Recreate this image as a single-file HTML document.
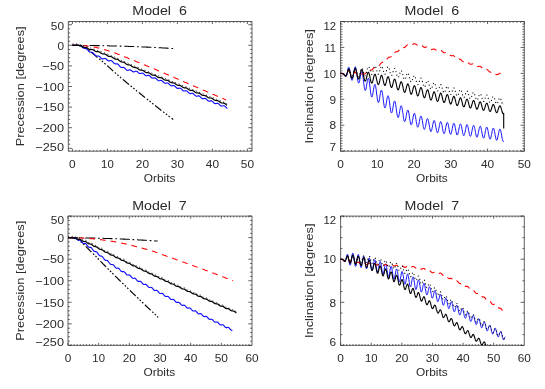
<!DOCTYPE html>
<html>
<head>
<meta charset="utf-8">
<title>Precession and inclination</title>
<style>
html, body { margin: 0; padding: 0; background: #fff; }
body { width: 545px; height: 389px; overflow: hidden; font-family: "Liberation Sans", sans-serif; }
svg { display: block; will-change: transform; }
</style>
</head>
<body>
<svg width="545" height="389" viewBox="0 0 545 389" font-family="'Liberation Sans', sans-serif" fill="#2a2a2a">
<rect x="0" y="0" width="545" height="389" fill="#fff"/>
<clipPath id="c1"><rect x="68.3" y="21.5" width="183.7" height="129.7"/></clipPath>
<path d="M68.3 21.5H252V151.2H68.3ZM68.9 151.2v-1.3M68.9 21.5v1.3M72.4 151.2v-2.59M72.4 21.5v2.59M75.9 151.2v-1.3M75.9 21.5v1.3M79.4 151.2v-1.3M79.4 21.5v1.3M82.9 151.2v-1.3M82.9 21.5v1.3M86.4 151.2v-1.3M86.4 21.5v1.3M89.9 151.2v-1.3M89.9 21.5v1.3M93.4 151.2v-1.3M93.4 21.5v1.3M96.9 151.2v-1.3M96.9 21.5v1.3M100.4 151.2v-1.3M100.4 21.5v1.3M103.9 151.2v-1.3M103.9 21.5v1.3M107.4 151.2v-2.59M107.4 21.5v2.59M110.9 151.2v-1.3M110.9 21.5v1.3M114.4 151.2v-1.3M114.4 21.5v1.3M117.9 151.2v-1.3M117.9 21.5v1.3M121.4 151.2v-1.3M121.4 21.5v1.3M124.9 151.2v-1.3M124.9 21.5v1.3M128.4 151.2v-1.3M128.4 21.5v1.3M131.9 151.2v-1.3M131.9 21.5v1.3M135.4 151.2v-1.3M135.4 21.5v1.3M138.9 151.2v-1.3M138.9 21.5v1.3M142.4 151.2v-2.59M142.4 21.5v2.59M145.9 151.2v-1.3M145.9 21.5v1.3M149.4 151.2v-1.3M149.4 21.5v1.3M152.9 151.2v-1.3M152.9 21.5v1.3M156.4 151.2v-1.3M156.4 21.5v1.3M159.9 151.2v-1.3M159.9 21.5v1.3M163.4 151.2v-1.3M163.4 21.5v1.3M166.9 151.2v-1.3M166.9 21.5v1.3M170.4 151.2v-1.3M170.4 21.5v1.3M173.9 151.2v-1.3M173.9 21.5v1.3M177.4 151.2v-2.59M177.4 21.5v2.59M180.9 151.2v-1.3M180.9 21.5v1.3M184.4 151.2v-1.3M184.4 21.5v1.3M187.9 151.2v-1.3M187.9 21.5v1.3M191.4 151.2v-1.3M191.4 21.5v1.3M194.9 151.2v-1.3M194.9 21.5v1.3M198.4 151.2v-1.3M198.4 21.5v1.3M201.9 151.2v-1.3M201.9 21.5v1.3M205.4 151.2v-1.3M205.4 21.5v1.3M208.9 151.2v-1.3M208.9 21.5v1.3M212.4 151.2v-2.59M212.4 21.5v2.59M215.9 151.2v-1.3M215.9 21.5v1.3M219.4 151.2v-1.3M219.4 21.5v1.3M222.9 151.2v-1.3M222.9 21.5v1.3M226.4 151.2v-1.3M226.4 21.5v1.3M229.9 151.2v-1.3M229.9 21.5v1.3M233.4 151.2v-1.3M233.4 21.5v1.3M236.9 151.2v-1.3M236.9 21.5v1.3M240.4 151.2v-1.3M240.4 21.5v1.3M243.9 151.2v-1.3M243.9 21.5v1.3M247.4 151.2v-2.59M247.4 21.5v2.59M250.9 151.2v-1.3M250.9 21.5v1.3M68.3 148.3h3.67M252 148.3h-3.67M68.3 144.18h1.84M252 144.18h-1.84M68.3 140.06h1.84M252 140.06h-1.84M68.3 135.94h1.84M252 135.94h-1.84M68.3 131.82h1.84M252 131.82h-1.84M68.3 127.7h3.67M252 127.7h-3.67M68.3 123.58h1.84M252 123.58h-1.84M68.3 119.46h1.84M252 119.46h-1.84M68.3 115.34h1.84M252 115.34h-1.84M68.3 111.22h1.84M252 111.22h-1.84M68.3 107.1h3.67M252 107.1h-3.67M68.3 102.98h1.84M252 102.98h-1.84M68.3 98.86h1.84M252 98.86h-1.84M68.3 94.74h1.84M252 94.74h-1.84M68.3 90.62h1.84M252 90.62h-1.84M68.3 86.5h3.67M252 86.5h-3.67M68.3 82.38h1.84M252 82.38h-1.84M68.3 78.26h1.84M252 78.26h-1.84M68.3 74.14h1.84M252 74.14h-1.84M68.3 70.02h1.84M252 70.02h-1.84M68.3 65.9h3.67M252 65.9h-3.67M68.3 61.78h1.84M252 61.78h-1.84M68.3 57.66h1.84M252 57.66h-1.84M68.3 53.54h1.84M252 53.54h-1.84M68.3 49.42h1.84M252 49.42h-1.84M68.3 45.3h3.67M252 45.3h-3.67M68.3 41.18h1.84M252 41.18h-1.84M68.3 37.06h1.84M252 37.06h-1.84M68.3 32.94h1.84M252 32.94h-1.84M68.3 28.82h1.84M252 28.82h-1.84M68.3 24.7h3.67M252 24.7h-3.67" fill="none" stroke="#3a3a3a" stroke-width="0.8"/>
<path d="M72.4 45.3 L72.9 45.3 L73.4 45.3 L73.9 45.3 L74.4 45.3 L75 45.3 L75.5 45.3 L76 45.3 L76.5 45.3 L77 45.3 L77.5 45.3 L78 45.3 L78.5 45.3 L79 45.3 L79.5 45.4 L80.1 45.4 L80.6 45.4 L81.1 45.4 L81.6 45.4 L82.1 45.4 L82.6 45.4 L83.1 45.4 L83.6 45.4 L84.1 45.4 L84.6 45.4 L85.2 45.4 L85.7 45.4 L86.2 45.4 L86.7 45.4 L87.2 45.4 L87.7 45.4 L88.2 45.4 L88.7 45.5 L89.2 45.5 L89.7 45.5 L90.3 45.5 L90.8 45.5 L91.3 45.5 L91.8 45.5 L92.3 45.5 L92.8 45.5 L93.3 45.5 L93.8 45.5 L94.3 45.5 L94.8 45.5 L95.4 45.6 L95.9 45.6 L96.4 45.6 L96.9 45.6 L97.4 45.6 L97.9 45.6 L98.4 45.6 L98.9 45.6 L99.4 45.6 L99.9 45.6 L100.5 45.7 L101 45.7 L101.5 45.7 L102 45.7 L102.5 45.7 L103 45.7 L103.5 45.7 L104 45.7 L104.5 45.7 L105 45.8 L105.6 45.8 L106.1 45.8 L106.6 45.8 L107.1 45.8 L107.6 45.8 L108.1 45.8 L108.6 45.8 L109.1 45.8 L109.6 45.9 L110.1 45.9 L110.7 45.9 L111.2 45.9 L111.7 45.9 L112.2 45.9 L112.7 45.9 L113.2 45.9 L113.7 46 L114.2 46 L114.7 46 L115.2 46 L115.8 46 L116.3 46 L116.8 46 L117.3 46 L117.8 46.1 L118.3 46.1 L118.8 46.1 L119.3 46.1 L119.8 46.1 L120.3 46.1 L120.9 46.1 L121.4 46.2 L121.9 46.2 L122.4 46.2 L122.9 46.2 L123.4 46.2 L123.9 46.2 L124.4 46.2 L124.9 46.3 L125.4 46.3 L126 46.3 L126.5 46.3 L127 46.3 L127.5 46.3 L128 46.3 L128.5 46.4 L129 46.4 L129.5 46.4 L130 46.4 L130.5 46.4 L131.1 46.4 L131.6 46.5 L132.1 46.5 L132.6 46.5 L133.1 46.5 L133.6 46.5 L134.1 46.6 L134.6 46.6 L135.1 46.6 L135.6 46.6 L136.2 46.6 L136.7 46.7 L137.2 46.7 L137.7 46.7 L138.2 46.7 L138.7 46.7 L139.2 46.8 L139.7 46.8 L140.2 46.8 L140.7 46.8 L141.3 46.8 L141.8 46.9 L142.3 46.9 L142.8 46.9 L143.3 46.9 L143.8 46.9 L144.3 47 L144.8 47 L145.3 47 L145.8 47 L146.4 47.1 L146.9 47.1 L147.4 47.1 L147.9 47.1 L148.4 47.2 L148.9 47.2 L149.4 47.2 L149.9 47.2 L150.4 47.3 L150.9 47.3 L151.5 47.3 L152 47.3 L152.5 47.4 L153 47.4 L153.5 47.4 L154 47.4 L154.5 47.5 L155 47.5 L155.5 47.5 L156 47.5 L156.6 47.6 L157.1 47.6 L157.6 47.6 L158.1 47.6 L158.6 47.7 L159.1 47.7 L159.6 47.7 L160.1 47.7 L160.6 47.8 L161.1 47.8 L161.7 47.8 L162.2 47.9 L162.7 47.9 L163.2 47.9 L163.7 47.9 L164.2 48 L164.7 48 L165.2 48 L165.7 48.1 L166.2 48.1 L166.8 48.1 L167.3 48.1 L167.8 48.2 L168.3 48.2 L168.8 48.2 L169.3 48.3 L169.8 48.3 L170.3 48.3 L170.8 48.4 L171.3 48.4 L171.9 48.5 L172.4 48.5 L172.9 48.5 L173.4 48.6 L173.9 48.6" fill="none" stroke="#000000" stroke-width="1.05" stroke-linejoin="round" stroke-dasharray="10 2.8 1.7 2.8"/>
<path d="M72.4 45.3 L72.9 45.3 L73.4 45.3 L73.9 45.3 L74.4 45.3 L74.9 45.3 L75.4 45.3 L75.9 45.4 L76.5 45.4 L77 45.4 L77.5 45.4 L78 45.4 L78.5 45.5 L79 45.5 L79.5 45.7 L80 45.8 L80.5 46 L81 46.2 L81.5 46.4 L82 46.6 L82.5 46.9 L83 47.1 L83.5 47.3 L84.1 47.6 L84.6 47.8 L85.1 48.1 L85.6 48.4 L86.1 48.6 L86.6 48.9 L87.1 49.3 L87.6 49.6 L88.1 49.9 L88.6 50.3 L89.1 50.6 L89.6 51 L90.1 51.4 L90.6 51.8 L91.1 52.2 L91.6 52.6 L92.2 53 L92.7 53.4 L93.2 53.8 L93.7 54.2 L94.2 54.6 L94.7 55 L95.2 55.5 L95.7 55.9 L96.2 56.3 L96.7 56.8 L97.2 57.2 L97.7 57.6 L98.2 58.1 L98.7 58.5 L99.2 58.9 L99.8 59.3 L100.3 59.7 L100.8 60.1 L101.3 60.6 L101.8 61 L102.3 61.4 L102.8 61.8 L103.3 62.2 L103.8 62.7 L104.3 63.1 L104.8 63.5 L105.3 64 L105.8 64.4 L106.3 64.9 L106.8 65.3 L107.4 65.8 L107.9 66.2 L108.4 66.7 L108.9 67.1 L109.4 67.6 L109.9 68 L110.4 68.5 L110.9 69 L111.4 69.4 L111.9 69.9 L112.4 70.3 L112.9 70.8 L113.4 71.2 L113.9 71.7 L114.4 72.2 L114.9 72.6 L115.5 73.1 L116 73.5 L116.5 74 L117 74.4 L117.5 74.8 L118 75.3 L118.5 75.7 L119 76.2 L119.5 76.6 L120 77 L120.5 77.4 L121 77.9 L121.5 78.3 L122 78.7 L122.5 79.1 L123.1 79.6 L123.6 80 L124.1 80.4 L124.6 80.8 L125.1 81.3 L125.6 81.7 L126.1 82.1 L126.6 82.5 L127.1 83 L127.6 83.4 L128.1 83.8 L128.6 84.2 L129.1 84.6 L129.6 85.1 L130.1 85.5 L130.7 85.9 L131.2 86.3 L131.7 86.7 L132.2 87.1 L132.7 87.5 L133.2 88 L133.7 88.4 L134.2 88.8 L134.7 89.2 L135.2 89.6 L135.7 90 L136.2 90.4 L136.7 90.9 L137.2 91.3 L137.7 91.7 L138.2 92.1 L138.8 92.5 L139.3 92.9 L139.8 93.3 L140.3 93.7 L140.8 94.1 L141.3 94.5 L141.8 94.9 L142.3 95.3 L142.8 95.8 L143.3 96.2 L143.8 96.6 L144.3 97 L144.8 97.4 L145.3 97.8 L145.8 98.2 L146.4 98.6 L146.9 99 L147.4 99.4 L147.9 99.8 L148.4 100.2 L148.9 100.6 L149.4 101 L149.9 101.4 L150.4 101.8 L150.9 102.2 L151.4 102.6 L151.9 103 L152.4 103.4 L152.9 103.8 L153.4 104.2 L154 104.6 L154.5 105 L155 105.4 L155.5 105.8 L156 106.2 L156.5 106.6 L157 107 L157.5 107.4 L158 107.8 L158.5 108.2 L159 108.6 L159.5 109 L160 109.4 L160.5 109.8 L161 110.2 L161.5 110.5 L162.1 110.9 L162.6 111.3 L163.1 111.7 L163.6 112.1 L164.1 112.5 L164.6 112.9 L165.1 113.3 L165.6 113.7 L166.1 114.1 L166.6 114.4 L167.1 114.8 L167.6 115.2 L168.1 115.6 L168.6 116 L169.1 116.4 L169.7 116.8 L170.2 117.2 L170.7 117.5 L171.2 117.9 L171.7 118.3 L172.2 118.7 L172.7 119.1 L173.2 119.5" fill="none" stroke="#000000" stroke-width="1.2" stroke-linejoin="round" stroke-dasharray="8 2.2 1.6 1.8 1.6 1.8 1.6 2.2"/>
<path d="M72.4 45.3 L72.7 45.3 L72.9 45.3 L73.2 45.3 L73.4 45.3 L73.7 45.3 L74 45.3 L74.2 45.3 L74.5 45.3 L74.7 45.3 L75 45.3 L75.2 45.3 L75.5 45.3 L75.8 45.3 L76 45.4 L76.3 45.4 L76.5 45.4 L76.8 45.4 L77.1 45.4 L77.3 45.4 L77.6 45.4 L77.8 45.4 L78.1 45.4 L78.4 45.4 L78.6 45.5 L78.9 45.5 L79.1 45.5 L79.4 45.6 L79.6 45.6 L79.9 45.7 L80.2 45.8 L80.4 45.9 L80.7 46 L80.9 46.1 L81.2 46.3 L81.5 46.5 L81.7 46.7 L82 46.9 L82.2 47.1 L82.5 47.4 L82.8 47.6 L83 47.8 L83.3 47.9 L83.5 48.1 L83.8 48.2 L84 48.3 L84.3 48.3 L84.6 48.4 L84.8 48.4 L85.1 48.4 L85.3 48.4 L85.6 48.4 L85.9 48.5 L86.1 48.5 L86.4 48.6 L86.6 48.8 L86.9 49 L87.2 49.3 L87.4 49.6 L87.7 49.9 L87.9 50.2 L88.2 50.6 L88.4 50.9 L88.7 51.2 L89 51.4 L89.2 51.7 L89.5 51.9 L89.7 52 L90 52.1 L90.3 52.2 L90.5 52.2 L90.8 52.2 L91 52.2 L91.3 52.2 L91.6 52.2 L91.8 52.2 L92.1 52.3 L92.3 52.4 L92.6 52.5 L92.8 52.7 L93.1 52.9 L93.4 53.2 L93.6 53.5 L93.9 53.8 L94.1 54.1 L94.4 54.4 L94.7 54.8 L94.9 55.1 L95.2 55.3 L95.4 55.6 L95.7 55.7 L96 55.9 L96.2 56 L96.5 56 L96.7 56 L97 56 L97.2 56 L97.5 56 L97.8 56 L98 56 L98.3 56 L98.5 56 L98.8 56.1 L99.1 56.2 L99.3 56.4 L99.6 56.6 L99.8 56.9 L100.1 57.1 L100.4 57.4 L100.6 57.7 L100.9 58 L101.1 58.2 L101.4 58.4 L101.6 58.6 L101.9 58.8 L102.2 58.9 L102.4 58.9 L102.7 58.9 L102.9 58.9 L103.2 58.8 L103.5 58.7 L103.7 58.6 L104 58.6 L104.2 58.5 L104.5 58.5 L104.8 58.4 L105 58.5 L105.3 58.6 L105.5 58.7 L105.8 58.8 L106.1 59 L106.3 59.3 L106.6 59.5 L106.8 59.7 L107.1 60 L107.3 60.2 L107.6 60.4 L107.9 60.6 L108.1 60.7 L108.4 60.8 L108.6 60.9 L108.9 60.9 L109.2 60.9 L109.4 60.8 L109.7 60.7 L109.9 60.7 L110.2 60.6 L110.5 60.5 L110.7 60.5 L111 60.5 L111.2 60.6 L111.5 60.7 L111.7 60.8 L112 61 L112.3 61.3 L112.5 61.5 L112.8 61.8 L113 62.1 L113.3 62.4 L113.6 62.7 L113.8 63 L114.1 63.2 L114.3 63.4 L114.6 63.6 L114.9 63.7 L115.1 63.8 L115.4 63.8 L115.6 63.8 L115.9 63.8 L116.1 63.8 L116.4 63.8 L116.7 63.8 L116.9 63.8 L117.2 63.8 L117.4 63.9 L117.7 64 L118 64.2 L118.2 64.4 L118.5 64.7 L118.7 65 L119 65.3 L119.3 65.6 L119.5 65.9 L119.8 66.3 L120 66.5 L120.3 66.8 L120.5 67 L120.8 67.2 L121.1 67.3 L121.3 67.4 L121.6 67.5 L121.8 67.5 L122.1 67.5 L122.4 67.4 L122.6 67.4 L122.9 67.4 L123.1 67.4 L123.4 67.4 L123.7 67.5 L123.9 67.6 L124.2 67.7 L124.4 67.9 L124.7 68.1 L124.9 68.4 L125.2 68.6 L125.5 68.9 L125.7 69.2 L126 69.5 L126.2 69.7 L126.5 69.9 L126.8 70.1 L127 70.2 L127.3 70.3 L127.5 70.4 L127.8 70.3 L128.1 70.3 L128.3 70.2 L128.6 70.1 L128.8 70 L129.1 69.9 L129.3 69.9 L129.6 69.8 L129.9 69.8 L130.1 69.8 L130.4 69.9 L130.6 70 L130.9 70.2 L131.2 70.4 L131.4 70.6 L131.7 70.8 L131.9 71 L132.2 71.2 L132.5 71.4 L132.7 71.6 L133 71.7 L133.2 71.8 L133.5 71.9 L133.7 71.9 L134 71.9 L134.3 71.8 L134.5 71.7 L134.8 71.6 L135 71.5 L135.3 71.4 L135.6 71.3 L135.8 71.2 L136.1 71.2 L136.3 71.2 L136.6 71.3 L136.9 71.4 L137.1 71.5 L137.4 71.7 L137.6 72 L137.9 72.2 L138.1 72.4 L138.4 72.7 L138.7 72.9 L138.9 73.1 L139.2 73.3 L139.4 73.4 L139.7 73.5 L140 73.5 L140.2 73.5 L140.5 73.5 L140.7 73.5 L141 73.4 L141.3 73.3 L141.5 73.2 L141.8 73.1 L142 73.1 L142.3 73.1 L142.5 73.1 L142.8 73.2 L143.1 73.3 L143.3 73.5 L143.6 73.7 L143.8 73.9 L144.1 74.2 L144.4 74.4 L144.6 74.7 L144.9 74.9 L145.1 75.2 L145.4 75.4 L145.7 75.5 L145.9 75.6 L146.2 75.7 L146.4 75.7 L146.7 75.7 L146.9 75.7 L147.2 75.6 L147.5 75.5 L147.7 75.5 L148 75.4 L148.2 75.4 L148.5 75.4 L148.8 75.4 L149 75.5 L149.3 75.6 L149.5 75.8 L149.8 76 L150.1 76.2 L150.3 76.5 L150.6 76.7 L150.8 77 L151.1 77.3 L151.3 77.5 L151.6 77.7 L151.9 77.9 L152.1 78 L152.4 78.1 L152.6 78.2 L152.9 78.2 L153.2 78.1 L153.4 78.1 L153.7 78 L153.9 78 L154.2 77.9 L154.5 77.9 L154.7 77.9 L155 77.9 L155.2 78 L155.5 78.1 L155.7 78.3 L156 78.5 L156.3 78.7 L156.5 79 L156.8 79.2 L157 79.5 L157.3 79.8 L157.6 80 L157.8 80.2 L158.1 80.4 L158.3 80.6 L158.6 80.7 L158.9 80.7 L159.1 80.7 L159.4 80.7 L159.6 80.7 L159.9 80.6 L160.1 80.5 L160.4 80.5 L160.7 80.4 L160.9 80.4 L161.2 80.5 L161.4 80.5 L161.7 80.6 L162 80.8 L162.2 81 L162.5 81.2 L162.7 81.5 L163 81.7 L163.3 82 L163.5 82.3 L163.8 82.5 L164 82.7 L164.3 82.9 L164.5 83.1 L164.8 83.2 L165.1 83.2 L165.3 83.3 L165.6 83.2 L165.8 83.2 L166.1 83.1 L166.4 83.1 L166.6 83 L166.9 83 L167.1 82.9 L167.4 83 L167.7 83 L167.9 83.1 L168.2 83.3 L168.4 83.4 L168.7 83.7 L169 83.9 L169.2 84.2 L169.5 84.5 L169.7 84.7 L170 85 L170.2 85.2 L170.5 85.4 L170.8 85.6 L171 85.7 L171.3 85.8 L171.5 85.8 L171.8 85.8 L172.1 85.7 L172.3 85.7 L172.6 85.6 L172.8 85.6 L173.1 85.5 L173.4 85.5 L173.6 85.5 L173.9 85.6 L174.1 85.7 L174.4 85.8 L174.6 86 L174.9 86.2 L175.2 86.4 L175.4 86.7 L175.7 87 L175.9 87.3 L176.2 87.5 L176.5 87.8 L176.7 88 L177 88.1 L177.2 88.3 L177.5 88.4 L177.8 88.4 L178 88.4 L178.3 88.4 L178.5 88.3 L178.8 88.3 L179 88.2 L179.3 88.1 L179.6 88.1 L179.8 88.1 L180.1 88.2 L180.3 88.3 L180.6 88.4 L180.9 88.6 L181.1 88.8 L181.4 89 L181.6 89.3 L181.9 89.6 L182.2 89.8 L182.4 90.1 L182.7 90.3 L182.9 90.6 L183.2 90.7 L183.4 90.9 L183.7 91 L184 91 L184.2 91 L184.5 91 L184.7 91 L185 90.9 L185.3 90.8 L185.5 90.8 L185.8 90.7 L186 90.7 L186.3 90.8 L186.6 90.9 L186.8 91 L187.1 91.1 L187.3 91.3 L187.6 91.6 L187.8 91.8 L188.1 92.1 L188.4 92.4 L188.6 92.7 L188.9 92.9 L189.1 93.1 L189.4 93.3 L189.7 93.5 L189.9 93.6 L190.2 93.6 L190.4 93.6 L190.7 93.6 L191 93.6 L191.2 93.5 L191.5 93.4 L191.7 93.4 L192 93.3 L192.2 93.3 L192.5 93.4 L192.8 93.4 L193 93.5 L193.3 93.7 L193.5 93.9 L193.8 94.1 L194.1 94.4 L194.3 94.6 L194.6 94.9 L194.8 95.2 L195.1 95.4 L195.4 95.7 L195.6 95.8 L195.9 96 L196.1 96.1 L196.4 96.2 L196.6 96.2 L196.9 96.2 L197.2 96.1 L197.4 96.1 L197.7 96 L197.9 95.9 L198.2 95.9 L198.5 95.9 L198.7 95.9 L199 95.9 L199.2 96 L199.5 96.2 L199.8 96.4 L200 96.6 L200.3 96.8 L200.5 97.1 L200.8 97.4 L201 97.6 L201.3 97.9 L201.6 98.1 L201.8 98.3 L202.1 98.5 L202.3 98.6 L202.6 98.6 L202.9 98.7 L203.1 98.7 L203.4 98.6 L203.6 98.6 L203.9 98.5 L204.2 98.4 L204.4 98.4 L204.7 98.4 L204.9 98.4 L205.2 98.4 L205.4 98.5 L205.7 98.6 L206 98.8 L206.2 99 L206.5 99.3 L206.7 99.5 L207 99.8 L207.3 100.1 L207.5 100.3 L207.8 100.6 L208 100.8 L208.3 100.9 L208.6 101 L208.8 101.1 L209.1 101.2 L209.3 101.1 L209.6 101.1 L209.8 101.1 L210.1 101 L210.4 100.9 L210.6 100.9 L210.9 100.8 L211.1 100.8 L211.4 100.9 L211.7 100.9 L211.9 101.1 L212.2 101.2 L212.4 101.4 L212.7 101.7 L213 101.9 L213.2 102.2 L213.5 102.5 L213.7 102.7 L214 103 L214.2 103.2 L214.5 103.4 L214.8 103.5 L215 103.6 L215.3 103.6 L215.5 103.6 L215.8 103.6 L216.1 103.5 L216.3 103.5 L216.6 103.4 L216.8 103.3 L217.1 103.3 L217.4 103.3 L217.6 103.3 L217.9 103.4 L218.1 103.5 L218.4 103.6 L218.6 103.8 L218.9 104.1 L219.2 104.3 L219.4 104.6 L219.7 104.9 L219.9 105.1 L220.2 105.4 L220.5 105.6 L220.7 105.8 L221 105.9 L221.2 106 L221.5 106 L221.8 106 L222 106 L222.3 106 L222.5 105.9 L222.8 105.8 L223 105.8 L223.3 105.7 L223.6 105.7 L223.8 105.7 L224.1 105.8 L224.3 105.9 L224.6 106 L224.9 106.2 L225.1 106.4 L225.4 106.7 L225.6 106.9 L225.9 107.2 L226.2 107.5 L226.4 107.7 L226.7 107.9 L226.9 108.1 L227.2 108.3 L227.4 108.4" fill="none" stroke="#1010ff" stroke-width="1.15" stroke-linejoin="round"/>
<path d="M72.4 45.3 L72.9 45.3 L73.4 45.3 L73.9 45.3 L74.5 45.3 L75 45.3 L75.5 45.3 L76 45.3 L76.5 45.3 L77 45.3 L77.5 45.3 L78.1 45.4 L78.6 45.4 L79.1 45.4 L79.6 45.4 L80.1 45.4 L80.6 45.4 L81.1 45.4 L81.6 45.5 L82.2 45.5 L82.7 45.5 L83.2 45.6 L83.7 45.6 L84.2 45.7 L84.7 45.7 L85.2 45.8 L85.8 45.9 L86.3 45.9 L86.8 46 L87.3 46.1 L87.8 46.1 L88.3 46.2 L88.8 46.3 L89.4 46.3 L89.9 46.4 L90.4 46.5 L90.9 46.6 L91.4 46.6 L91.9 46.7 L92.4 46.8 L93 46.9 L93.5 47 L94 47.1 L94.5 47.1 L95 47.2 L95.5 47.3 L96 47.4 L96.6 47.6 L97.1 47.7 L97.6 47.8 L98.1 47.9 L98.6 48 L99.1 48.2 L99.6 48.3 L100.1 48.4 L100.7 48.6 L101.2 48.7 L101.7 48.8 L102.2 49 L102.7 49.1 L103.2 49.3 L103.7 49.4 L104.3 49.6 L104.8 49.7 L105.3 49.9 L105.8 50 L106.3 50.2 L106.8 50.3 L107.3 50.5 L107.9 50.6 L108.4 50.8 L108.9 51 L109.4 51.1 L109.9 51.3 L110.4 51.4 L110.9 51.6 L111.5 51.8 L112 51.9 L112.5 52.1 L113 52.3 L113.5 52.5 L114 52.6 L114.5 52.8 L115.1 53 L115.6 53.2 L116.1 53.4 L116.6 53.6 L117.1 53.8 L117.6 54 L118.1 54.2 L118.6 54.4 L119.2 54.6 L119.7 54.8 L120.2 55 L120.7 55.2 L121.2 55.4 L121.7 55.6 L122.2 55.8 L122.8 56 L123.3 56.3 L123.8 56.5 L124.3 56.7 L124.8 56.9 L125.3 57.1 L125.8 57.3 L126.4 57.5 L126.9 57.7 L127.4 57.9 L127.9 58.1 L128.4 58.4 L128.9 58.6 L129.4 58.8 L130 59 L130.5 59.2 L131 59.4 L131.5 59.6 L132 59.8 L132.5 60 L133 60.2 L133.6 60.4 L134.1 60.6 L134.6 60.8 L135.1 61 L135.6 61.2 L136.1 61.4 L136.6 61.7 L137.1 61.9 L137.7 62.1 L138.2 62.3 L138.7 62.5 L139.2 62.7 L139.7 62.9 L140.2 63.1 L140.7 63.3 L141.3 63.5 L141.8 63.8 L142.3 64 L142.8 64.2 L143.3 64.4 L143.8 64.6 L144.3 64.8 L144.9 65 L145.4 65.2 L145.9 65.5 L146.4 65.7 L146.9 65.9 L147.4 66.1 L147.9 66.3 L148.5 66.5 L149 66.7 L149.5 67 L150 67.2 L150.5 67.4 L151 67.6 L151.5 67.8 L152.1 68 L152.6 68.3 L153.1 68.5 L153.6 68.7 L154.1 68.9 L154.6 69.1 L155.1 69.3 L155.6 69.6 L156.2 69.8 L156.7 70 L157.2 70.2 L157.7 70.4 L158.2 70.7 L158.7 70.9 L159.2 71.1 L159.8 71.3 L160.3 71.5 L160.8 71.7 L161.3 72 L161.8 72.2 L162.3 72.4 L162.8 72.6 L163.4 72.8 L163.9 73.1 L164.4 73.3 L164.9 73.5 L165.4 73.7 L165.9 73.9 L166.4 74.2 L167 74.4 L167.5 74.6 L168 74.8 L168.5 75.1 L169 75.3 L169.5 75.5 L170 75.7 L170.6 75.9 L171.1 76.2 L171.6 76.4 L172.1 76.6 L172.6 76.8 L173.1 77.1 L173.6 77.3 L174.1 77.5 L174.7 77.7 L175.2 77.9 L175.7 78.2 L176.2 78.4 L176.7 78.6 L177.2 78.8 L177.7 79.1 L178.3 79.3 L178.8 79.5 L179.3 79.7 L179.8 79.9 L180.3 80.2 L180.8 80.4 L181.3 80.6 L181.9 80.8 L182.4 81.1 L182.9 81.3 L183.4 81.5 L183.9 81.7 L184.4 82 L184.9 82.2 L185.5 82.4 L186 82.6 L186.5 82.9 L187 83.1 L187.5 83.3 L188 83.5 L188.5 83.7 L189.1 84 L189.6 84.2 L190.1 84.4 L190.6 84.6 L191.1 84.9 L191.6 85.1 L192.1 85.3 L192.6 85.5 L193.2 85.7 L193.7 86 L194.2 86.2 L194.7 86.4 L195.2 86.6 L195.7 86.9 L196.2 87.1 L196.8 87.3 L197.3 87.5 L197.8 87.7 L198.3 88 L198.8 88.2 L199.3 88.4 L199.8 88.6 L200.4 88.9 L200.9 89.1 L201.4 89.3 L201.9 89.5 L202.4 89.7 L202.9 90 L203.4 90.2 L204 90.4 L204.5 90.6 L205 90.8 L205.5 91.1 L206 91.3 L206.5 91.5 L207 91.7 L207.6 91.9 L208.1 92.2 L208.6 92.4 L209.1 92.6 L209.6 92.8 L210.1 93.1 L210.6 93.3 L211.1 93.5 L211.7 93.7 L212.2 93.9 L212.7 94.2 L213.2 94.4 L213.7 94.6 L214.2 94.8 L214.7 95 L215.3 95.3 L215.8 95.5 L216.3 95.7 L216.8 95.9 L217.3 96.1 L217.8 96.4 L218.3 96.6 L218.9 96.8 L219.4 97 L219.9 97.2 L220.4 97.5 L220.9 97.7 L221.4 97.9 L221.9 98.1 L222.5 98.3 L223 98.6 L223.5 98.8 L224 99 L224.5 99.2 L225 99.4 L225.5 99.7 L226.1 99.9" fill="none" stroke="#ff0000" stroke-width="1.1" stroke-linejoin="round" stroke-dasharray="5.8 4.9"/>
<path d="M72.4 44 L72.7 44 L72.9 44 L73.2 44 L73.4 44 L73.7 44 L73.9 44 L74.2 44 L74.5 44 L74.7 44 L75 44 L75.2 44 L75.5 44 L75.8 44 L76 44 L76.3 44 L76.5 44 L76.8 44 L77 44 L77.3 44.1 L77.6 44.1 L77.8 44.1 L78.1 44.1 L78.3 44.1 L78.6 44.1 L78.9 44.1 L79.1 44.1 L79.4 44.2 L79.6 44.2 L79.9 44.3 L80.1 44.4 L80.4 44.5 L80.7 44.6 L80.9 44.7 L81.2 44.8 L81.4 44.9 L81.7 45 L82 45.1 L82.2 45.2 L82.5 45.3 L82.7 45.4 L83 45.5 L83.2 45.6 L83.5 45.7 L83.8 45.8 L84 45.9 L84.3 46 L84.5 46.1 L84.8 46.1 L85.1 46.2 L85.3 46.3 L85.6 46.4 L85.8 46.5 L86.1 46.6 L86.3 46.7 L86.6 46.7 L86.9 46.8 L87.1 46.9 L87.4 47 L87.6 47.1 L87.9 47.2 L88.2 47.3 L88.4 47.3 L88.7 47.4 L88.9 47.5 L89.2 47.6 L89.4 47.7 L89.7 47.8 L90 47.9 L90.2 47.9 L90.5 48 L90.7 48.1 L91 48.2 L91.3 48.3 L91.5 48.4 L91.8 48.5 L92 48.5 L92.3 48.6 L92.5 48.7 L92.8 48.8 L93.1 48.9 L93.3 49 L93.6 49.1 L93.8 49.1 L94.1 49.2 L94.4 49.3 L94.6 49.4 L94.9 49.5 L95.1 49.6 L95.4 49.7 L95.6 49.8 L95.9 49.8 L96.2 49.9 L96.4 50 L96.7 50.1 L96.9 50.2 L97.2 50.3 L97.5 50.4 L97.7 50.5 L98 50.6 L98.2 50.7 L98.5 50.7 L98.7 50.8 L99 50.9 L99.3 51 L99.5 51.1 L99.8 51.2 L100 51.3 L100.3 51.4 L100.6 51.5 L100.8 51.6 L101.1 51.7 L101.3 51.8 L101.6 51.9 L101.8 52 L102.1 52.1 L102.4 52.2 L102.6 52.3 L102.9 52.4 L103.1 52.4 L103.4 52.5 L103.6 52.6 L103.9 52.7 L104.2 52.8 L104.4 52.9 L104.7 53 L104.9 53.1 L105.2 53.2 L105.5 53.3 L105.7 53.4 L106 53.5 L106.2 53.6 L106.5 53.7 L106.7 53.8 L107 54 L107.3 54.1 L107.5 54.2 L107.8 54.3 L108 54.4 L108.3 54.5 L108.6 54.6 L108.8 54.7 L109.1 54.8 L109.3 54.9 L109.6 55 L109.8 55.1 L110.1 55.2 L110.4 55.3 L110.6 55.4 L110.9 55.5 L111.1 55.6 L111.4 55.8 L111.7 55.9 L111.9 56 L112.2 56.1 L112.4 56.2 L112.7 56.3 L112.9 56.4 L113.2 56.5 L113.5 56.6 L113.7 56.8 L114 56.9 L114.2 57 L114.5 57.1 L114.8 57.2 L115 57.3 L115.3 57.5 L115.5 57.6 L115.8 57.7 L116 57.8 L116.3 57.9 L116.6 58 L116.8 58.2 L117.1 58.3 L117.3 58.4 L117.6 58.5 L117.9 58.6 L118.1 58.8 L118.4 58.9 L118.6 59 L118.9 59.1 L119.1 59.2 L119.4 59.4 L119.7 59.5 L119.9 59.6 L120.2 59.7 L120.4 59.8 L120.7 60 L121 60.1 L121.2 60.2 L121.5 60.3 L121.7 60.4 L122 60.6 L122.2 60.7 L122.5 60.8 L122.8 60.9 L123 61 L123.3 61.1 L123.5 61.3 L123.8 61.4 L124.1 61.5 L124.3 61.6 L124.6 61.7 L124.8 61.9 L125.1 62 L125.3 62.1 L125.6 62.2 L125.9 62.3 L126.1 62.4 L126.4 62.6 L126.6 62.7 L126.9 62.8 L127.2 62.9 L127.4 63 L127.7 63.1 L127.9 63.2 L128.2 63.4 L128.4 63.5 L128.7 63.6 L129 63.7 L129.2 63.8 L129.5 63.9 L129.7 64 L130 64.1 L130.3 64.2 L130.5 64.4 L130.8 64.5 L131 64.6 L131.3 64.7 L131.5 64.8 L131.8 64.9 L132.1 65 L132.3 65.1 L132.6 65.2 L132.8 65.4 L133.1 65.5 L133.4 65.6 L133.6 65.7 L133.9 65.8 L134.1 65.9 L134.4 66 L134.6 66.1 L134.9 66.2 L135.2 66.3 L135.4 66.4 L135.7 66.6 L135.9 66.7 L136.2 66.8 L136.4 66.9 L136.7 67 L137 67.1 L137.2 67.2 L137.5 67.3 L137.7 67.4 L138 67.5 L138.3 67.6 L138.5 67.7 L138.8 67.8 L139 68 L139.3 68.1 L139.5 68.2 L139.8 68.3 L140.1 68.4 L140.3 68.5 L140.6 68.6 L140.8 68.7 L141.1 68.8 L141.4 68.9 L141.6 69 L141.9 69.1 L142.1 69.2 L142.4 69.3 L142.6 69.4 L142.9 69.5 L143.2 69.6 L143.4 69.8 L143.7 69.9 L143.9 70 L144.2 70.1 L144.5 70.2 L144.7 70.3 L145 70.4 L145.2 70.5 L145.5 70.6 L145.7 70.7 L146 70.8 L146.3 70.9 L146.5 71 L146.8 71.1 L147 71.2 L147.3 71.3 L147.6 71.4 L147.8 71.5 L148.1 71.6 L148.3 71.7 L148.6 71.8 L148.8 71.9 L149.1 72 L149.4 72.1 L149.6 72.2 L149.9 72.4 L150.1 72.5 L150.4 72.6 L150.7 72.7 L150.9 72.8 L151.2 72.9 L151.4 73 L151.7 73.1 L151.9 73.2 L152.2 73.3 L152.5 73.4 L152.7 73.5 L153 73.6 L153.2 73.7 L153.5 73.8 L153.8 73.9 L154 74 L154.3 74.1 L154.5 74.2 L154.8 74.3 L155 74.4 L155.3 74.5 L155.6 74.6 L155.8 74.7 L156.1 74.8 L156.3 74.9 L156.6 75 L156.9 75.1 L157.1 75.2 L157.4 75.3 L157.6 75.4 L157.9 75.5 L158.1 75.6 L158.4 75.8 L158.7 75.9 L158.9 76 L159.2 76.1 L159.4 76.2 L159.7 76.3 L160 76.4 L160.2 76.5 L160.5 76.6 L160.7 76.7 L161 76.8 L161.2 76.9 L161.5 77 L161.8 77.1 L162 77.2 L162.3 77.3 L162.5 77.4 L162.8 77.5 L163.1 77.6 L163.3 77.7 L163.6 77.8 L163.8 77.9 L164.1 78 L164.3 78.1 L164.6 78.2 L164.9 78.3 L165.1 78.4 L165.4 78.6 L165.6 78.7 L165.9 78.8 L166.1 78.9 L166.4 79 L166.7 79.1 L166.9 79.2 L167.2 79.3 L167.4 79.4 L167.7 79.5 L168 79.6 L168.2 79.7 L168.5 79.8 L168.7 79.9 L169 80 L169.2 80.1 L169.5 80.2 L169.8 80.3 L170 80.4 L170.3 80.5 L170.5 80.6 L170.8 80.7 L171.1 80.9 L171.3 81 L171.6 81.1 L171.8 81.2 L172.1 81.3 L172.3 81.4 L172.6 81.5 L172.9 81.6 L173.1 81.7 L173.4 81.8 L173.6 81.9 L173.9 82 L174.2 82.1 L174.4 82.2 L174.7 82.3 L174.9 82.4 L175.2 82.5 L175.4 82.6 L175.7 82.7 L176 82.8 L176.2 83 L176.5 83.1 L176.7 83.2 L177 83.3 L177.3 83.4 L177.5 83.5 L177.8 83.6 L178 83.7 L178.3 83.8 L178.5 83.9 L178.8 84 L179.1 84.1 L179.3 84.2 L179.6 84.3 L179.8 84.4 L180.1 84.5 L180.4 84.6 L180.6 84.7 L180.9 84.8 L181.1 84.9 L181.4 85.1 L181.6 85.2 L181.9 85.3 L182.2 85.4 L182.4 85.5 L182.7 85.6 L182.9 85.7 L183.2 85.8 L183.5 85.9 L183.7 86 L184 86.1 L184.2 86.2 L184.5 86.3 L184.7 86.4 L185 86.5 L185.3 86.6 L185.5 86.7 L185.8 86.8 L186 86.9 L186.3 87 L186.6 87.2 L186.8 87.3 L187.1 87.4 L187.3 87.5 L187.6 87.6 L187.8 87.7 L188.1 87.8 L188.4 87.9 L188.6 88 L188.9 88.1 L189.1 88.2 L189.4 88.3 L189.7 88.4 L189.9 88.5 L190.2 88.6 L190.4 88.7 L190.7 88.8 L190.9 88.9 L191.2 89 L191.5 89.1 L191.7 89.2 L192 89.4 L192.2 89.5 L192.5 89.6 L192.8 89.7 L193 89.8 L193.3 89.9 L193.5 90 L193.8 90.1 L194 90.2 L194.3 90.3 L194.6 90.4 L194.8 90.5 L195.1 90.6 L195.3 90.7 L195.6 90.8 L195.9 90.9 L196.1 91 L196.4 91.1 L196.6 91.2 L196.9 91.3 L197.1 91.4 L197.4 91.5 L197.7 91.7 L197.9 91.8 L198.2 91.9 L198.4 92 L198.7 92.1 L198.9 92.2 L199.2 92.3 L199.5 92.4 L199.7 92.5 L200 92.6 L200.2 92.7 L200.5 92.8 L200.8 92.9 L201 93 L201.3 93.1 L201.5 93.2 L201.8 93.3 L202 93.4 L202.3 93.5 L202.6 93.6 L202.8 93.7 L203.1 93.8 L203.3 93.9 L203.6 94.1 L203.9 94.2 L204.1 94.3 L204.4 94.4 L204.6 94.5 L204.9 94.6 L205.1 94.7 L205.4 94.8 L205.7 94.9 L205.9 95 L206.2 95.1 L206.4 95.2 L206.7 95.3 L207 95.4 L207.2 95.5 L207.5 95.6 L207.7 95.7 L208 95.8 L208.2 95.9 L208.5 96 L208.8 96.1 L209 96.2 L209.3 96.3 L209.5 96.4 L209.8 96.6 L210.1 96.7 L210.3 96.8 L210.6 96.9 L210.8 97 L211.1 97.1 L211.3 97.2 L211.6 97.3 L211.9 97.4 L212.1 97.5 L212.4 97.6 L212.6 97.7 L212.9 97.8 L213.2 97.9 L213.4 98 L213.7 98.1 L213.9 98.2 L214.2 98.3 L214.4 98.4 L214.7 98.5 L215 98.6 L215.2 98.7 L215.5 98.8 L215.7 98.9 L216 99.1 L216.3 99.2 L216.5 99.3 L216.8 99.4 L217 99.5 L217.3 99.6 L217.5 99.7 L217.8 99.8 L218.1 99.9 L218.3 100 L218.6 100.1 L218.8 100.2 L219.1 100.3 L219.4 100.4 L219.6 100.5 L219.9 100.6 L220.1 100.7 L220.4 100.8 L220.6 100.9 L220.9 101 L221.2 101.1 L221.4 101.2 L221.7 101.3 L221.9 101.4 L222.2 101.5 L222.5 101.6 L222.7 101.8 L223 101.9 L223.2 102 L223.5 102.1 L223.7 102.2 L224 102.3 L224.3 102.4 L224.5 102.5 L224.8 102.6 L225 102.7 L225.3 102.8 L225.6 102.9 L225.8 103 L226.1 103.1 L226.3 103.2 L226.6 103.3 L226.8 103.4 L227.1 103.5" fill="none" stroke="#000000" stroke-width="1.0" stroke-linejoin="round" stroke-dasharray="1.1 2.6"/>
<path d="M72.4 45.3 L72.7 45.3 L72.9 45.3 L73.2 45.3 L73.4 45.3 L73.7 45.3 L73.9 45.3 L74.2 45.3 L74.5 45.3 L74.7 45.3 L75 45.3 L75.2 45.3 L75.5 45.3 L75.8 45.3 L76 45.3 L76.3 45.3 L76.5 45.4 L76.8 45.4 L77 45.4 L77.3 45.4 L77.6 45.4 L77.8 45.4 L78.1 45.4 L78.3 45.4 L78.6 45.4 L78.9 45.4 L79.1 45.5 L79.4 45.5 L79.6 45.6 L79.9 45.6 L80.1 45.7 L80.4 45.7 L80.7 45.8 L80.9 45.9 L81.2 46.1 L81.4 46.2 L81.7 46.3 L82 46.5 L82.2 46.6 L82.5 46.8 L82.7 46.9 L83 47 L83.2 47.2 L83.5 47.2 L83.8 47.3 L84 47.4 L84.3 47.4 L84.5 47.5 L84.8 47.5 L85.1 47.5 L85.3 47.5 L85.6 47.5 L85.8 47.5 L86.1 47.6 L86.3 47.6 L86.6 47.7 L86.9 47.8 L87.1 48 L87.4 48.1 L87.6 48.3 L87.9 48.5 L88.2 48.7 L88.4 48.8 L88.7 49 L88.9 49.1 L89.2 49.3 L89.4 49.4 L89.7 49.5 L90 49.5 L90.2 49.5 L90.5 49.6 L90.7 49.6 L91 49.5 L91.3 49.5 L91.5 49.5 L91.8 49.5 L92 49.6 L92.3 49.6 L92.5 49.7 L92.8 49.8 L93.1 49.9 L93.3 50 L93.6 50.2 L93.8 50.3 L94.1 50.5 L94.4 50.7 L94.6 50.9 L94.9 51 L95.1 51.2 L95.4 51.3 L95.6 51.4 L95.9 51.5 L96.2 51.6 L96.4 51.6 L96.7 51.7 L96.9 51.7 L97.2 51.7 L97.5 51.7 L97.7 51.7 L98 51.7 L98.2 51.7 L98.5 51.7 L98.7 51.8 L99 51.9 L99.3 52 L99.5 52.1 L99.8 52.3 L100 52.5 L100.3 52.7 L100.6 52.8 L100.8 53 L101.1 53.2 L101.3 53.4 L101.6 53.5 L101.8 53.6 L102.1 53.7 L102.4 53.8 L102.6 53.9 L102.9 53.9 L103.1 53.9 L103.4 53.9 L103.6 53.9 L103.9 53.9 L104.2 54 L104.4 54 L104.7 54 L104.9 54.1 L105.2 54.2 L105.5 54.3 L105.7 54.4 L106 54.6 L106.2 54.8 L106.5 55 L106.7 55.2 L107 55.4 L107.3 55.6 L107.5 55.7 L107.8 55.9 L108 56 L108.3 56.2 L108.6 56.3 L108.8 56.3 L109.1 56.4 L109.3 56.4 L109.6 56.4 L109.8 56.4 L110.1 56.4 L110.4 56.5 L110.6 56.5 L110.9 56.5 L111.1 56.6 L111.4 56.7 L111.7 56.8 L111.9 57 L112.2 57.1 L112.4 57.3 L112.7 57.5 L112.9 57.7 L113.2 57.9 L113.5 58.1 L113.7 58.3 L114 58.5 L114.2 58.7 L114.5 58.8 L114.8 58.9 L115 59 L115.3 59.1 L115.5 59.1 L115.8 59.1 L116 59.2 L116.3 59.2 L116.6 59.2 L116.8 59.2 L117.1 59.3 L117.3 59.4 L117.6 59.5 L117.9 59.6 L118.1 59.7 L118.4 59.9 L118.6 60.1 L118.9 60.3 L119.1 60.5 L119.4 60.7 L119.7 60.9 L119.9 61.1 L120.2 61.3 L120.4 61.5 L120.7 61.6 L121 61.8 L121.2 61.9 L121.5 61.9 L121.7 62 L122 62 L122.2 62 L122.5 62.1 L122.8 62.1 L123 62.1 L123.3 62.2 L123.5 62.2 L123.8 62.3 L124.1 62.5 L124.3 62.6 L124.6 62.8 L124.8 62.9 L125.1 63.1 L125.3 63.3 L125.6 63.6 L125.9 63.8 L126.1 64 L126.4 64.2 L126.6 64.3 L126.9 64.5 L127.2 64.6 L127.4 64.7 L127.7 64.8 L127.9 64.8 L128.2 64.8 L128.4 64.9 L128.7 64.9 L129 64.9 L129.2 64.9 L129.5 65 L129.7 65 L130 65.1 L130.3 65.2 L130.5 65.3 L130.8 65.5 L131 65.6 L131.3 65.8 L131.5 66 L131.8 66.2 L132.1 66.4 L132.3 66.6 L132.6 66.8 L132.8 67 L133.1 67.1 L133.4 67.3 L133.6 67.4 L133.9 67.4 L134.1 67.5 L134.4 67.5 L134.6 67.5 L134.9 67.6 L135.2 67.6 L135.4 67.6 L135.7 67.6 L135.9 67.7 L136.2 67.7 L136.4 67.8 L136.7 67.9 L137 68.1 L137.2 68.2 L137.5 68.4 L137.7 68.6 L138 68.8 L138.3 69 L138.5 69.2 L138.8 69.4 L139 69.6 L139.3 69.7 L139.5 69.9 L139.8 70 L140.1 70 L140.3 70.1 L140.6 70.1 L140.8 70.1 L141.1 70.2 L141.4 70.2 L141.6 70.2 L141.9 70.2 L142.1 70.2 L142.4 70.3 L142.6 70.4 L142.9 70.5 L143.2 70.6 L143.4 70.8 L143.7 71 L143.9 71.1 L144.2 71.3 L144.5 71.5 L144.7 71.7 L145 71.9 L145.2 72.1 L145.5 72.3 L145.7 72.4 L146 72.5 L146.3 72.6 L146.5 72.6 L146.8 72.7 L147 72.7 L147.3 72.7 L147.6 72.7 L147.8 72.7 L148.1 72.7 L148.3 72.8 L148.6 72.8 L148.8 72.9 L149.1 73 L149.4 73.1 L149.6 73.3 L149.9 73.4 L150.1 73.6 L150.4 73.8 L150.7 74 L150.9 74.2 L151.2 74.4 L151.4 74.6 L151.7 74.7 L151.9 74.9 L152.2 75 L152.5 75.1 L152.7 75.1 L153 75.2 L153.2 75.2 L153.5 75.2 L153.8 75.2 L154 75.2 L154.3 75.2 L154.5 75.3 L154.8 75.3 L155 75.4 L155.3 75.5 L155.6 75.6 L155.8 75.7 L156.1 75.9 L156.3 76.1 L156.6 76.3 L156.9 76.5 L157.1 76.7 L157.4 76.8 L157.6 77 L157.9 77.2 L158.1 77.3 L158.4 77.4 L158.7 77.5 L158.9 77.6 L159.2 77.6 L159.4 77.7 L159.7 77.7 L160 77.7 L160.2 77.7 L160.5 77.7 L160.7 77.7 L161 77.8 L161.2 77.9 L161.5 77.9 L161.8 78 L162 78.2 L162.3 78.3 L162.5 78.5 L162.8 78.7 L163.1 78.9 L163.3 79.1 L163.6 79.3 L163.8 79.5 L164.1 79.7 L164.3 79.8 L164.6 79.9 L164.9 80 L165.1 80.1 L165.4 80.2 L165.6 80.2 L165.9 80.2 L166.1 80.2 L166.4 80.2 L166.7 80.2 L166.9 80.3 L167.2 80.3 L167.4 80.4 L167.7 80.4 L168 80.5 L168.2 80.7 L168.5 80.8 L168.7 81 L169 81.2 L169.2 81.4 L169.5 81.6 L169.8 81.8 L170 82 L170.3 82.2 L170.5 82.3 L170.8 82.4 L171.1 82.5 L171.3 82.6 L171.6 82.7 L171.8 82.7 L172.1 82.7 L172.3 82.8 L172.6 82.8 L172.9 82.8 L173.1 82.8 L173.4 82.8 L173.6 82.9 L173.9 83 L174.2 83.1 L174.4 83.2 L174.7 83.3 L174.9 83.5 L175.2 83.7 L175.4 83.9 L175.7 84.1 L176 84.3 L176.2 84.5 L176.5 84.7 L176.7 84.8 L177 84.9 L177.3 85.1 L177.5 85.1 L177.8 85.2 L178 85.3 L178.3 85.3 L178.5 85.3 L178.8 85.3 L179.1 85.3 L179.3 85.3 L179.6 85.4 L179.8 85.4 L180.1 85.5 L180.4 85.6 L180.6 85.7 L180.9 85.8 L181.1 86 L181.4 86.2 L181.6 86.4 L181.9 86.6 L182.2 86.8 L182.4 87 L182.7 87.2 L182.9 87.3 L183.2 87.5 L183.5 87.6 L183.7 87.7 L184 87.7 L184.2 87.8 L184.5 87.8 L184.7 87.8 L185 87.9 L185.3 87.9 L185.5 87.9 L185.8 87.9 L186 87.9 L186.3 88 L186.6 88.1 L186.8 88.2 L187.1 88.3 L187.3 88.5 L187.6 88.7 L187.8 88.9 L188.1 89.1 L188.4 89.3 L188.6 89.5 L188.9 89.7 L189.1 89.8 L189.4 90 L189.7 90.1 L189.9 90.2 L190.2 90.3 L190.4 90.3 L190.7 90.4 L190.9 90.4 L191.2 90.4 L191.5 90.4 L191.7 90.4 L192 90.4 L192.2 90.5 L192.5 90.5 L192.8 90.6 L193 90.7 L193.3 90.9 L193.5 91 L193.8 91.2 L194 91.4 L194.3 91.6 L194.6 91.8 L194.8 92 L195.1 92.1 L195.3 92.3 L195.6 92.5 L195.9 92.6 L196.1 92.7 L196.4 92.8 L196.6 92.9 L196.9 92.9 L197.1 92.9 L197.4 92.9 L197.7 92.9 L197.9 92.9 L198.2 93 L198.4 93 L198.7 93.1 L198.9 93.1 L199.2 93.2 L199.5 93.4 L199.7 93.5 L200 93.7 L200.2 93.8 L200.5 94 L200.8 94.2 L201 94.4 L201.3 94.6 L201.5 94.8 L201.8 95 L202 95.1 L202.3 95.2 L202.6 95.3 L202.8 95.4 L203.1 95.4 L203.3 95.4 L203.6 95.5 L203.9 95.5 L204.1 95.5 L204.4 95.5 L204.6 95.5 L204.9 95.6 L205.1 95.6 L205.4 95.7 L205.7 95.8 L205.9 96 L206.2 96.2 L206.4 96.3 L206.7 96.5 L207 96.7 L207.2 96.9 L207.5 97.1 L207.7 97.3 L208 97.5 L208.2 97.6 L208.5 97.7 L208.8 97.8 L209 97.9 L209.3 97.9 L209.5 98 L209.8 98 L210.1 98 L210.3 98 L210.6 98 L210.8 98 L211.1 98.1 L211.3 98.1 L211.6 98.2 L211.9 98.3 L212.1 98.5 L212.4 98.6 L212.6 98.8 L212.9 99 L213.2 99.2 L213.4 99.4 L213.7 99.6 L213.9 99.8 L214.2 99.9 L214.4 100.1 L214.7 100.2 L215 100.3 L215.2 100.4 L215.5 100.4 L215.7 100.5 L216 100.5 L216.3 100.5 L216.5 100.5 L216.8 100.5 L217 100.6 L217.3 100.6 L217.5 100.6 L217.8 100.7 L218.1 100.8 L218.3 101 L218.6 101.1 L218.8 101.3 L219.1 101.5 L219.4 101.7 L219.6 101.9 L219.9 102.1 L220.1 102.3 L220.4 102.4 L220.6 102.6 L220.9 102.7 L221.2 102.8 L221.4 102.9 L221.7 103 L221.9 103 L222.2 103 L222.5 103 L222.7 103 L223 103.1 L223.2 103.1 L223.5 103.1 L223.7 103.2 L224 103.2 L224.3 103.3 L224.5 103.4 L224.8 103.6 L225 103.8 L225.3 103.9 L225.6 104.1 L225.8 104.3 L226.1 104.5 L226.3 104.7 L226.6 104.9 L226.8 105.1 L227.1 105.2" fill="none" stroke="#000000" stroke-width="1.2" stroke-linejoin="round"/>
<clipPath id="c2"><rect x="340.6" y="21.5" width="183.7" height="129.7"/></clipPath>
<path d="M340.6 21.5H524.3V151.2H340.6ZM340.6 151.2v-2.59M340.6 21.5v2.59M344.27 151.2v-1.3M344.27 21.5v1.3M347.95 151.2v-1.3M347.95 21.5v1.3M351.62 151.2v-1.3M351.62 21.5v1.3M355.3 151.2v-1.3M355.3 21.5v1.3M358.97 151.2v-1.3M358.97 21.5v1.3M362.64 151.2v-1.3M362.64 21.5v1.3M366.32 151.2v-1.3M366.32 21.5v1.3M369.99 151.2v-1.3M369.99 21.5v1.3M373.67 151.2v-1.3M373.67 21.5v1.3M377.34 151.2v-2.59M377.34 21.5v2.59M381.01 151.2v-1.3M381.01 21.5v1.3M384.69 151.2v-1.3M384.69 21.5v1.3M388.36 151.2v-1.3M388.36 21.5v1.3M392.04 151.2v-1.3M392.04 21.5v1.3M395.71 151.2v-1.3M395.71 21.5v1.3M399.38 151.2v-1.3M399.38 21.5v1.3M403.06 151.2v-1.3M403.06 21.5v1.3M406.73 151.2v-1.3M406.73 21.5v1.3M410.41 151.2v-1.3M410.41 21.5v1.3M414.08 151.2v-2.59M414.08 21.5v2.59M417.75 151.2v-1.3M417.75 21.5v1.3M421.43 151.2v-1.3M421.43 21.5v1.3M425.1 151.2v-1.3M425.1 21.5v1.3M428.78 151.2v-1.3M428.78 21.5v1.3M432.45 151.2v-1.3M432.45 21.5v1.3M436.12 151.2v-1.3M436.12 21.5v1.3M439.8 151.2v-1.3M439.8 21.5v1.3M443.47 151.2v-1.3M443.47 21.5v1.3M447.15 151.2v-1.3M447.15 21.5v1.3M450.82 151.2v-2.59M450.82 21.5v2.59M454.49 151.2v-1.3M454.49 21.5v1.3M458.17 151.2v-1.3M458.17 21.5v1.3M461.84 151.2v-1.3M461.84 21.5v1.3M465.52 151.2v-1.3M465.52 21.5v1.3M469.19 151.2v-1.3M469.19 21.5v1.3M472.86 151.2v-1.3M472.86 21.5v1.3M476.54 151.2v-1.3M476.54 21.5v1.3M480.21 151.2v-1.3M480.21 21.5v1.3M483.89 151.2v-1.3M483.89 21.5v1.3M487.56 151.2v-2.59M487.56 21.5v2.59M491.23 151.2v-1.3M491.23 21.5v1.3M494.91 151.2v-1.3M494.91 21.5v1.3M498.58 151.2v-1.3M498.58 21.5v1.3M502.26 151.2v-1.3M502.26 21.5v1.3M505.93 151.2v-1.3M505.93 21.5v1.3M509.6 151.2v-1.3M509.6 21.5v1.3M513.28 151.2v-1.3M513.28 21.5v1.3M516.95 151.2v-1.3M516.95 21.5v1.3M520.63 151.2v-1.3M520.63 21.5v1.3M524.3 151.2v-2.59M524.3 21.5v2.59M340.6 151.2h3.67M524.3 151.2h-3.67M340.6 148.61h1.84M524.3 148.61h-1.84M340.6 146.01h1.84M524.3 146.01h-1.84M340.6 143.42h1.84M524.3 143.42h-1.84M340.6 140.82h1.84M524.3 140.82h-1.84M340.6 138.23h1.84M524.3 138.23h-1.84M340.6 135.64h1.84M524.3 135.64h-1.84M340.6 133.04h1.84M524.3 133.04h-1.84M340.6 130.45h1.84M524.3 130.45h-1.84M340.6 127.85h1.84M524.3 127.85h-1.84M340.6 125.26h3.67M524.3 125.26h-3.67M340.6 122.67h1.84M524.3 122.67h-1.84M340.6 120.07h1.84M524.3 120.07h-1.84M340.6 117.48h1.84M524.3 117.48h-1.84M340.6 114.88h1.84M524.3 114.88h-1.84M340.6 112.29h1.84M524.3 112.29h-1.84M340.6 109.7h1.84M524.3 109.7h-1.84M340.6 107.1h1.84M524.3 107.1h-1.84M340.6 104.51h1.84M524.3 104.51h-1.84M340.6 101.91h1.84M524.3 101.91h-1.84M340.6 99.32h3.67M524.3 99.32h-3.67M340.6 96.73h1.84M524.3 96.73h-1.84M340.6 94.13h1.84M524.3 94.13h-1.84M340.6 91.54h1.84M524.3 91.54h-1.84M340.6 88.94h1.84M524.3 88.94h-1.84M340.6 86.35h1.84M524.3 86.35h-1.84M340.6 83.76h1.84M524.3 83.76h-1.84M340.6 81.16h1.84M524.3 81.16h-1.84M340.6 78.57h1.84M524.3 78.57h-1.84M340.6 75.97h1.84M524.3 75.97h-1.84M340.6 73.38h3.67M524.3 73.38h-3.67M340.6 70.79h1.84M524.3 70.79h-1.84M340.6 68.19h1.84M524.3 68.19h-1.84M340.6 65.6h1.84M524.3 65.6h-1.84M340.6 63h1.84M524.3 63h-1.84M340.6 60.41h1.84M524.3 60.41h-1.84M340.6 57.82h1.84M524.3 57.82h-1.84M340.6 55.22h1.84M524.3 55.22h-1.84M340.6 52.63h1.84M524.3 52.63h-1.84M340.6 50.03h1.84M524.3 50.03h-1.84M340.6 47.44h3.67M524.3 47.44h-3.67M340.6 44.85h1.84M524.3 44.85h-1.84M340.6 42.25h1.84M524.3 42.25h-1.84M340.6 39.66h1.84M524.3 39.66h-1.84M340.6 37.06h1.84M524.3 37.06h-1.84M340.6 34.47h1.84M524.3 34.47h-1.84M340.6 31.88h1.84M524.3 31.88h-1.84M340.6 29.28h1.84M524.3 29.28h-1.84M340.6 26.69h1.84M524.3 26.69h-1.84M340.6 24.09h1.84M524.3 24.09h-1.84M340.6 21.5h3.67M524.3 21.5h-3.67" fill="none" stroke="#3a3a3a" stroke-width="0.8"/>
<path d="M340.6 73.4 L340.9 73.4 L341.1 73.4 L341.4 73.4 L341.7 73.4 L341.9 73.5 L342.2 73.5 L342.4 73.6 L342.7 73.7 L343 73.8 L343.2 74 L343.5 74.2 L343.8 74.4 L344 74.6 L344.3 74.9 L344.6 75.3 L344.8 75.7 L345.1 76.1 L345.3 76.4 L345.6 76.6 L345.9 76.7 L346.1 76.5 L346.4 76 L346.7 75.2 L346.9 74.2 L347.2 72.9 L347.5 71.5 L347.7 70.2 L348 68.9 L348.2 67.9 L348.5 67.3 L348.8 67.2 L349 67.4 L349.3 68.1 L349.6 69.1 L349.8 70.4 L350.1 71.9 L350.4 73.5 L350.6 75.2 L350.9 76.8 L351.1 78.1 L351.4 79.2 L351.7 80 L351.9 80.3 L352.2 80.2 L352.5 79.7 L352.7 78.7 L353 77.5 L353.2 76 L353.5 74.3 L353.8 72.5 L354 70.9 L354.3 69.4 L354.6 68.1 L354.8 67.3 L355.1 66.8 L355.4 66.8 L355.6 67.3 L355.9 68.2 L356.1 69.5 L356.4 71.1 L356.7 72.9 L356.9 74.9 L357.2 76.8 L357.5 78.6 L357.7 80.2 L358 81.6 L358.3 82.5 L358.5 83 L358.8 83.1 L359 82.7 L359.3 81.9 L359.6 80.8 L359.8 79.4 L360.1 77.9 L360.4 76.3 L360.6 74.8 L360.9 73.5 L361.2 72.4 L361.4 71.8 L361.7 71.6 L361.9 71.8 L362.2 72.5 L362.5 73.7 L362.7 75.2 L363 77.1 L363.3 79.2 L363.5 81.4 L363.8 83.5 L364.1 85.6 L364.3 87.4 L364.6 88.8 L364.8 89.8 L365.1 90.4 L365.4 90.5 L365.6 90 L365.9 89.2 L366.2 88 L366.4 86.5 L366.7 84.9 L367 83.2 L367.2 81.7 L367.5 80.3 L367.7 79.2 L368 78.5 L368.3 78.3 L368.5 78.5 L368.8 79.2 L369.1 80.4 L369.3 82 L369.6 83.9 L369.9 86 L370.1 88.2 L370.4 90.4 L370.6 92.4 L370.9 94.1 L371.2 95.5 L371.4 96.5 L371.7 97 L372 97 L372.2 96.5 L372.5 95.6 L372.8 94.3 L373 92.8 L373.3 91.1 L373.5 89.4 L373.8 87.8 L374.1 86.4 L374.3 85.3 L374.6 84.6 L374.9 84.3 L375.1 84.5 L375.4 85.3 L375.6 86.4 L375.9 88 L376.2 89.9 L376.4 91.9 L376.7 94.1 L377 96.2 L377.2 98.2 L377.5 99.9 L377.8 101.3 L378 102.2 L378.3 102.6 L378.5 102.6 L378.8 102.1 L379.1 101.2 L379.3 99.9 L379.6 98.4 L379.9 96.7 L380.1 95 L380.4 93.4 L380.7 92.1 L380.9 91 L381.2 90.3 L381.4 90.1 L381.7 90.4 L382 91.1 L382.2 92.3 L382.5 93.8 L382.8 95.7 L383 97.7 L383.3 99.8 L383.6 101.9 L383.8 103.8 L384.1 105.4 L384.3 106.7 L384.6 107.6 L384.9 108 L385.1 107.9 L385.4 107.4 L385.7 106.5 L385.9 105.2 L386.2 103.7 L386.5 102.1 L386.7 100.4 L387 98.9 L387.2 97.6 L387.5 96.5 L387.8 95.9 L388 95.7 L388.3 96 L388.6 96.7 L388.8 97.8 L389.1 99.4 L389.4 101.2 L389.6 103.1 L389.9 105.2 L390.1 107.2 L390.4 109 L390.7 110.6 L390.9 111.8 L391.2 112.7 L391.5 113 L391.7 112.9 L392 112.4 L392.3 111.5 L392.5 110.3 L392.8 108.8 L393 107.2 L393.3 105.6 L393.6 104.1 L393.8 102.8 L394.1 101.8 L394.4 101.2 L394.6 101 L394.9 101.3 L395.2 102 L395.4 103.1 L395.7 104.6 L395.9 106.3 L396.2 108.2 L396.5 110.2 L396.7 112.1 L397 113.9 L397.3 115.4 L397.5 116.5 L397.8 117.3 L398 117.6 L398.3 117.5 L398.6 116.9 L398.8 116 L399.1 114.8 L399.4 113.3 L399.6 111.7 L399.9 110.2 L400.2 108.7 L400.4 107.5 L400.7 106.5 L400.9 105.9 L401.2 105.7 L401.5 106 L401.7 106.7 L402 107.8 L402.3 109.2 L402.5 110.9 L402.8 112.7 L403.1 114.6 L403.3 116.5 L403.6 118.2 L403.8 119.6 L404.1 120.7 L404.4 121.4 L404.6 121.7 L404.9 121.5 L405.2 120.9 L405.4 120 L405.7 118.8 L406 117.4 L406.2 115.8 L406.5 114.3 L406.7 112.9 L407 111.7 L407.3 110.7 L407.5 110.2 L407.8 110 L408.1 110.3 L408.3 110.9 L408.6 112 L408.9 113.3 L409.1 114.9 L409.4 116.7 L409.6 118.4 L409.9 120.2 L410.2 121.8 L410.4 123.1 L410.7 124.1 L411 124.7 L411.2 124.9 L411.5 124.7 L411.8 124.1 L412 123.2 L412.3 121.9 L412.5 120.5 L412.8 119 L413.1 117.5 L413.3 116.1 L413.6 115 L413.9 114.1 L414.1 113.5 L414.4 113.3 L414.7 113.5 L414.9 114.2 L415.2 115.1 L415.4 116.4 L415.7 117.9 L416 119.6 L416.2 121.3 L416.5 122.9 L416.8 124.4 L417 125.6 L417.3 126.5 L417.6 127.1 L417.8 127.2 L418.1 127 L418.3 126.4 L418.6 125.5 L418.9 124.3 L419.1 122.9 L419.4 121.5 L419.7 120 L419.9 118.7 L420.2 117.5 L420.4 116.7 L420.7 116.1 L421 116 L421.2 116.2 L421.5 116.8 L421.8 117.8 L422 119 L422.3 120.4 L422.6 122 L422.8 123.7 L423.1 125.2 L423.3 126.6 L423.6 127.8 L423.9 128.7 L424.1 129.2 L424.4 129.4 L424.7 129.1 L424.9 128.6 L425.2 127.7 L425.5 126.5 L425.7 125.2 L426 123.8 L426.2 122.4 L426.5 121.1 L426.8 120 L427 119.2 L427.3 118.7 L427.6 118.6 L427.8 118.8 L428.1 119.4 L428.4 120.4 L428.6 121.6 L428.9 123 L429.1 124.6 L429.4 126.1 L429.7 127.7 L429.9 129 L430.2 130.2 L430.5 131 L430.7 131.5 L431 131.6 L431.3 131.3 L431.5 130.7 L431.8 129.8 L432 128.6 L432.3 127.3 L432.6 125.8 L432.8 124.4 L433.1 123.1 L433.4 122 L433.6 121.2 L433.9 120.6 L434.2 120.5 L434.4 120.7 L434.7 121.2 L434.9 122.1 L435.2 123.3 L435.5 124.7 L435.7 126.2 L436 127.7 L436.3 129.2 L436.5 130.5 L436.8 131.5 L437.1 132.3 L437.3 132.7 L437.6 132.8 L437.8 132.5 L438.1 131.8 L438.4 130.9 L438.6 129.7 L438.9 128.3 L439.2 126.9 L439.4 125.5 L439.7 124.2 L440 123.1 L440.2 122.2 L440.5 121.7 L440.7 121.6 L441 121.8 L441.3 122.3 L441.5 123.2 L441.8 124.4 L442.1 125.7 L442.3 127.2 L442.6 128.7 L442.8 130.1 L443.1 131.4 L443.4 132.4 L443.6 133.2 L443.9 133.6 L444.2 133.6 L444.4 133.3 L444.7 132.6 L445 131.7 L445.2 130.5 L445.5 129.1 L445.7 127.7 L446 126.3 L446.3 125 L446.5 123.9 L446.8 123.1 L447.1 122.6 L447.3 122.4 L447.6 122.6 L447.9 123.2 L448.1 124.1 L448.4 125.2 L448.6 126.6 L448.9 128.1 L449.2 129.5 L449.4 131 L449.7 132.2 L450 133.2 L450.2 133.9 L450.5 134.3 L450.8 134.4 L451 134 L451.3 133.3 L451.5 132.4 L451.8 131.2 L452.1 129.8 L452.3 128.4 L452.6 127 L452.9 125.7 L453.1 124.7 L453.4 123.9 L453.7 123.4 L453.9 123.2 L454.2 123.5 L454.4 124 L454.7 124.9 L455 126.1 L455.2 127.4 L455.5 128.9 L455.8 130.3 L456 131.7 L456.3 133 L456.6 134 L456.8 134.7 L457.1 135 L457.3 135 L457.6 134.7 L457.9 134 L458.1 133 L458.4 131.8 L458.7 130.4 L458.9 129 L459.2 127.7 L459.5 126.4 L459.7 125.3 L460 124.5 L460.2 124.1 L460.5 123.9 L460.8 124.2 L461 124.8 L461.3 125.7 L461.6 126.8 L461.8 128.2 L462.1 129.6 L462.4 131.1 L462.6 132.4 L462.9 133.7 L463.1 134.6 L463.4 135.3 L463.7 135.7 L463.9 135.7 L464.2 135.3 L464.5 134.6 L464.7 133.6 L465 132.4 L465.3 131 L465.5 129.6 L465.8 128.3 L466 127 L466.3 126 L466.6 125.2 L466.8 124.7 L467.1 124.6 L467.4 124.9 L467.6 125.5 L467.9 126.4 L468.1 127.5 L468.4 128.9 L468.7 130.3 L468.9 131.8 L469.2 133.2 L469.5 134.4 L469.7 135.3 L470 136 L470.3 136.3 L470.5 136.3 L470.8 135.9 L471 135.2 L471.3 134.2 L471.6 133 L471.8 131.7 L472.1 130.3 L472.4 128.9 L472.6 127.7 L472.9 126.6 L473.2 125.9 L473.4 125.4 L473.7 125.4 L473.9 125.6 L474.2 126.3 L474.5 127.2 L474.7 128.4 L475 129.7 L475.3 131.2 L475.5 132.6 L475.8 134 L476.1 135.2 L476.3 136.2 L476.6 136.8 L476.8 137.2 L477.1 137.1 L477.4 136.7 L477.6 136 L477.9 135 L478.2 133.8 L478.4 132.5 L478.7 131.1 L479 129.7 L479.2 128.5 L479.5 127.4 L479.7 126.7 L480 126.3 L480.3 126.2 L480.5 126.5 L480.8 127.2 L481.1 128.1 L481.3 129.3 L481.6 130.7 L481.9 132.1 L482.1 133.6 L482.4 135 L482.6 136.2 L482.9 137.2 L483.2 137.8 L483.4 138.1 L483.7 138.1 L484 137.7 L484.2 136.9 L484.5 135.9 L484.8 134.7 L485 133.3 L485.3 131.9 L485.5 130.6 L485.8 129.3 L486.1 128.3 L486.3 127.6 L486.6 127.2 L486.9 127.1 L487.1 127.5 L487.4 128.1 L487.7 129.1 L487.9 130.3 L488.2 131.7 L488.4 133.2 L488.7 134.7 L489 136 L489.2 137.3 L489.5 138.2 L489.8 138.9 L490 139.2 L490.3 139.1 L490.5 138.7 L490.8 137.9 L491.1 136.9 L491.3 135.6 L491.6 134.3 L491.9 132.9 L492.1 131.5 L492.4 130.2 L492.7 129.2 L492.9 128.5 L493.2 128.1 L493.4 128.1 L493.7 128.4 L494 129.1 L494.2 130.1 L494.5 131.4 L494.8 132.8 L495 134.3 L495.3 135.8 L495.6 137.2 L495.8 138.4 L496.1 139.3 L496.3 140 L496.6 140.3 L496.9 140.2 L497.1 139.8 L497.4 139 L497.7 137.9 L497.9 136.7 L498.2 135.3 L498.5 133.8 L498.7 132.5 L499 131.2 L499.2 130.2 L499.5 129.5 L499.8 129.1 L500 129.1 L500.3 129.5 L500.6 130.2 L500.8 131.2 L501.1 132.5 L501.4 133.9 L501.6 135.4 L501.9 137 L502.1 138.4 L502.4 139.6 L502.7 140.6 L502.9 141.2 L503.2 141.5 L503.5 141.4 L503.7 140.9" fill="none" stroke="#1010ff" stroke-width="1.0" stroke-linejoin="round"/>
<path d="M340.6 73.4 L340.9 73.4 L341.1 73.4 L341.4 73.4 L341.7 73.4 L341.9 73.5 L342.2 73.5 L342.5 73.6 L342.7 73.7 L343 73.8 L343.3 74 L343.5 74.2 L343.8 74.5 L344.1 74.7 L344.4 74.9 L344.6 75.1 L344.9 75.3 L345.2 75.5 L345.4 75.5 L345.7 75.5 L346 75.4 L346.2 75.1 L346.5 74.7 L346.8 74.2 L347 73.7 L347.3 73 L347.6 72.4 L347.8 71.8 L348.1 71.3 L348.4 70.9 L348.6 70.8 L348.9 70.8 L349.2 71.1 L349.4 71.4 L349.7 71.9 L350 72.5 L350.2 73.2 L350.5 73.8 L350.8 74.5 L351.1 75 L351.3 75.5 L351.6 75.8 L351.9 76 L352.1 76 L352.4 75.8 L352.7 75.5 L352.9 75.1 L353.2 74.6 L353.5 74 L353.7 73.4 L354 72.8 L354.3 72.4 L354.5 72.1 L354.8 71.9 L355.1 71.9 L355.3 72.1 L355.6 72.4 L355.9 72.8 L356.1 73.3 L356.4 73.8 L356.7 74.3 L357 74.8 L357.2 75.1 L357.5 75.4 L357.8 75.7 L358 75.8 L358.3 75.9 L358.6 75.9 L358.8 75.9 L359.1 75.8 L359.4 75.7 L359.6 75.6 L359.9 75.4 L360.2 75.2 L360.4 75 L360.7 74.7 L361 74.5 L361.2 74.3 L361.5 74.1 L361.8 74 L362 73.9 L362.3 73.9 L362.6 73.8 L362.8 73.8 L363.1 73.9 L363.4 73.9 L363.7 74 L363.9 74 L364.2 74 L364.5 74 L364.7 73.9 L365 73.7 L365.3 73.6 L365.5 73.3 L365.8 73.1 L366.1 72.8 L366.3 72.4 L366.6 72 L366.9 71.7 L367.1 71.3 L367.4 71 L367.7 70.7 L367.9 70.4 L368.2 70.2 L368.5 70.1 L368.7 70 L369 69.9 L369.3 69.9 L369.5 69.9 L369.8 70 L370.1 70 L370.4 70.1 L370.6 70.1 L370.9 70.1 L371.2 70.1 L371.4 70.1 L371.7 69.9 L372 69.8 L372.2 69.6 L372.5 69.3 L372.8 69 L373 68.7 L373.3 68.4 L373.6 68.1 L373.8 67.8 L374.1 67.5 L374.4 67.2 L374.6 67 L374.9 66.8 L375.2 66.7 L375.4 66.6 L375.7 66.5 L376 66.5 L376.2 66.5 L376.5 66.6 L376.8 66.6 L377.1 66.6 L377.3 66.6 L377.6 66.6 L377.9 66.5 L378.1 66.4 L378.4 66.2 L378.7 66 L378.9 65.8 L379.2 65.5 L379.5 65.1 L379.7 64.8 L380 64.4 L380.3 64.1 L380.5 63.7 L380.8 63.4 L381.1 63.1 L381.3 62.9 L381.6 62.7 L381.9 62.5 L382.1 62.4 L382.4 62.3 L382.7 62.3 L382.9 62.3 L383.2 62.3 L383.5 62.3 L383.8 62.2 L384 62.2 L384.3 62.1 L384.6 62 L384.8 61.8 L385.1 61.6 L385.4 61.3 L385.6 61 L385.9 60.7 L386.2 60.3 L386.4 59.9 L386.7 59.5 L387 59.1 L387.2 58.7 L387.5 58.4 L387.8 58.1 L388 57.8 L388.3 57.6 L388.6 57.4 L388.8 57.3 L389.1 57.2 L389.4 57.2 L389.7 57.1 L389.9 57.1 L390.2 57 L390.5 57 L390.7 56.9 L391 56.8 L391.3 56.6 L391.5 56.4 L391.8 56.2 L392.1 55.9 L392.3 55.5 L392.6 55.2 L392.9 54.8 L393.1 54.4 L393.4 54 L393.7 53.6 L393.9 53.3 L394.2 52.9 L394.5 52.7 L394.7 52.4 L395 52.2 L395.3 52.1 L395.5 52 L395.8 51.9 L396.1 51.9 L396.4 51.8 L396.6 51.8 L396.9 51.8 L397.2 51.7 L397.4 51.6 L397.7 51.5 L398 51.3 L398.2 51.1 L398.5 50.8 L398.8 50.5 L399 50.2 L399.3 49.9 L399.6 49.5 L399.8 49.2 L400.1 48.8 L400.4 48.5 L400.6 48.2 L400.9 48 L401.2 47.8 L401.4 47.7 L401.7 47.6 L402 47.5 L402.2 47.5 L402.5 47.5 L402.8 47.5 L403.1 47.6 L403.3 47.6 L403.6 47.6 L403.9 47.6 L404.1 47.5 L404.4 47.5 L404.7 47.3 L404.9 47.2 L405.2 47 L405.5 46.7 L405.7 46.5 L406 46.2 L406.3 45.9 L406.5 45.6 L406.8 45.4 L407.1 45.1 L407.3 44.9 L407.6 44.8 L407.9 44.7 L408.1 44.6 L408.4 44.6 L408.7 44.7 L408.9 44.7 L409.2 44.9 L409.5 45 L409.8 45.1 L410 45.2 L410.3 45.3 L410.6 45.4 L410.8 45.4 L411.1 45.4 L411.4 45.3 L411.6 45.2 L411.9 45.1 L412.2 44.9 L412.4 44.8 L412.7 44.6 L413 44.3 L413.2 44.2 L413.5 44 L413.8 43.8 L414 43.7 L414.3 43.7 L414.6 43.7 L414.8 43.7 L415.1 43.8 L415.4 43.9 L415.7 44.1 L415.9 44.2 L416.2 44.4 L416.5 44.6 L416.7 44.8 L417 45 L417.3 45.1 L417.5 45.2 L417.8 45.3 L418.1 45.3 L418.3 45.3 L418.6 45.3 L418.9 45.2 L419.1 45.1 L419.4 45 L419.7 44.9 L419.9 44.9 L420.2 44.8 L420.5 44.8 L420.7 44.8 L421 44.9 L421.3 45 L421.5 45.2 L421.8 45.4 L422.1 45.6 L422.4 45.8 L422.6 46.1 L422.9 46.3 L423.2 46.6 L423.4 46.8 L423.7 47 L424 47.2 L424.2 47.3 L424.5 47.4 L424.8 47.4 L425 47.4 L425.3 47.3 L425.6 47.3 L425.8 47.2 L426.1 47.1 L426.4 47 L426.6 47 L426.9 46.9 L427.2 47 L427.4 47 L427.7 47.1 L428 47.2 L428.2 47.4 L428.5 47.6 L428.8 47.8 L429.1 48.1 L429.3 48.4 L429.6 48.6 L429.9 48.9 L430.1 49.1 L430.4 49.3 L430.7 49.4 L430.9 49.5 L431.2 49.6 L431.5 49.6 L431.7 49.6 L432 49.5 L432.3 49.4 L432.5 49.3 L432.8 49.2 L433.1 49.2 L433.3 49.1 L433.6 49 L433.9 49 L434.1 49.1 L434.4 49.1 L434.7 49.3 L434.9 49.4 L435.2 49.6 L435.5 49.8 L435.8 50 L436 50.2 L436.3 50.4 L436.6 50.6 L436.8 50.8 L437.1 50.9 L437.4 51 L437.6 51 L437.9 51 L438.2 51 L438.4 50.9 L438.7 50.8 L439 50.7 L439.2 50.6 L439.5 50.5 L439.8 50.4 L440 50.4 L440.3 50.3 L440.6 50.3 L440.8 50.4 L441.1 50.5 L441.4 50.7 L441.6 50.8 L441.9 51.1 L442.2 51.3 L442.5 51.6 L442.7 51.8 L443 52 L443.3 52.3 L443.5 52.5 L443.8 52.6 L444.1 52.7 L444.3 52.8 L444.6 52.8 L444.9 52.8 L445.1 52.8 L445.4 52.7 L445.7 52.7 L445.9 52.6 L446.2 52.6 L446.5 52.5 L446.7 52.5 L447 52.6 L447.3 52.7 L447.5 52.8 L447.8 52.9 L448.1 53.2 L448.4 53.4 L448.6 53.7 L448.9 54 L449.2 54.2 L449.4 54.5 L449.7 54.8 L450 55 L450.2 55.3 L450.5 55.4 L450.8 55.6 L451 55.7 L451.3 55.7 L451.6 55.7 L451.8 55.7 L452.1 55.7 L452.4 55.7 L452.6 55.7 L452.9 55.6 L453.2 55.7 L453.4 55.7 L453.7 55.8 L454 55.9 L454.2 56.1 L454.5 56.3 L454.8 56.6 L455.1 56.9 L455.3 57.2 L455.6 57.5 L455.9 57.8 L456.1 58.1 L456.4 58.3 L456.7 58.6 L456.9 58.8 L457.2 58.9 L457.5 59 L457.7 59.1 L458 59.2 L458.3 59.2 L458.5 59.2 L458.8 59.2 L459.1 59.1 L459.3 59.1 L459.6 59.1 L459.9 59.2 L460.1 59.2 L460.4 59.4 L460.7 59.5 L460.9 59.7 L461.2 59.9 L461.5 60.2 L461.8 60.5 L462 60.8 L462.3 61.1 L462.6 61.3 L462.8 61.6 L463.1 61.8 L463.4 62 L463.6 62.2 L463.9 62.3 L464.2 62.4 L464.4 62.4 L464.7 62.4 L465 62.3 L465.2 62.2 L465.5 62.2 L465.8 62.1 L466 62 L466.3 62 L466.6 62 L466.8 62 L467.1 62 L467.4 62.1 L467.6 62.3 L467.9 62.5 L468.2 62.7 L468.5 62.9 L468.7 63.1 L469 63.4 L469.3 63.6 L469.5 63.8 L469.8 64 L470.1 64.1 L470.3 64.2 L470.6 64.3 L470.9 64.3 L471.1 64.2 L471.4 64.2 L471.7 64.1 L471.9 64 L472.2 64 L472.5 63.9 L472.7 63.8 L473 63.8 L473.3 63.8 L473.5 63.9 L473.8 64 L474.1 64.1 L474.4 64.3 L474.6 64.5 L474.9 64.8 L475.2 65 L475.4 65.3 L475.7 65.5 L476 65.8 L476.2 66 L476.5 66.2 L476.8 66.3 L477 66.5 L477.3 66.5 L477.6 66.5 L477.8 66.5 L478.1 66.5 L478.4 66.5 L478.6 66.4 L478.9 66.3 L479.2 66.3 L479.4 66.3 L479.7 66.3 L480 66.3 L480.2 66.4 L480.5 66.6 L480.8 66.8 L481.1 67 L481.3 67.2 L481.6 67.5 L481.9 67.7 L482.1 68 L482.4 68.3 L482.7 68.5 L482.9 68.8 L483.2 68.9 L483.5 69.1 L483.7 69.2 L484 69.3 L484.3 69.3 L484.5 69.3 L484.8 69.3 L485.1 69.2 L485.3 69.2 L485.6 69.1 L485.9 69.1 L486.1 69.1 L486.4 69.2 L486.7 69.3 L486.9 69.4 L487.2 69.6 L487.5 69.8 L487.8 70 L488 70.3 L488.3 70.6 L488.6 70.8 L488.8 71.1 L489.1 71.4 L489.4 71.6 L489.6 71.8 L489.9 72 L490.2 72.1 L490.4 72.1 L490.7 72.2 L491 72.2 L491.2 72.2 L491.5 72.1 L491.8 72.1 L492 72 L492.3 72 L492.6 72 L492.8 72 L493.1 72.1 L493.4 72.2 L493.6 72.3 L493.9 72.5 L494.2 72.7 L494.5 73 L494.7 73.2 L495 73.5 L495.3 73.8 L495.5 74 L495.8 74.2 L496.1 74.4 L496.3 74.6 L496.6 74.6 L496.9 74.7 L497.1 74.7 L497.4 74.6 L497.7 74.5 L497.9 74.4 L498.2 74.2 L498.5 74 L498.7 73.9 L499 73.7 L499.3 73.5 L499.5 73.4 L499.8 73.3 L500.1 73.3 L500.3 73.3 L500.6 73.3 L500.9 73.3 L501.2 73.4" fill="none" stroke="#ff0000" stroke-width="1.1" stroke-linejoin="round" stroke-dasharray="5.8 4.9"/>
<path d="M340.6 73.4 L340.9 73.4 L341.1 73.4 L341.4 73.4 L341.7 73.4 L341.9 73.5 L342.2 73.5 L342.4 73.6 L342.7 73.7 L343 73.8 L343.2 74 L343.5 74.2 L343.8 74.4 L344 74.6 L344.3 74.9 L344.6 75.1 L344.8 75.4 L345.1 75.6 L345.3 75.7 L345.6 75.7 L345.9 75.7 L346.1 75.5 L346.4 75.1 L346.7 74.6 L346.9 73.9 L347.2 73.2 L347.5 72.4 L347.7 71.7 L348 71 L348.2 70.4 L348.5 70.1 L348.8 70 L349 70.2 L349.3 70.5 L349.6 71.1 L349.8 71.8 L350.1 72.6 L350.4 73.5 L350.6 74.4 L350.9 75.2 L351.1 75.9 L351.4 76.5 L351.7 76.9 L351.9 77.1 L352.2 77 L352.5 76.7 L352.7 76.2 L353 75.5 L353.2 74.6 L353.5 73.7 L353.8 72.7 L354 71.8 L354.3 70.9 L354.6 70.2 L354.8 69.6 L355.1 69.3 L355.4 69.2 L355.6 69.4 L355.9 69.8 L356.1 70.4 L356.4 71.2 L356.7 72.1 L356.9 73.1 L357.2 74.1 L357.5 75 L357.7 75.7 L358 76.3 L358.3 76.7 L358.5 76.8 L358.8 76.7 L359 76.3 L359.3 75.7 L359.6 74.8 L359.8 73.9 L360.1 72.8 L360.4 71.8 L360.6 70.7 L360.9 69.8 L361.2 69 L361.4 68.4 L361.7 68.1 L361.9 68.1 L362.2 68.3 L362.5 68.7 L362.7 69.4 L363 70.2 L363.3 71.1 L363.5 72.1 L363.8 73.1 L364.1 74 L364.3 74.8 L364.6 75.3 L364.8 75.7 L365.1 75.8 L365.4 75.6 L365.6 75.1 L365.9 74.5 L366.2 73.6 L366.4 72.6 L366.7 71.5 L367 70.4 L367.2 69.4 L367.5 68.4 L367.7 67.6 L368 67 L368.3 66.7 L368.5 66.6 L368.8 66.8 L369.1 67.3 L369.3 67.9 L369.6 68.7 L369.9 69.7 L370.1 70.6 L370.4 71.6 L370.6 72.5 L370.9 73.3 L371.2 73.8 L371.4 74.2 L371.7 74.3 L372 74.1 L372.2 73.7 L372.5 73.1 L372.8 72.3 L373 71.3 L373.3 70.3 L373.5 69.2 L373.8 68.2 L374.1 67.4 L374.3 66.7 L374.6 66.2 L374.9 65.9 L375.1 65.9 L375.4 66.2 L375.6 66.7 L375.9 67.4 L376.2 68.3 L376.4 69.3 L376.7 70.3 L377 71.3 L377.2 72.3 L377.5 73.1 L377.8 73.7 L378 74 L378.3 74.2 L378.5 74 L378.8 73.7 L379.1 73 L379.3 72.3 L379.6 71.3 L379.9 70.3 L380.1 69.3 L380.4 68.3 L380.7 67.5 L380.9 66.8 L381.2 66.3 L381.4 66.1 L381.7 66.1 L382 66.4 L382.2 66.9 L382.5 67.6 L382.8 68.5 L383 69.5 L383.3 70.5 L383.6 71.5 L383.8 72.5 L384.1 73.3 L384.3 73.9 L384.6 74.2 L384.9 74.4 L385.1 74.2 L385.4 73.8 L385.7 73.2 L385.9 72.5 L386.2 71.6 L386.5 70.6 L386.7 69.6 L387 68.7 L387.2 67.8 L387.5 67.2 L387.8 66.8 L388 66.6 L388.3 66.7 L388.6 67 L388.8 67.6 L389.1 68.3 L389.4 69.3 L389.6 70.3 L389.9 71.4 L390.1 72.4 L390.4 73.4 L390.7 74.2 L390.9 74.9 L391.2 75.3 L391.5 75.4 L391.7 75.4 L392 75 L392.3 74.5 L392.5 73.7 L392.8 72.9 L393 72 L393.3 71.1 L393.6 70.2 L393.8 69.4 L394.1 68.9 L394.4 68.5 L394.6 68.4 L394.9 68.5 L395.2 68.9 L395.4 69.5 L395.7 70.3 L395.9 71.2 L396.2 72.3 L396.5 73.4 L396.7 74.4 L397 75.4 L397.3 76.3 L397.5 76.9 L397.8 77.3 L398 77.5 L398.3 77.4 L398.6 77.1 L398.8 76.6 L399.1 75.9 L399.4 75 L399.6 74.1 L399.9 73.2 L400.2 72.4 L400.4 71.7 L400.7 71.1 L400.9 70.8 L401.2 70.6 L401.5 70.8 L401.7 71.2 L402 71.8 L402.3 72.6 L402.5 73.5 L402.8 74.6 L403.1 75.6 L403.3 76.7 L403.6 77.6 L403.8 78.5 L404.1 79.1 L404.4 79.5 L404.6 79.6 L404.9 79.6 L405.2 79.2 L405.4 78.7 L405.7 78 L406 77.2 L406.2 76.3 L406.5 75.4 L406.7 74.6 L407 73.8 L407.3 73.3 L407.5 73 L407.8 72.9 L408.1 73 L408.3 73.4 L408.6 74.1 L408.9 74.9 L409.1 75.8 L409.4 76.9 L409.6 78 L409.9 79 L410.2 80 L410.4 80.8 L410.7 81.4 L411 81.8 L411.2 82 L411.5 81.9 L411.8 81.6 L412 81.1 L412.3 80.4 L412.5 79.6 L412.8 78.7 L413.1 77.8 L413.3 77 L413.6 76.4 L413.9 75.9 L414.1 75.5 L414.4 75.5 L414.7 75.7 L414.9 76.1 L415.2 76.7 L415.4 77.5 L415.7 78.5 L416 79.5 L416.2 80.6 L416.5 81.7 L416.8 82.6 L417 83.4 L417.3 84.1 L417.6 84.4 L417.8 84.6 L418.1 84.5 L418.3 84.2 L418.6 83.7 L418.9 83 L419.1 82.2 L419.4 81.3 L419.7 80.5 L419.9 79.7 L420.2 79 L420.4 78.5 L420.7 78.2 L421 78.1 L421.2 78.3 L421.5 78.8 L421.8 79.4 L422 80.2 L422.3 81.2 L422.6 82.2 L422.8 83.3 L423.1 84.3 L423.3 85.2 L423.6 86 L423.9 86.6 L424.1 87 L424.4 87.1 L424.7 87 L424.9 86.7 L425.2 86.1 L425.5 85.4 L425.7 84.6 L426 83.8 L426.2 82.9 L426.5 82.1 L426.8 81.4 L427 80.9 L427.3 80.6 L427.6 80.6 L427.8 80.8 L428.1 81.2 L428.4 81.8 L428.6 82.6 L428.9 83.5 L429.1 84.6 L429.4 85.6 L429.7 86.6 L429.9 87.5 L430.2 88.2 L430.5 88.8 L430.7 89.2 L431 89.3 L431.3 89.1 L431.5 88.8 L431.8 88.2 L432 87.5 L432.3 86.7 L432.6 85.8 L432.8 85 L433.1 84.2 L433.4 83.5 L433.6 83 L433.9 82.7 L434.2 82.7 L434.4 82.8 L434.7 83.2 L434.9 83.9 L435.2 84.7 L435.5 85.6 L435.7 86.6 L436 87.6 L436.3 88.6 L436.5 89.5 L436.8 90.2 L437.1 90.7 L437.3 91.1 L437.6 91.2 L437.8 91 L438.1 90.6 L438.4 90.1 L438.6 89.4 L438.9 88.5 L439.2 87.7 L439.4 86.8 L439.7 86 L440 85.4 L440.2 84.9 L440.5 84.6 L440.7 84.6 L441 84.7 L441.3 85.1 L441.5 85.8 L441.8 86.6 L442.1 87.5 L442.3 88.5 L442.6 89.5 L442.8 90.4 L443.1 91.3 L443.4 92 L443.6 92.5 L443.9 92.8 L444.2 92.9 L444.4 92.8 L444.7 92.4 L445 91.8 L445.2 91.1 L445.5 90.3 L445.7 89.4 L446 88.6 L446.3 87.8 L446.5 87.1 L446.8 86.6 L447.1 86.4 L447.3 86.3 L447.6 86.5 L447.9 86.9 L448.1 87.5 L448.4 88.3 L448.6 89.2 L448.9 90.2 L449.2 91.2 L449.4 92.2 L449.7 93 L450 93.7 L450.2 94.2 L450.5 94.5 L450.8 94.5 L451 94.4 L451.3 94 L451.5 93.4 L451.8 92.7 L452.1 91.9 L452.3 91 L452.6 90.2 L452.9 89.4 L453.1 88.8 L453.4 88.3 L453.7 88 L453.9 88 L454.2 88.2 L454.4 88.6 L454.7 89.2 L455 90 L455.2 90.9 L455.5 91.9 L455.8 92.8 L456 93.8 L456.3 94.6 L456.6 95.3 L456.8 95.8 L457.1 96 L457.3 96.1 L457.6 95.9 L457.9 95.5 L458.1 94.9 L458.4 94.2 L458.7 93.4 L458.9 92.5 L459.2 91.7 L459.5 90.9 L459.7 90.3 L460 89.8 L460.2 89.6 L460.5 89.5 L460.8 89.7 L461 90.1 L461.3 90.8 L461.6 91.5 L461.8 92.4 L462.1 93.4 L462.4 94.3 L462.6 95.3 L462.9 96.1 L463.1 96.7 L463.4 97.2 L463.7 97.5 L463.9 97.5 L464.2 97.3 L464.5 96.9 L464.7 96.3 L465 95.6 L465.3 94.8 L465.5 93.9 L465.8 93.1 L466 92.3 L466.3 91.7 L466.6 91.3 L466.8 91 L467.1 91 L467.4 91.2 L467.6 91.6 L467.9 92.2 L468.1 93 L468.4 93.9 L468.7 94.8 L468.9 95.8 L469.2 96.7 L469.5 97.4 L469.7 98.1 L470 98.5 L470.3 98.8 L470.5 98.8 L470.8 98.6 L471 98.2 L471.3 97.6 L471.6 96.9 L471.8 96.1 L472.1 95.2 L472.4 94.4 L472.6 93.7 L472.9 93.1 L473.2 92.6 L473.4 92.4 L473.7 92.4 L473.9 92.6 L474.2 93 L474.5 93.6 L474.7 94.4 L475 95.3 L475.3 96.2 L475.5 97.1 L475.8 98 L476.1 98.8 L476.3 99.4 L476.6 99.9 L476.8 100.1 L477.1 100.1 L477.4 99.9 L477.6 99.5 L477.9 98.9 L478.2 98.2 L478.4 97.4 L478.7 96.5 L479 95.7 L479.2 95 L479.5 94.4 L479.7 94 L480 93.8 L480.3 93.7 L480.5 94 L480.8 94.4 L481.1 95 L481.3 95.8 L481.6 96.6 L481.9 97.6 L482.1 98.5 L482.4 99.4 L482.6 100.1 L482.9 100.7 L483.2 101.2 L483.4 101.4 L483.7 101.4 L484 101.2 L484.2 100.8 L484.5 100.2 L484.8 99.4 L485 98.7 L485.3 97.8 L485.5 97 L485.8 96.3 L486.1 95.7 L486.3 95.3 L486.6 95.1 L486.9 95.1 L487.1 95.3 L487.4 95.8 L487.7 96.4 L487.9 97.2 L488.2 98 L488.4 98.9 L488.7 99.9 L489 100.7 L489.2 101.5 L489.5 102.1 L489.8 102.5 L490 102.7 L490.3 102.7 L490.5 102.4 L490.8 102 L491.1 101.4 L491.3 100.7 L491.6 99.9 L491.9 99.1 L492.1 98.3 L492.4 97.6 L492.7 97.1 L492.9 96.7 L493.2 96.5 L493.4 96.5 L493.7 96.7 L494 97.1 L494.2 97.8 L494.5 98.5 L494.8 99.4 L495 100.3 L495.3 101.2 L495.6 102 L495.8 102.8 L496.1 103.4 L496.3 103.8 L496.6 103.9 L496.9 103.9 L497.1 103.7 L497.4 103.3 L497.7 102.7 L497.9 102 L498.2 101.2 L498.5 100.4 L498.7 99.6 L499 98.9 L499.2 98.4 L499.5 98 L499.8 97.8 L500 97.8 L500.3 98.1 L500.6 98.5 L500.8 99.1 L501.1 99.9 L501.4 100.7 L501.6 101.6 L501.9 102.5 L502.1 103.3 L502.4 104.1 L502.7 104.6 L502.9 105 L503.2 105.2 L503.5 105.2 L503.7 104.9" fill="none" stroke="#000000" stroke-width="1.05" stroke-linejoin="round" stroke-dasharray="1.1 2.6"/>
<path d="M340.6 73.4 L340.9 73.4 L341.1 73.4 L341.4 73.4 L341.7 73.4 L341.9 73.5 L342.2 73.5 L342.4 73.6 L342.7 73.7 L343 73.8 L343.2 74 L343.5 74.2 L343.8 74.4 L344 74.6 L344.3 74.9 L344.6 75.2 L344.8 75.5 L345.1 75.7 L345.3 75.9 L345.6 76.1 L345.9 76 L346.1 75.8 L346.4 75.4 L346.7 74.8 L346.9 74 L347.2 73.1 L347.5 72.1 L347.7 71.1 L348 70.2 L348.2 69.5 L348.5 69.1 L348.8 69 L349 69.1 L349.3 69.6 L349.6 70.3 L349.8 71.2 L350.1 72.3 L350.4 73.5 L350.6 74.7 L350.9 75.8 L351.1 76.8 L351.4 77.6 L351.7 78.1 L351.9 78.3 L352.2 78.3 L352.5 77.9 L352.7 77.2 L353 76.3 L353.2 75.2 L353.5 73.9 L353.8 72.6 L354 71.4 L354.3 70.3 L354.6 69.4 L354.8 68.7 L355.1 68.4 L355.4 68.4 L355.6 68.7 L355.9 69.3 L356.1 70.2 L356.4 71.3 L356.7 72.5 L356.9 73.9 L357.2 75.2 L357.5 76.4 L357.7 77.4 L358 78.2 L358.3 78.8 L358.5 79 L358.8 78.9 L359 78.5 L359.3 77.8 L359.6 76.9 L359.8 75.8 L360.1 74.6 L360.4 73.3 L360.6 72.2 L360.9 71.2 L361.2 70.4 L361.4 69.8 L361.7 69.6 L361.9 69.7 L362.2 70.1 L362.5 70.8 L362.7 71.7 L363 72.9 L363.3 74.2 L363.5 75.6 L363.8 77 L364.1 78.3 L364.3 79.3 L364.6 80.2 L364.8 80.8 L365.1 81.1 L365.4 81 L365.6 80.7 L365.9 80 L366.2 79.2 L366.4 78.1 L366.7 77 L367 75.8 L367.2 74.7 L367.5 73.7 L367.7 73 L368 72.4 L368.3 72.2 L368.5 72.3 L368.8 72.7 L369.1 73.4 L369.3 74.3 L369.6 75.4 L369.9 76.7 L370.1 78 L370.4 79.3 L370.6 80.5 L370.9 81.5 L371.2 82.3 L371.4 82.9 L371.7 83.1 L372 83 L372.2 82.7 L372.5 82 L372.8 81.1 L373 80.1 L373.3 79 L373.5 77.8 L373.8 76.7 L374.1 75.7 L374.3 75 L374.6 74.5 L374.9 74.2 L375.1 74.3 L375.4 74.7 L375.6 75.3 L375.9 76.2 L376.2 77.3 L376.4 78.5 L376.7 79.8 L377 81.1 L377.2 82.2 L377.5 83.2 L377.8 84 L378 84.4 L378.3 84.6 L378.5 84.5 L378.8 84.1 L379.1 83.4 L379.3 82.5 L379.6 81.4 L379.9 80.2 L380.1 79.1 L380.4 77.9 L380.7 76.9 L380.9 76.2 L381.2 75.6 L381.4 75.4 L381.7 75.4 L382 75.8 L382.2 76.4 L382.5 77.3 L382.8 78.3 L383 79.5 L383.3 80.8 L383.6 82 L383.8 83.1 L384.1 84.1 L384.3 84.8 L384.6 85.3 L384.9 85.5 L385.1 85.4 L385.4 85 L385.7 84.3 L385.9 83.4 L386.2 82.4 L386.5 81.2 L386.7 80.1 L387 79 L387.2 78.1 L387.5 77.4 L387.8 76.9 L388 76.7 L388.3 76.8 L388.6 77.3 L388.8 77.9 L389.1 78.9 L389.4 80 L389.6 81.3 L389.9 82.6 L390.1 83.8 L390.4 85 L390.7 86 L390.9 86.8 L391.2 87.3 L391.5 87.5 L391.7 87.4 L392 87 L392.3 86.4 L392.5 85.5 L392.8 84.5 L393 83.4 L393.3 82.3 L393.6 81.3 L393.8 80.4 L394.1 79.7 L394.4 79.3 L394.6 79.1 L394.9 79.3 L395.2 79.7 L395.4 80.4 L395.7 81.4 L395.9 82.5 L396.2 83.7 L396.5 85 L396.7 86.3 L397 87.5 L397.3 88.5 L397.5 89.2 L397.8 89.7 L398 89.9 L398.3 89.8 L398.6 89.5 L398.8 88.8 L399.1 88 L399.4 87 L399.6 85.9 L399.9 84.8 L400.2 83.8 L400.4 83 L400.7 82.3 L400.9 81.9 L401.2 81.7 L401.5 81.9 L401.7 82.3 L402 83.1 L402.3 84 L402.5 85.1 L402.8 86.4 L403.1 87.7 L403.3 88.9 L403.6 90 L403.8 91 L404.1 91.7 L404.4 92.2 L404.6 92.4 L404.9 92.2 L405.2 91.8 L405.4 91.2 L405.7 90.3 L406 89.3 L406.2 88.2 L406.5 87.1 L406.7 86 L407 85.2 L407.3 84.5 L407.5 84 L407.8 83.9 L408.1 84 L408.3 84.5 L408.6 85.2 L408.9 86.1 L409.1 87.2 L409.4 88.4 L409.6 89.7 L409.9 90.9 L410.2 92 L410.4 92.9 L410.7 93.6 L411 94.1 L411.2 94.2 L411.5 94.1 L411.8 93.6 L412 92.9 L412.3 92.1 L412.5 91 L412.8 89.9 L413.1 88.8 L413.3 87.8 L413.6 86.9 L413.9 86.3 L414.1 85.8 L414.4 85.7 L414.7 85.9 L414.9 86.3 L415.2 87 L415.4 87.9 L415.7 89 L416 90.2 L416.2 91.5 L416.5 92.7 L416.8 93.8 L417 94.7 L417.3 95.4 L417.6 95.8 L417.8 95.9 L418.1 95.7 L418.3 95.3 L418.6 94.6 L418.9 93.7 L419.1 92.7 L419.4 91.6 L419.7 90.6 L419.9 89.6 L420.2 88.7 L420.4 88.1 L420.7 87.7 L421 87.5 L421.2 87.7 L421.5 88.2 L421.8 88.9 L422 89.8 L422.3 90.9 L422.6 92.1 L422.8 93.4 L423.1 94.6 L423.3 95.6 L423.6 96.5 L423.9 97.2 L424.1 97.6 L424.4 97.8 L424.7 97.6 L424.9 97.2 L425.2 96.5 L425.5 95.7 L425.7 94.7 L426 93.7 L426.2 92.6 L426.5 91.7 L426.8 90.8 L427 90.2 L427.3 89.9 L427.6 89.8 L427.8 90 L428.1 90.5 L428.4 91.2 L428.6 92.2 L428.9 93.3 L429.1 94.5 L429.4 95.7 L429.7 96.9 L429.9 98 L430.2 98.9 L430.5 99.5 L430.7 99.9 L431 100.1 L431.3 99.9 L431.5 99.4 L431.8 98.7 L432 97.9 L432.3 96.9 L432.6 95.8 L432.8 94.8 L433.1 93.8 L433.4 92.9 L433.6 92.3 L433.9 91.9 L434.2 91.8 L434.4 92 L434.7 92.5 L434.9 93.2 L435.2 94.1 L435.5 95.1 L435.7 96.3 L436 97.4 L436.3 98.6 L436.5 99.6 L436.8 100.4 L437.1 101 L437.3 101.3 L437.6 101.4 L437.8 101.2 L438.1 100.7 L438.4 100 L438.6 99.1 L438.9 98.1 L439.2 97 L439.4 96 L439.7 95 L440 94.2 L440.2 93.5 L440.5 93.2 L440.7 93.1 L441 93.2 L441.3 93.7 L441.5 94.4 L441.8 95.3 L442.1 96.3 L442.3 97.5 L442.6 98.6 L442.8 99.7 L443.1 100.7 L443.4 101.6 L443.6 102.1 L443.9 102.5 L444.2 102.5 L444.4 102.3 L444.7 101.9 L445 101.2 L445.2 100.3 L445.5 99.3 L445.7 98.3 L446 97.3 L446.3 96.3 L446.5 95.5 L446.8 95 L447.1 94.6 L447.3 94.6 L447.6 94.8 L447.9 95.2 L448.1 95.9 L448.4 96.9 L448.6 97.9 L448.9 99.1 L449.2 100.2 L449.4 101.3 L449.7 102.3 L450 103.1 L450.2 103.7 L450.5 104 L450.8 104.1 L451 103.9 L451.3 103.4 L451.5 102.7 L451.8 101.9 L452.1 100.9 L452.3 99.9 L452.6 98.9 L452.9 98 L453.1 97.2 L453.4 96.7 L453.7 96.3 L453.9 96.3 L454.2 96.5 L454.4 97 L454.7 97.7 L455 98.6 L455.2 99.6 L455.5 100.7 L455.8 101.9 L456 102.9 L456.3 103.9 L456.6 104.7 L456.8 105.2 L457.1 105.5 L457.3 105.6 L457.6 105.3 L457.9 104.9 L458.1 104.2 L458.4 103.3 L458.7 102.3 L458.9 101.3 L459.2 100.4 L459.5 99.5 L459.7 98.7 L460 98.2 L460.2 97.9 L460.5 97.8 L460.8 98 L461 98.5 L461.3 99.2 L461.6 100.1 L461.8 101.1 L462.1 102.2 L462.4 103.3 L462.6 104.3 L462.9 105.3 L463.1 106 L463.4 106.5 L463.7 106.8 L463.9 106.8 L464.2 106.6 L464.5 106.1 L464.7 105.4 L465 104.6 L465.3 103.6 L465.5 102.6 L465.8 101.7 L466 100.8 L466.3 100.1 L466.6 99.5 L466.8 99.2 L467.1 99.2 L467.4 99.4 L467.6 99.9 L467.9 100.6 L468.1 101.4 L468.4 102.4 L468.7 103.5 L468.9 104.6 L469.2 105.6 L469.5 106.5 L469.7 107.2 L470 107.8 L470.3 108 L470.5 108 L470.8 107.8 L471 107.3 L471.3 106.6 L471.6 105.8 L471.8 104.8 L472.1 103.8 L472.4 102.9 L472.6 102 L472.9 101.3 L473.2 100.8 L473.4 100.5 L473.7 100.5 L473.9 100.7 L474.2 101.2 L474.5 101.9 L474.7 102.8 L475 103.8 L475.3 104.8 L475.5 105.9 L475.8 106.9 L476.1 107.7 L476.3 108.4 L476.6 108.9 L476.8 109.2 L477.1 109.2 L477.4 108.9 L477.6 108.4 L477.9 107.8 L478.2 106.9 L478.4 106 L478.7 105 L479 104.1 L479.2 103.3 L479.5 102.6 L479.7 102.1 L480 101.9 L480.3 101.9 L480.5 102.1 L480.8 102.6 L481.1 103.2 L481.3 104.1 L481.6 105.1 L481.9 106.1 L482.1 107.1 L482.4 108.1 L482.6 109 L482.9 109.6 L483.2 110.1 L483.4 110.3 L483.7 110.3 L484 110.1 L484.2 109.6 L484.5 108.9 L484.8 108.1 L485 107.2 L485.3 106.3 L485.5 105.4 L485.8 104.6 L486.1 103.9 L486.3 103.4 L486.6 103.2 L486.9 103.2 L487.1 103.4 L487.4 103.9 L487.7 104.6 L487.9 105.4 L488.2 106.4 L488.4 107.4 L488.7 108.4 L489 109.4 L489.2 110.2 L489.5 110.8 L489.8 111.3 L490 111.5 L490.3 111.5 L490.5 111.2 L490.8 110.7 L491.1 110.1 L491.3 109.3 L491.6 108.4 L491.9 107.5 L492.1 106.6 L492.4 105.8 L492.7 105.2 L492.9 104.8 L493.2 104.5 L493.4 104.5 L493.7 104.8 L494 105.3 L494.2 105.9 L494.5 106.8 L494.8 107.7 L495 108.7 L495.3 109.7 L495.6 110.6 L495.8 111.4 L496.1 112 L496.3 112.4 L496.6 112.6 L496.9 112.6 L497.1 112.3 L497.4 111.9 L497.7 111.2 L497.9 110.4 L498.2 109.6 L498.5 108.7 L498.7 107.8 L499 107.1 L499.2 106.5 L499.5 106.1 L499.8 105.8 L500 105.9 L500.3 106.1 L500.6 106.6 L500.8 107.2 L501.1 108.1 L501.4 109 L501.6 109.9 L501.9 110.9 L502.1 111.8 L502.4 112.6 L502.7 113.2 L502.9 113.6 L503.2 113.8 L503.5 113.7 L503.7 113.4 L503.7 128.4" fill="none" stroke="#000000" stroke-width="1.1" stroke-linejoin="round"/>
<clipPath id="c3"><rect x="68" y="216.1" width="184" height="129.3"/></clipPath>
<path d="M68 216.1H252V345.4H68ZM68 345.4v-2.59M68 216.1v2.59M71.07 345.4v-1.29M71.07 216.1v1.29M74.13 345.4v-1.29M74.13 216.1v1.29M77.2 345.4v-1.29M77.2 216.1v1.29M80.27 345.4v-1.29M80.27 216.1v1.29M83.34 345.4v-1.29M83.34 216.1v1.29M86.4 345.4v-1.29M86.4 216.1v1.29M89.47 345.4v-1.29M89.47 216.1v1.29M92.54 345.4v-1.29M92.54 216.1v1.29M95.6 345.4v-1.29M95.6 216.1v1.29M98.67 345.4v-2.59M98.67 216.1v2.59M101.74 345.4v-1.29M101.74 216.1v1.29M104.8 345.4v-1.29M104.8 216.1v1.29M107.87 345.4v-1.29M107.87 216.1v1.29M110.94 345.4v-1.29M110.94 216.1v1.29M114 345.4v-1.29M114 216.1v1.29M117.07 345.4v-1.29M117.07 216.1v1.29M120.14 345.4v-1.29M120.14 216.1v1.29M123.21 345.4v-1.29M123.21 216.1v1.29M126.27 345.4v-1.29M126.27 216.1v1.29M129.34 345.4v-2.59M129.34 216.1v2.59M132.41 345.4v-1.29M132.41 216.1v1.29M135.47 345.4v-1.29M135.47 216.1v1.29M138.54 345.4v-1.29M138.54 216.1v1.29M141.61 345.4v-1.29M141.61 216.1v1.29M144.68 345.4v-1.29M144.68 216.1v1.29M147.74 345.4v-1.29M147.74 216.1v1.29M150.81 345.4v-1.29M150.81 216.1v1.29M153.88 345.4v-1.29M153.88 216.1v1.29M156.94 345.4v-1.29M156.94 216.1v1.29M160.01 345.4v-2.59M160.01 216.1v2.59M163.08 345.4v-1.29M163.08 216.1v1.29M166.14 345.4v-1.29M166.14 216.1v1.29M169.21 345.4v-1.29M169.21 216.1v1.29M172.28 345.4v-1.29M172.28 216.1v1.29M175.34 345.4v-1.29M175.34 216.1v1.29M178.41 345.4v-1.29M178.41 216.1v1.29M181.48 345.4v-1.29M181.48 216.1v1.29M184.55 345.4v-1.29M184.55 216.1v1.29M187.61 345.4v-1.29M187.61 216.1v1.29M190.68 345.4v-2.59M190.68 216.1v2.59M193.75 345.4v-1.29M193.75 216.1v1.29M196.81 345.4v-1.29M196.81 216.1v1.29M199.88 345.4v-1.29M199.88 216.1v1.29M202.95 345.4v-1.29M202.95 216.1v1.29M206.02 345.4v-1.29M206.02 216.1v1.29M209.08 345.4v-1.29M209.08 216.1v1.29M212.15 345.4v-1.29M212.15 216.1v1.29M215.22 345.4v-1.29M215.22 216.1v1.29M218.28 345.4v-1.29M218.28 216.1v1.29M221.35 345.4v-2.59M221.35 216.1v2.59M224.42 345.4v-1.29M224.42 216.1v1.29M227.48 345.4v-1.29M227.48 216.1v1.29M230.55 345.4v-1.29M230.55 216.1v1.29M233.62 345.4v-1.29M233.62 216.1v1.29M236.69 345.4v-1.29M236.69 216.1v1.29M239.75 345.4v-1.29M239.75 216.1v1.29M242.82 345.4v-1.29M242.82 216.1v1.29M245.89 345.4v-1.29M245.89 216.1v1.29M248.95 345.4v-1.29M248.95 216.1v1.29M68 345.4h3.68M252 345.4h-3.68M68 341.09h1.84M252 341.09h-1.84M68 336.78h1.84M252 336.78h-1.84M68 332.47h1.84M252 332.47h-1.84M68 328.16h1.84M252 328.16h-1.84M68 323.85h3.68M252 323.85h-3.68M68 319.54h1.84M252 319.54h-1.84M68 315.23h1.84M252 315.23h-1.84M68 310.92h1.84M252 310.92h-1.84M68 306.61h1.84M252 306.61h-1.84M68 302.3h3.68M252 302.3h-3.68M68 297.99h1.84M252 297.99h-1.84M68 293.68h1.84M252 293.68h-1.84M68 289.37h1.84M252 289.37h-1.84M68 285.06h1.84M252 285.06h-1.84M68 280.75h3.68M252 280.75h-3.68M68 276.44h1.84M252 276.44h-1.84M68 272.13h1.84M252 272.13h-1.84M68 267.82h1.84M252 267.82h-1.84M68 263.51h1.84M252 263.51h-1.84M68 259.2h3.68M252 259.2h-3.68M68 254.89h1.84M252 254.89h-1.84M68 250.58h1.84M252 250.58h-1.84M68 246.27h1.84M252 246.27h-1.84M68 241.96h1.84M252 241.96h-1.84M68 237.65h3.68M252 237.65h-3.68M68 233.34h1.84M252 233.34h-1.84M68 229.03h1.84M252 229.03h-1.84M68 224.72h1.84M252 224.72h-1.84M68 220.41h1.84M252 220.41h-1.84M68 216.1h3.68M252 216.1h-3.68" fill="none" stroke="#3a3a3a" stroke-width="0.8"/>
<path d="M68 237.7 L68.5 237.7 L68.9 237.7 L69.4 237.7 L69.8 237.7 L70.3 237.7 L70.7 237.7 L71.2 237.7 L71.6 237.7 L72.1 237.7 L72.5 237.7 L73 237.7 L73.4 237.7 L73.9 237.7 L74.3 237.7 L74.8 237.7 L75.2 237.7 L75.7 237.7 L76.1 237.7 L76.6 237.7 L77 237.7 L77.5 237.7 L77.9 237.7 L78.4 237.8 L78.8 237.8 L79.3 237.8 L79.7 237.8 L80.2 237.8 L80.6 237.8 L81.1 237.8 L81.5 237.8 L82 237.8 L82.4 237.8 L82.9 237.8 L83.3 237.8 L83.8 237.8 L84.2 237.8 L84.7 237.9 L85.1 237.9 L85.6 237.9 L86 237.9 L86.5 237.9 L86.9 237.9 L87.4 237.9 L87.8 237.9 L88.3 237.9 L88.7 237.9 L89.2 237.9 L89.6 238 L90.1 238 L90.5 238 L91 238 L91.4 238 L91.9 238 L92.3 238 L92.8 238 L93.2 238 L93.7 238.1 L94.1 238.1 L94.6 238.1 L95 238.1 L95.5 238.1 L95.9 238.1 L96.4 238.1 L96.8 238.1 L97.3 238.2 L97.7 238.2 L98.2 238.2 L98.6 238.2 L99.1 238.2 L99.5 238.2 L100 238.2 L100.4 238.2 L100.9 238.3 L101.3 238.3 L101.8 238.3 L102.2 238.3 L102.7 238.3 L103.1 238.3 L103.6 238.3 L104 238.4 L104.5 238.4 L104.9 238.4 L105.4 238.4 L105.8 238.4 L106.3 238.4 L106.7 238.4 L107.2 238.5 L107.6 238.5 L108.1 238.5 L108.5 238.5 L109 238.5 L109.4 238.5 L109.9 238.5 L110.3 238.6 L110.8 238.6 L111.2 238.6 L111.7 238.6 L112.1 238.6 L112.6 238.6 L113 238.6 L113.5 238.7 L113.9 238.7 L114.4 238.7 L114.8 238.7 L115.3 238.7 L115.7 238.7 L116.2 238.8 L116.6 238.8 L117.1 238.8 L117.5 238.8 L118 238.8 L118.4 238.9 L118.9 238.9 L119.3 238.9 L119.8 238.9 L120.2 238.9 L120.7 238.9 L121.1 239 L121.6 239 L122 239 L122.5 239 L122.9 239.1 L123.4 239.1 L123.8 239.1 L124.3 239.1 L124.7 239.1 L125.2 239.2 L125.6 239.2 L126.1 239.2 L126.5 239.2 L127 239.2 L127.4 239.3 L127.9 239.3 L128.3 239.3 L128.8 239.3 L129.2 239.4 L129.7 239.4 L130.1 239.4 L130.6 239.4 L131 239.5 L131.5 239.5 L131.9 239.5 L132.4 239.5 L132.8 239.6 L133.3 239.6 L133.7 239.6 L134.2 239.6 L134.6 239.7 L135.1 239.7 L135.5 239.7 L136 239.7 L136.4 239.8 L136.9 239.8 L137.3 239.8 L137.8 239.8 L138.2 239.9 L138.7 239.9 L139.1 239.9 L139.6 239.9 L140 240 L140.5 240 L140.9 240 L141.4 240 L141.8 240.1 L142.3 240.1 L142.7 240.1 L143.2 240.1 L143.6 240.2 L144.1 240.2 L144.5 240.2 L145 240.3 L145.4 240.3 L145.9 240.3 L146.3 240.3 L146.8 240.4 L147.2 240.4 L147.7 240.4 L148.1 240.4 L148.6 240.5 L149 240.5 L149.5 240.5 L149.9 240.6 L150.4 240.6 L150.8 240.6 L151.3 240.6 L151.7 240.7 L152.2 240.7 L152.6 240.7 L153.1 240.8 L153.5 240.8 L154 240.8 L154.4 240.8 L154.9 240.9 L155.3 240.9 L155.8 240.9 L156.2 241 L156.7 241 L157.1 241 L157.6 241.1" fill="none" stroke="#000000" stroke-width="1.05" stroke-linejoin="round" stroke-dasharray="10 2.8 1.7 2.8"/>
<path d="M68 237.7 L68.5 237.7 L68.9 237.7 L69.4 237.7 L69.8 237.7 L70.3 237.7 L70.7 237.7 L71.2 237.7 L71.6 237.7 L72.1 237.7 L72.5 237.8 L73 237.8 L73.4 237.8 L73.9 237.9 L74.3 238.1 L74.8 238.2 L75.2 238.4 L75.7 238.7 L76.2 238.9 L76.6 239.1 L77.1 239.4 L77.5 239.6 L78 239.9 L78.4 240.1 L78.9 240.4 L79.3 240.7 L79.8 241 L80.2 241.4 L80.7 241.7 L81.1 242.1 L81.6 242.4 L82 242.8 L82.5 243.2 L83 243.6 L83.4 244 L83.9 244.4 L84.3 244.9 L84.8 245.3 L85.2 245.7 L85.7 246.2 L86.1 246.7 L86.6 247.1 L87 247.6 L87.5 248 L87.9 248.5 L88.4 249 L88.8 249.5 L89.3 249.9 L89.7 250.4 L90.2 250.9 L90.7 251.3 L91.1 251.8 L91.6 252.2 L92 252.7 L92.5 253.1 L92.9 253.5 L93.4 254 L93.8 254.4 L94.3 254.9 L94.7 255.3 L95.2 255.8 L95.6 256.2 L96.1 256.7 L96.5 257.1 L97 257.6 L97.5 258 L97.9 258.5 L98.4 259 L98.8 259.4 L99.3 259.9 L99.7 260.4 L100.2 260.8 L100.6 261.3 L101.1 261.8 L101.5 262.2 L102 262.7 L102.4 263.2 L102.9 263.6 L103.3 264.1 L103.8 264.6 L104.2 265 L104.7 265.5 L105.2 266 L105.6 266.4 L106.1 266.9 L106.5 267.4 L107 267.8 L107.4 268.3 L107.9 268.7 L108.3 269.2 L108.8 269.7 L109.2 270.1 L109.7 270.6 L110.1 271 L110.6 271.5 L111 271.9 L111.5 272.4 L112 272.8 L112.4 273.3 L112.9 273.7 L113.3 274.2 L113.8 274.6 L114.2 275.1 L114.7 275.5 L115.1 275.9 L115.6 276.4 L116 276.8 L116.5 277.3 L116.9 277.7 L117.4 278.2 L117.8 278.6 L118.3 279.1 L118.7 279.5 L119.2 280 L119.7 280.4 L120.1 280.8 L120.6 281.3 L121 281.7 L121.5 282.2 L121.9 282.6 L122.4 283.1 L122.8 283.5 L123.3 283.9 L123.7 284.4 L124.2 284.8 L124.6 285.3 L125.1 285.7 L125.5 286.1 L126 286.6 L126.5 287 L126.9 287.5 L127.4 287.9 L127.8 288.3 L128.3 288.8 L128.7 289.2 L129.2 289.7 L129.6 290.1 L130.1 290.5 L130.5 291 L131 291.4 L131.4 291.8 L131.9 292.3 L132.3 292.7 L132.8 293.2 L133.2 293.6 L133.7 294 L134.2 294.5 L134.6 294.9 L135.1 295.3 L135.5 295.8 L136 296.2 L136.4 296.7 L136.9 297.1 L137.3 297.5 L137.8 298 L138.2 298.4 L138.7 298.8 L139.1 299.3 L139.6 299.7 L140 300.1 L140.5 300.6 L141 301 L141.4 301.4 L141.9 301.9 L142.3 302.3 L142.8 302.7 L143.2 303.2 L143.7 303.6 L144.1 304.1 L144.6 304.5 L145 304.9 L145.5 305.3 L145.9 305.8 L146.4 306.2 L146.8 306.6 L147.3 307.1 L147.7 307.5 L148.2 307.9 L148.7 308.4 L149.1 308.8 L149.6 309.2 L150 309.7 L150.5 310.1 L150.9 310.5 L151.4 311 L151.8 311.4 L152.3 311.8 L152.7 312.2 L153.2 312.7 L153.6 313.1 L154.1 313.5 L154.5 314 L155 314.4 L155.5 314.8 L155.9 315.2 L156.4 315.7 L156.8 316.1 L157.3 316.5 L157.7 317 L158.2 317.4" fill="none" stroke="#000000" stroke-width="1.2" stroke-linejoin="round" stroke-dasharray="8 2.2 1.6 1.8 1.6 1.8 1.6 2.2"/>
<path d="M68 237.7 L68.2 237.7 L68.4 237.7 L68.7 237.7 L68.9 237.7 L69.1 237.7 L69.3 237.7 L69.6 237.7 L69.8 237.7 L70 237.7 L70.2 237.7 L70.4 237.7 L70.7 237.7 L70.9 237.7 L71.1 237.7 L71.3 237.7 L71.6 237.7 L71.8 237.7 L72 237.7 L72.2 237.8 L72.4 237.8 L72.7 237.8 L72.9 237.8 L73.1 237.8 L73.3 237.8 L73.6 237.8 L73.8 237.8 L74 237.9 L74.2 237.9 L74.5 238 L74.7 238 L74.9 238.1 L75.1 238.1 L75.3 238.2 L75.6 238.3 L75.8 238.5 L76 238.6 L76.2 238.8 L76.5 239 L76.7 239.2 L76.9 239.3 L77.1 239.5 L77.3 239.7 L77.6 239.8 L77.8 239.9 L78 240 L78.2 240.1 L78.5 240.1 L78.7 240.1 L78.9 240.1 L79.1 240.1 L79.3 240.1 L79.6 240.1 L79.8 240.1 L80 240.2 L80.2 240.2 L80.5 240.4 L80.7 240.6 L80.9 240.8 L81.1 241.1 L81.3 241.3 L81.6 241.6 L81.8 241.9 L82 242.2 L82.2 242.5 L82.5 242.8 L82.7 243 L82.9 243.2 L83.1 243.3 L83.3 243.4 L83.6 243.4 L83.8 243.5 L84 243.5 L84.2 243.5 L84.5 243.4 L84.7 243.4 L84.9 243.4 L85.1 243.5 L85.4 243.5 L85.6 243.6 L85.8 243.8 L86 243.9 L86.2 244.2 L86.5 244.4 L86.7 244.7 L86.9 245 L87.1 245.4 L87.4 245.7 L87.6 246 L87.8 246.3 L88 246.5 L88.2 246.7 L88.5 246.9 L88.7 247.1 L88.9 247.2 L89.1 247.2 L89.4 247.3 L89.6 247.3 L89.8 247.3 L90 247.3 L90.2 247.3 L90.5 247.3 L90.7 247.4 L90.9 247.5 L91.1 247.6 L91.4 247.8 L91.6 248 L91.8 248.3 L92 248.6 L92.2 248.9 L92.5 249.2 L92.7 249.6 L92.9 249.9 L93.1 250.2 L93.4 250.5 L93.6 250.8 L93.8 251 L94 251.2 L94.2 251.3 L94.5 251.4 L94.7 251.5 L94.9 251.5 L95.1 251.6 L95.4 251.6 L95.6 251.6 L95.8 251.6 L96 251.7 L96.3 251.8 L96.5 251.9 L96.7 252 L96.9 252.2 L97.1 252.5 L97.4 252.7 L97.6 253.1 L97.8 253.4 L98 253.7 L98.3 254.1 L98.5 254.4 L98.7 254.7 L98.9 255 L99.1 255.3 L99.4 255.5 L99.6 255.7 L99.8 255.8 L100 255.9 L100.3 256 L100.5 256 L100.7 256 L100.9 256 L101.1 256.1 L101.4 256.1 L101.6 256.2 L101.8 256.3 L102 256.4 L102.3 256.6 L102.5 256.8 L102.7 257 L102.9 257.3 L103.1 257.6 L103.4 257.9 L103.6 258.3 L103.8 258.6 L104 259 L104.3 259.3 L104.5 259.5 L104.7 259.8 L104.9 260 L105.1 260.1 L105.4 260.3 L105.6 260.3 L105.8 260.4 L106 260.4 L106.3 260.4 L106.5 260.4 L106.7 260.4 L106.9 260.5 L107.2 260.5 L107.4 260.6 L107.6 260.8 L107.8 260.9 L108 261.2 L108.3 261.4 L108.5 261.7 L108.7 262 L108.9 262.3 L109.2 262.7 L109.4 263 L109.6 263.3 L109.8 263.6 L110 263.8 L110.3 264 L110.5 264.2 L110.7 264.3 L110.9 264.4 L111.2 264.5 L111.4 264.5 L111.6 264.5 L111.8 264.5 L112 264.5 L112.3 264.5 L112.5 264.5 L112.7 264.6 L112.9 264.7 L113.2 264.8 L113.4 264.9 L113.6 265.1 L113.8 265.4 L114 265.7 L114.3 266 L114.5 266.3 L114.7 266.6 L114.9 266.9 L115.2 267.2 L115.4 267.4 L115.6 267.6 L115.8 267.8 L116 268 L116.3 268.1 L116.5 268.1 L116.7 268.2 L116.9 268.2 L117.2 268.2 L117.4 268.1 L117.6 268.1 L117.8 268.1 L118.1 268.1 L118.3 268.2 L118.5 268.3 L118.7 268.4 L118.9 268.6 L119.2 268.8 L119.4 269 L119.6 269.3 L119.8 269.6 L120.1 269.9 L120.3 270.2 L120.5 270.5 L120.7 270.8 L120.9 271 L121.2 271.2 L121.4 271.4 L121.6 271.5 L121.8 271.6 L122.1 271.6 L122.3 271.7 L122.5 271.7 L122.7 271.6 L122.9 271.6 L123.2 271.6 L123.4 271.6 L123.6 271.6 L123.8 271.7 L124.1 271.8 L124.3 271.9 L124.5 272.1 L124.7 272.3 L124.9 272.6 L125.2 272.8 L125.4 273.1 L125.6 273.4 L125.8 273.7 L126.1 274 L126.3 274.3 L126.5 274.5 L126.7 274.7 L126.9 274.8 L127.2 274.9 L127.4 275 L127.6 275 L127.8 275 L128.1 275 L128.3 275 L128.5 274.9 L128.7 274.9 L129 274.9 L129.2 275 L129.4 275 L129.6 275.1 L129.8 275.3 L130.1 275.5 L130.3 275.7 L130.5 275.9 L130.7 276.2 L131 276.5 L131.2 276.8 L131.4 277.1 L131.6 277.4 L131.8 277.6 L132.1 277.8 L132.3 278 L132.5 278.1 L132.7 278.2 L133 278.3 L133.2 278.3 L133.4 278.3 L133.6 278.2 L133.8 278.2 L134.1 278.2 L134.3 278.1 L134.5 278.2 L134.7 278.2 L135 278.3 L135.2 278.4 L135.4 278.5 L135.6 278.7 L135.8 279 L136.1 279.2 L136.3 279.5 L136.5 279.8 L136.7 280.1 L137 280.4 L137.2 280.6 L137.4 280.9 L137.6 281 L137.8 281.2 L138.1 281.3 L138.3 281.4 L138.5 281.4 L138.7 281.4 L139 281.4 L139.2 281.4 L139.4 281.3 L139.6 281.3 L139.9 281.3 L140.1 281.3 L140.3 281.3 L140.5 281.4 L140.7 281.6 L141 281.7 L141.2 281.9 L141.4 282.2 L141.6 282.4 L141.9 282.7 L142.1 283 L142.3 283.3 L142.5 283.6 L142.7 283.8 L143 284 L143.2 284.2 L143.4 284.3 L143.6 284.4 L143.9 284.5 L144.1 284.5 L144.3 284.5 L144.5 284.5 L144.7 284.4 L145 284.4 L145.2 284.4 L145.4 284.4 L145.6 284.4 L145.9 284.4 L146.1 284.5 L146.3 284.7 L146.5 284.8 L146.7 285.1 L147 285.3 L147.2 285.6 L147.4 285.9 L147.6 286.1 L147.9 286.4 L148.1 286.7 L148.3 286.9 L148.5 287.1 L148.7 287.3 L149 287.4 L149.2 287.5 L149.4 287.5 L149.6 287.5 L149.9 287.5 L150.1 287.5 L150.3 287.5 L150.5 287.4 L150.8 287.4 L151 287.4 L151.2 287.4 L151.4 287.5 L151.6 287.6 L151.9 287.7 L152.1 287.9 L152.3 288.2 L152.5 288.4 L152.8 288.7 L153 289 L153.2 289.2 L153.4 289.5 L153.6 289.8 L153.9 290 L154.1 290.2 L154.3 290.3 L154.5 290.4 L154.8 290.5 L155 290.5 L155.2 290.5 L155.4 290.5 L155.6 290.5 L155.9 290.4 L156.1 290.4 L156.3 290.4 L156.5 290.4 L156.8 290.4 L157 290.5 L157.2 290.6 L157.4 290.8 L157.6 291 L157.9 291.2 L158.1 291.5 L158.3 291.8 L158.5 292.1 L158.8 292.3 L159 292.6 L159.2 292.8 L159.4 293.1 L159.6 293.2 L159.9 293.4 L160.1 293.5 L160.3 293.5 L160.5 293.5 L160.8 293.5 L161 293.5 L161.2 293.5 L161.4 293.4 L161.7 293.4 L161.9 293.4 L162.1 293.4 L162.3 293.5 L162.5 293.5 L162.8 293.7 L163 293.9 L163.2 294.1 L163.4 294.3 L163.7 294.6 L163.9 294.9 L164.1 295.1 L164.3 295.4 L164.5 295.7 L164.8 295.9 L165 296.1 L165.2 296.3 L165.4 296.4 L165.7 296.5 L165.9 296.5 L166.1 296.5 L166.3 296.5 L166.5 296.5 L166.8 296.5 L167 296.4 L167.2 296.4 L167.4 296.4 L167.7 296.4 L167.9 296.5 L168.1 296.6 L168.3 296.7 L168.5 296.9 L168.8 297.1 L169 297.4 L169.2 297.7 L169.4 297.9 L169.7 298.2 L169.9 298.5 L170.1 298.8 L170.3 299 L170.5 299.2 L170.8 299.3 L171 299.4 L171.2 299.5 L171.4 299.5 L171.7 299.5 L171.9 299.5 L172.1 299.5 L172.3 299.4 L172.6 299.4 L172.8 299.3 L173 299.4 L173.2 299.4 L173.4 299.5 L173.7 299.6 L173.9 299.7 L174.1 299.9 L174.3 300.2 L174.6 300.4 L174.8 300.7 L175 301 L175.2 301.3 L175.4 301.5 L175.7 301.8 L175.9 302 L176.1 302.2 L176.3 302.3 L176.6 302.4 L176.8 302.4 L177 302.4 L177.2 302.4 L177.4 302.4 L177.7 302.4 L177.9 302.3 L178.1 302.3 L178.3 302.3 L178.6 302.3 L178.8 302.3 L179 302.4 L179.2 302.5 L179.4 302.7 L179.7 302.9 L179.9 303.1 L180.1 303.4 L180.3 303.7 L180.6 304 L180.8 304.2 L181 304.5 L181.2 304.7 L181.4 304.9 L181.7 305.1 L181.9 305.2 L182.1 305.3 L182.3 305.3 L182.6 305.3 L182.8 305.3 L183 305.3 L183.2 305.2 L183.5 305.2 L183.7 305.1 L183.9 305.1 L184.1 305.2 L184.3 305.2 L184.6 305.3 L184.8 305.5 L185 305.6 L185.2 305.8 L185.5 306.1 L185.7 306.4 L185.9 306.6 L186.1 306.9 L186.3 307.2 L186.6 307.4 L186.8 307.7 L187 307.8 L187.2 308 L187.5 308.1 L187.7 308.2 L187.9 308.2 L188.1 308.2 L188.3 308.1 L188.6 308.1 L188.8 308.1 L189 308 L189.2 308 L189.5 308 L189.7 308 L189.9 308.1 L190.1 308.2 L190.3 308.3 L190.6 308.5 L190.8 308.8 L191 309 L191.2 309.3 L191.5 309.6 L191.7 309.8 L191.9 310.1 L192.1 310.3 L192.4 310.5 L192.6 310.7 L192.8 310.9 L193 310.9 L193.2 311 L193.5 311 L193.7 311 L193.9 311 L194.1 310.9 L194.4 310.9 L194.6 310.8 L194.8 310.8 L195 310.8 L195.2 310.8 L195.5 310.9 L195.7 311.1 L195.9 311.2 L196.1 311.4 L196.4 311.7 L196.6 311.9 L196.8 312.2 L197 312.5 L197.2 312.7 L197.5 313 L197.7 313.2 L197.9 313.4 L198.1 313.6 L198.4 313.7 L198.6 313.8 L198.8 313.8 L199 313.8 L199.2 313.8 L199.5 313.7 L199.7 313.7 L199.9 313.6 L200.1 313.6 L200.4 313.6 L200.6 313.6 L200.8 313.7 L201 313.8 L201.2 313.9 L201.5 314.1 L201.7 314.3 L201.9 314.5 L202.1 314.8 L202.4 315.1 L202.6 315.3 L202.8 315.6 L203 315.9 L203.3 316.1 L203.5 316.3 L203.7 316.4 L203.9 316.5 L204.1 316.6 L204.4 316.6 L204.6 316.6 L204.8 316.6 L205 316.5 L205.3 316.5 L205.5 316.4 L205.7 316.4 L205.9 316.4 L206.1 316.4 L206.4 316.5 L206.6 316.6 L206.8 316.8 L207 316.9 L207.3 317.2 L207.5 317.4 L207.7 317.7 L207.9 318 L208.1 318.2 L208.4 318.5 L208.6 318.7 L208.8 318.9 L209 319.1 L209.3 319.2 L209.5 319.3 L209.7 319.4 L209.9 319.4 L210.1 319.4 L210.4 319.3 L210.6 319.3 L210.8 319.2 L211 319.2 L211.3 319.2 L211.5 319.2 L211.7 319.2 L211.9 319.3 L212.1 319.4 L212.4 319.6 L212.6 319.8 L212.8 320 L213 320.3 L213.3 320.5 L213.5 320.8 L213.7 321.1 L213.9 321.3 L214.2 321.6 L214.4 321.8 L214.6 321.9 L214.8 322 L215 322.1 L215.3 322.2 L215.5 322.2 L215.7 322.1 L215.9 322.1 L216.2 322 L216.4 322 L216.6 322 L216.8 321.9 L217 322 L217.3 322 L217.5 322.1 L217.7 322.2 L217.9 322.4 L218.2 322.6 L218.4 322.8 L218.6 323.1 L218.8 323.4 L219 323.7 L219.3 323.9 L219.5 324.2 L219.7 324.4 L219.9 324.6 L220.2 324.7 L220.4 324.8 L220.6 324.9 L220.8 324.9 L221 324.9 L221.3 324.9 L221.5 324.8 L221.7 324.8 L221.9 324.7 L222.2 324.7 L222.4 324.7 L222.6 324.7 L222.8 324.8 L223 324.9 L223.3 325 L223.5 325.2 L223.7 325.4 L223.9 325.7 L224.2 325.9 L224.4 326.2 L224.6 326.5 L224.8 326.7 L225.1 327 L225.3 327.2 L225.5 327.3 L225.7 327.5 L225.9 327.6 L226.2 327.6 L226.4 327.6 L226.6 327.6 L226.8 327.6 L227.1 327.5 L227.3 327.5 L227.5 327.4 L227.7 327.4 L227.9 327.4 L228.2 327.4 L228.4 327.5 L228.6 327.6 L228.8 327.8 L229.1 328 L229.3 328.2 L229.5 328.4 L229.7 328.7 L229.9 329 L230.2 329.2 L230.4 329.5 L230.6 329.7 L230.8 329.9 L231.1 330.1 L231.3 330.2 L231.5 330.3 L231.7 330.3 L231.9 330.3 L232.2 330.3 L232.4 330.2" fill="none" stroke="#1010ff" stroke-width="1.15" stroke-linejoin="round"/>
<path d="M68 237.7 L68.6 237.7 L69.1 237.7 L69.7 237.7 L70.2 237.7 L70.8 237.7 L71.3 237.7 L71.9 237.7 L72.4 237.7 L73 237.7 L73.5 237.7 L74.1 237.7 L74.6 237.8 L75.2 237.8 L75.7 237.8 L76.3 237.8 L76.8 237.8 L77.4 237.8 L77.9 237.9 L78.5 237.9 L79 237.9 L79.6 237.9 L80.1 237.9 L80.7 238 L81.2 238 L81.8 238 L82.3 238 L82.9 238.1 L83.5 238.1 L84 238.1 L84.6 238.1 L85.1 238.2 L85.7 238.2 L86.2 238.2 L86.8 238.3 L87.3 238.3 L87.9 238.4 L88.4 238.4 L89 238.4 L89.5 238.5 L90.1 238.5 L90.6 238.6 L91.2 238.6 L91.7 238.7 L92.3 238.7 L92.8 238.8 L93.4 238.9 L93.9 238.9 L94.5 239 L95 239 L95.6 239.1 L96.1 239.2 L96.7 239.2 L97.2 239.3 L97.8 239.4 L98.4 239.4 L98.9 239.5 L99.5 239.6 L100 239.6 L100.6 239.7 L101.1 239.8 L101.7 239.8 L102.2 239.9 L102.8 240 L103.3 240 L103.9 240.1 L104.4 240.2 L105 240.2 L105.5 240.3 L106.1 240.4 L106.6 240.5 L107.2 240.6 L107.7 240.6 L108.3 240.7 L108.8 240.8 L109.4 240.9 L109.9 241 L110.5 241.1 L111 241.2 L111.6 241.3 L112.1 241.3 L112.7 241.4 L113.3 241.5 L113.8 241.6 L114.4 241.7 L114.9 241.8 L115.5 241.9 L116 242 L116.6 242.1 L117.1 242.2 L117.7 242.3 L118.2 242.5 L118.8 242.6 L119.3 242.7 L119.9 242.8 L120.4 242.9 L121 243 L121.5 243.1 L122.1 243.2 L122.6 243.3 L123.2 243.4 L123.7 243.6 L124.3 243.7 L124.8 243.8 L125.4 243.9 L125.9 244 L126.5 244.2 L127 244.3 L127.6 244.4 L128.2 244.6 L128.7 244.7 L129.3 244.8 L129.8 245 L130.4 245.1 L130.9 245.2 L131.5 245.4 L132 245.5 L132.6 245.7 L133.1 245.8 L133.7 245.9 L134.2 246.1 L134.8 246.2 L135.3 246.4 L135.9 246.5 L136.4 246.7 L137 246.8 L137.5 247 L138.1 247.1 L138.6 247.3 L139.2 247.4 L139.7 247.6 L140.3 247.7 L140.8 247.8 L141.4 248 L141.9 248.1 L142.5 248.3 L143.1 248.4 L143.6 248.6 L144.2 248.7 L144.7 248.9 L145.3 249 L145.8 249.1 L146.4 249.3 L146.9 249.4 L147.5 249.6 L148 249.7 L148.6 249.9 L149.1 250 L149.7 250.2 L150.2 250.4 L150.8 250.5 L151.3 250.7 L151.9 250.9 L152.4 251.1 L153 251.3 L153.5 251.4 L154.1 251.6 L154.6 251.8 L155.2 252 L155.7 252.2 L156.3 252.4 L156.8 252.6 L157.4 252.8 L158 253 L158.5 253.2 L159.1 253.4 L159.6 253.6 L160.2 253.8 L160.7 254 L161.3 254.2 L161.8 254.4 L162.4 254.6 L162.9 254.8 L163.5 255 L164 255.2 L164.6 255.4 L165.1 255.6 L165.7 255.8 L166.2 256 L166.8 256.2 L167.3 256.4 L167.9 256.6 L168.4 256.8 L169 257 L169.5 257.2 L170.1 257.4 L170.6 257.6 L171.2 257.8 L171.7 258 L172.3 258.1 L172.9 258.3 L173.4 258.5 L174 258.7 L174.5 258.9 L175.1 259.1 L175.6 259.3 L176.2 259.5 L176.7 259.7 L177.3 259.9 L177.8 260.1 L178.4 260.3 L178.9 260.5 L179.5 260.7 L180 260.9 L180.6 261.1 L181.1 261.3 L181.7 261.5 L182.2 261.7 L182.8 261.9 L183.3 262.1 L183.9 262.3 L184.4 262.5 L185 262.7 L185.5 262.9 L186.1 263.1 L186.6 263.3 L187.2 263.5 L187.8 263.7 L188.3 263.9 L188.9 264.1 L189.4 264.3 L190 264.5 L190.5 264.7 L191.1 264.9 L191.6 265.1 L192.2 265.3 L192.7 265.5 L193.3 265.7 L193.8 265.9 L194.4 266.1 L194.9 266.3 L195.5 266.5 L196 266.7 L196.6 266.9 L197.1 267.1 L197.7 267.3 L198.2 267.5 L198.8 267.7 L199.3 267.9 L199.9 268.1 L200.4 268.3 L201 268.5 L201.5 268.7 L202.1 268.9 L202.7 269.1 L203.2 269.4 L203.8 269.6 L204.3 269.8 L204.9 270 L205.4 270.2 L206 270.4 L206.5 270.6 L207.1 270.8 L207.6 271 L208.2 271.2 L208.7 271.4 L209.3 271.6 L209.8 271.8 L210.4 272 L210.9 272.3 L211.5 272.5 L212 272.7 L212.6 272.9 L213.1 273.1 L213.7 273.3 L214.2 273.5 L214.8 273.7 L215.3 273.9 L215.9 274.1 L216.4 274.3 L217 274.6 L217.6 274.8 L218.1 275 L218.7 275.2 L219.2 275.4 L219.8 275.6 L220.3 275.8 L220.9 276 L221.4 276.3 L222 276.5 L222.5 276.7 L223.1 276.9 L223.6 277.1 L224.2 277.3 L224.7 277.5 L225.3 277.7 L225.8 278 L226.4 278.2 L226.9 278.4 L227.5 278.6 L228 278.8 L228.6 279 L229.1 279.2 L229.7 279.5 L230.2 279.7 L230.8 279.9 L231.3 280.1 L231.9 280.3 L232.5 280.5 L233 280.8" fill="none" stroke="#ff0000" stroke-width="1.1" stroke-linejoin="round" stroke-dasharray="5.8 4.9"/>
<path d="M68 236.4 L68.2 236.4 L68.4 236.4 L68.7 236.4 L68.9 236.4 L69.1 236.4 L69.3 236.4 L69.6 236.4 L69.8 236.4 L70 236.4 L70.2 236.4 L70.5 236.4 L70.7 236.4 L70.9 236.4 L71.1 236.4 L71.4 236.4 L71.6 236.4 L71.8 236.4 L72 236.4 L72.3 236.4 L72.5 236.4 L72.7 236.5 L72.9 236.5 L73.2 236.5 L73.4 236.5 L73.6 236.5 L73.8 236.5 L74.1 236.5 L74.3 236.6 L74.5 236.6 L74.7 236.6 L75 236.7 L75.2 236.7 L75.4 236.8 L75.6 236.9 L75.9 237 L76.1 237.1 L76.3 237.2 L76.5 237.3 L76.8 237.4 L77 237.5 L77.2 237.7 L77.4 237.8 L77.7 237.8 L77.9 237.9 L78.1 238 L78.3 238 L78.6 238 L78.8 238 L79 238 L79.2 238 L79.5 238 L79.7 238 L79.9 238 L80.1 238 L80.4 238.1 L80.6 238.2 L80.8 238.4 L81 238.6 L81.3 238.7 L81.5 238.9 L81.7 239.1 L81.9 239.3 L82.2 239.5 L82.4 239.7 L82.6 239.8 L82.8 240 L83.1 240.1 L83.3 240.1 L83.5 240.2 L83.7 240.2 L84 240.2 L84.2 240.2 L84.4 240.2 L84.6 240.2 L84.9 240.2 L85.1 240.2 L85.3 240.2 L85.5 240.3 L85.8 240.4 L86 240.5 L86.2 240.6 L86.4 240.8 L86.7 241 L86.9 241.2 L87.1 241.4 L87.3 241.6 L87.6 241.8 L87.8 242 L88 242.2 L88.2 242.3 L88.5 242.5 L88.7 242.5 L88.9 242.6 L89.1 242.6 L89.4 242.7 L89.6 242.7 L89.8 242.7 L90 242.7 L90.3 242.7 L90.5 242.7 L90.7 242.7 L90.9 242.8 L91.2 242.9 L91.4 243 L91.6 243.1 L91.8 243.3 L92.1 243.5 L92.3 243.7 L92.5 243.9 L92.7 244.1 L93 244.4 L93.2 244.6 L93.4 244.7 L93.6 244.9 L93.9 245.1 L94.1 245.2 L94.3 245.2 L94.5 245.3 L94.8 245.3 L95 245.4 L95.2 245.4 L95.4 245.4 L95.7 245.4 L95.9 245.4 L96.1 245.4 L96.3 245.5 L96.6 245.6 L96.8 245.7 L97 245.8 L97.2 246 L97.4 246.2 L97.7 246.4 L97.9 246.6 L98.1 246.8 L98.3 247 L98.6 247.3 L98.8 247.5 L99 247.6 L99.2 247.8 L99.5 247.9 L99.7 248 L99.9 248.1 L100.1 248.1 L100.4 248.2 L100.6 248.2 L100.8 248.2 L101 248.2 L101.3 248.2 L101.5 248.2 L101.7 248.3 L101.9 248.4 L102.2 248.5 L102.4 248.6 L102.6 248.7 L102.8 248.9 L103.1 249.1 L103.3 249.3 L103.5 249.6 L103.7 249.8 L104 250 L104.2 250.2 L104.4 250.4 L104.6 250.6 L104.9 250.7 L105.1 250.8 L105.3 250.9 L105.5 251 L105.8 251 L106 251 L106.2 251.1 L106.4 251.1 L106.7 251.1 L106.9 251.1 L107.1 251.1 L107.3 251.2 L107.6 251.3 L107.8 251.4 L108 251.5 L108.2 251.7 L108.5 251.9 L108.7 252.1 L108.9 252.3 L109.1 252.5 L109.4 252.8 L109.6 253 L109.8 253.2 L110 253.3 L110.3 253.5 L110.5 253.6 L110.7 253.7 L110.9 253.8 L111.2 253.8 L111.4 253.8 L111.6 253.8 L111.8 253.8 L112.1 253.9 L112.3 253.9 L112.5 253.9 L112.7 253.9 L113 254 L113.2 254.1 L113.4 254.2 L113.6 254.4 L113.9 254.6 L114.1 254.8 L114.3 255 L114.5 255.2 L114.8 255.4 L115 255.6 L115.2 255.8 L115.4 256 L115.7 256.2 L115.9 256.3 L116.1 256.4 L116.3 256.5 L116.6 256.5 L116.8 256.5 L117 256.5 L117.2 256.5 L117.5 256.5 L117.7 256.5 L117.9 256.6 L118.1 256.6 L118.4 256.7 L118.6 256.7 L118.8 256.8 L119 257 L119.3 257.2 L119.5 257.3 L119.7 257.6 L119.9 257.8 L120.2 258 L120.4 258.2 L120.6 258.4 L120.8 258.6 L121.1 258.8 L121.3 258.9 L121.5 259 L121.7 259.1 L122 259.2 L122.2 259.2 L122.4 259.2 L122.6 259.2 L122.9 259.2 L123.1 259.2 L123.3 259.2 L123.5 259.2 L123.8 259.3 L124 259.4 L124.2 259.5 L124.4 259.6 L124.7 259.8 L124.9 259.9 L125.1 260.1 L125.3 260.3 L125.5 260.6 L125.8 260.8 L126 261 L126.2 261.2 L126.4 261.4 L126.7 261.5 L126.9 261.6 L127.1 261.7 L127.3 261.8 L127.6 261.8 L127.8 261.9 L128 261.9 L128.2 261.9 L128.5 261.9 L128.7 261.9 L128.9 261.9 L129.1 261.9 L129.4 262 L129.6 262.1 L129.8 262.2 L130 262.3 L130.3 262.5 L130.5 262.7 L130.7 262.9 L130.9 263.1 L131.2 263.4 L131.4 263.6 L131.6 263.8 L131.8 264 L132.1 264.1 L132.3 264.3 L132.5 264.4 L132.7 264.4 L133 264.5 L133.2 264.5 L133.4 264.5 L133.6 264.5 L133.9 264.5 L134.1 264.5 L134.3 264.5 L134.5 264.6 L134.8 264.6 L135 264.7 L135.2 264.8 L135.4 264.9 L135.7 265.1 L135.9 265.3 L136.1 265.5 L136.3 265.7 L136.6 265.9 L136.8 266.1 L137 266.3 L137.2 266.5 L137.5 266.7 L137.7 266.8 L137.9 267 L138.1 267.1 L138.4 267.1 L138.6 267.2 L138.8 267.2 L139 267.2 L139.3 267.2 L139.5 267.2 L139.7 267.2 L139.9 267.2 L140.2 267.2 L140.4 267.3 L140.6 267.4 L140.8 267.5 L141.1 267.7 L141.3 267.8 L141.5 268 L141.7 268.2 L142 268.5 L142.2 268.7 L142.4 268.9 L142.6 269.1 L142.9 269.3 L143.1 269.4 L143.3 269.5 L143.5 269.6 L143.8 269.7 L144 269.8 L144.2 269.8 L144.4 269.8 L144.7 269.8 L144.9 269.8 L145.1 269.8 L145.3 269.8 L145.6 269.8 L145.8 269.9 L146 270 L146.2 270.1 L146.5 270.2 L146.7 270.4 L146.9 270.6 L147.1 270.8 L147.4 271 L147.6 271.2 L147.8 271.4 L148 271.6 L148.3 271.8 L148.5 272 L148.7 272.1 L148.9 272.2 L149.2 272.3 L149.4 272.4 L149.6 272.4 L149.8 272.4 L150.1 272.4 L150.3 272.4 L150.5 272.4 L150.7 272.4 L151 272.4 L151.2 272.5 L151.4 272.6 L151.6 272.6 L151.9 272.8 L152.1 272.9 L152.3 273.1 L152.5 273.3 L152.8 273.5 L153 273.7 L153.2 273.9 L153.4 274.1 L153.7 274.3 L153.9 274.5 L154.1 274.7 L154.3 274.8 L154.5 274.9 L154.8 275 L155 275 L155.2 275 L155.4 275 L155.7 275 L155.9 275 L156.1 275 L156.3 275 L156.6 275.1 L156.8 275.1 L157 275.2 L157.2 275.3 L157.5 275.4 L157.7 275.6 L157.9 275.8 L158.1 276 L158.4 276.2 L158.6 276.4 L158.8 276.6 L159 276.8 L159.3 277 L159.5 277.2 L159.7 277.3 L159.9 277.4 L160.2 277.5 L160.4 277.6 L160.6 277.6 L160.8 277.6 L161.1 277.6 L161.3 277.6 L161.5 277.6 L161.7 277.6 L162 277.6 L162.2 277.7 L162.4 277.7 L162.6 277.8 L162.9 278 L163.1 278.1 L163.3 278.3 L163.5 278.5 L163.8 278.7 L164 278.9 L164.2 279.1 L164.4 279.3 L164.7 279.5 L164.9 279.7 L165.1 279.8 L165.3 280 L165.6 280 L165.8 280.1 L166 280.1 L166.2 280.2 L166.5 280.2 L166.7 280.2 L166.9 280.2 L167.1 280.2 L167.4 280.2 L167.6 280.2 L167.8 280.3 L168 280.3 L168.3 280.5 L168.5 280.6 L168.7 280.8 L168.9 281 L169.2 281.2 L169.4 281.4 L169.6 281.6 L169.8 281.8 L170.1 282 L170.3 282.2 L170.5 282.3 L170.7 282.5 L171 282.6 L171.2 282.6 L171.4 282.7 L171.6 282.7 L171.9 282.7 L172.1 282.7 L172.3 282.7 L172.5 282.7 L172.8 282.7 L173 282.7 L173.2 282.8 L173.4 282.8 L173.7 282.9 L173.9 283.1 L174.1 283.2 L174.3 283.4 L174.6 283.6 L174.8 283.8 L175 284 L175.2 284.2 L175.5 284.4 L175.7 284.6 L175.9 284.8 L176.1 284.9 L176.4 285 L176.6 285.1 L176.8 285.2 L177 285.2 L177.3 285.2 L177.5 285.2 L177.7 285.2 L177.9 285.2 L178.2 285.2 L178.4 285.2 L178.6 285.3 L178.8 285.3 L179.1 285.4 L179.3 285.5 L179.5 285.7 L179.7 285.8 L180 286 L180.2 286.2 L180.4 286.4 L180.6 286.7 L180.9 286.9 L181.1 287.1 L181.3 287.2 L181.5 287.4 L181.8 287.5 L182 287.6 L182.2 287.7 L182.4 287.7 L182.7 287.7 L182.9 287.7 L183.1 287.7 L183.3 287.7 L183.5 287.7 L183.8 287.7 L184 287.7 L184.2 287.8 L184.4 287.9 L184.7 288 L184.9 288.1 L185.1 288.3 L185.3 288.4 L185.6 288.6 L185.8 288.8 L186 289.1 L186.2 289.3 L186.5 289.5 L186.7 289.7 L186.9 289.8 L187.1 289.9 L187.4 290 L187.6 290.1 L187.8 290.2 L188 290.2 L188.3 290.2 L188.5 290.2 L188.7 290.2 L188.9 290.2 L189.2 290.2 L189.4 290.2 L189.6 290.3 L189.8 290.3 L190.1 290.4 L190.3 290.5 L190.5 290.7 L190.7 290.8 L191 291 L191.2 291.2 L191.4 291.5 L191.6 291.7 L191.9 291.9 L192.1 292.1 L192.3 292.2 L192.5 292.4 L192.8 292.5 L193 292.6 L193.2 292.6 L193.4 292.7 L193.7 292.7 L193.9 292.7 L194.1 292.7 L194.3 292.7 L194.6 292.7 L194.8 292.7 L195 292.7 L195.2 292.8 L195.5 292.8 L195.7 292.9 L195.9 293.1 L196.1 293.2 L196.4 293.4 L196.6 293.6 L196.8 293.8 L197 294 L197.3 294.2 L197.5 294.4 L197.7 294.6 L197.9 294.8 L198.2 294.9 L198.4 295 L198.6 295.1 L198.8 295.1 L199.1 295.1 L199.3 295.2 L199.5 295.1 L199.7 295.1 L200 295.1 L200.2 295.1 L200.4 295.2 L200.6 295.2 L200.9 295.3 L201.1 295.4 L201.3 295.5 L201.5 295.6 L201.8 295.8 L202 296 L202.2 296.2 L202.4 296.4 L202.7 296.6 L202.9 296.8 L203.1 297 L203.3 297.2 L203.6 297.3 L203.8 297.4 L204 297.5 L204.2 297.6 L204.5 297.6 L204.7 297.6 L204.9 297.6 L205.1 297.6 L205.4 297.6 L205.6 297.6 L205.8 297.6 L206 297.6 L206.3 297.7 L206.5 297.8 L206.7 297.9 L206.9 298 L207.2 298.2 L207.4 298.4 L207.6 298.6 L207.8 298.8 L208.1 299 L208.3 299.2 L208.5 299.4 L208.7 299.6 L209 299.7 L209.2 299.8 L209.4 299.9 L209.6 300 L209.9 300 L210.1 300.1 L210.3 300.1 L210.5 300 L210.8 300 L211 300 L211.2 300 L211.4 300.1 L211.6 300.1 L211.9 300.2 L212.1 300.3 L212.3 300.4 L212.5 300.6 L212.8 300.7 L213 300.9 L213.2 301.1 L213.4 301.3 L213.7 301.5 L213.9 301.7 L214.1 301.9 L214.3 302.1 L214.6 302.2 L214.8 302.3 L215 302.4 L215.2 302.5 L215.5 302.5 L215.7 302.5 L215.9 302.5 L216.1 302.5 L216.4 302.5 L216.6 302.5 L216.8 302.5 L217 302.5 L217.3 302.6 L217.5 302.7 L217.7 302.8 L217.9 302.9 L218.2 303.1 L218.4 303.3 L218.6 303.5 L218.8 303.7 L219.1 303.9 L219.3 304.1 L219.5 304.3 L219.7 304.4 L220 304.6 L220.2 304.7 L220.4 304.8 L220.6 304.9 L220.9 304.9 L221.1 304.9 L221.3 304.9 L221.5 304.9 L221.8 304.9 L222 304.9 L222.2 304.9 L222.4 304.9 L222.7 305 L222.9 305 L223.1 305.1 L223.3 305.3 L223.6 305.4 L223.8 305.6 L224 305.8 L224.2 306 L224.5 306.2 L224.7 306.4 L224.9 306.6 L225.1 306.8 L225.4 306.9 L225.6 307.1 L225.8 307.2 L226 307.2 L226.3 307.3 L226.5 307.3 L226.7 307.3 L226.9 307.3 L227.2 307.3 L227.4 307.3 L227.6 307.3 L227.8 307.3 L228.1 307.3 L228.3 307.4 L228.5 307.5 L228.7 307.6 L229 307.8 L229.2 307.9 L229.4 308.1 L229.6 308.3 L229.9 308.5 L230.1 308.7 L230.3 308.9 L230.5 309.1 L230.8 309.3 L231 309.4 L231.2 309.5 L231.4 309.6 L231.7 309.7 L231.9 309.7 L232.1 309.7 L232.3 309.7 L232.6 309.7 L232.8 309.7 L233 309.7 L233.2 309.7 L233.5 309.7 L233.7 309.8 L233.9 309.8 L234.1 310 L234.4 310.1 L234.6 310.2 L234.8 310.4 L235 310.6 L235.3 310.8 L235.5 311 L235.7 311.2 L235.9 311.4 L236.2 311.6 L236.4 311.8" fill="none" stroke="#000000" stroke-width="1.0" stroke-linejoin="round" stroke-dasharray="1.1 2.6"/>
<path d="M68 237.7 L68.2 237.7 L68.4 237.7 L68.7 237.7 L68.9 237.7 L69.1 237.7 L69.3 237.7 L69.6 237.7 L69.8 237.7 L70 237.7 L70.2 237.7 L70.5 237.7 L70.7 237.7 L70.9 237.7 L71.1 237.7 L71.4 237.7 L71.6 237.7 L71.8 237.7 L72 237.7 L72.3 237.7 L72.5 237.7 L72.7 237.7 L72.9 237.8 L73.2 237.8 L73.4 237.8 L73.6 237.8 L73.8 237.8 L74.1 237.8 L74.3 237.9 L74.5 237.9 L74.7 237.9 L75 238 L75.2 238 L75.4 238.1 L75.6 238.2 L75.9 238.3 L76.1 238.4 L76.3 238.5 L76.5 238.6 L76.8 238.7 L77 238.8 L77.2 238.9 L77.4 239 L77.7 239.1 L77.9 239.2 L78.1 239.2 L78.3 239.2 L78.6 239.3 L78.8 239.3 L79 239.3 L79.2 239.3 L79.5 239.3 L79.7 239.3 L79.9 239.4 L80.1 239.4 L80.4 239.5 L80.6 239.6 L80.8 239.7 L81 239.9 L81.3 240.1 L81.5 240.2 L81.7 240.4 L81.9 240.6 L82.2 240.8 L82.4 240.9 L82.6 241.1 L82.8 241.2 L83.1 241.3 L83.3 241.4 L83.5 241.4 L83.7 241.4 L84 241.5 L84.2 241.5 L84.4 241.5 L84.6 241.5 L84.9 241.5 L85.1 241.5 L85.3 241.6 L85.5 241.7 L85.8 241.7 L86 241.9 L86.2 242 L86.4 242.2 L86.7 242.3 L86.9 242.5 L87.1 242.7 L87.3 242.9 L87.6 243.1 L87.8 243.2 L88 243.4 L88.2 243.5 L88.5 243.7 L88.7 243.8 L88.9 243.8 L89.1 243.9 L89.4 243.9 L89.6 243.9 L89.8 244 L90 244 L90.3 244 L90.5 244 L90.7 244.1 L90.9 244.2 L91.2 244.2 L91.4 244.4 L91.6 244.5 L91.8 244.7 L92.1 244.8 L92.3 245 L92.5 245.2 L92.7 245.4 L93 245.6 L93.2 245.8 L93.4 246 L93.6 246.1 L93.9 246.3 L94.1 246.4 L94.3 246.5 L94.5 246.5 L94.8 246.6 L95 246.6 L95.2 246.6 L95.4 246.7 L95.7 246.7 L95.9 246.7 L96.1 246.8 L96.3 246.9 L96.6 246.9 L96.8 247.1 L97 247.2 L97.2 247.3 L97.4 247.5 L97.7 247.7 L97.9 247.9 L98.1 248.1 L98.3 248.3 L98.6 248.5 L98.8 248.7 L99 248.9 L99.2 249 L99.5 249.1 L99.7 249.2 L99.9 249.3 L100.1 249.4 L100.4 249.4 L100.6 249.5 L100.8 249.5 L101 249.5 L101.3 249.6 L101.5 249.6 L101.7 249.7 L101.9 249.7 L102.2 249.8 L102.4 250 L102.6 250.1 L102.8 250.3 L103.1 250.5 L103.3 250.7 L103.5 250.9 L103.7 251.1 L104 251.3 L104.2 251.5 L104.4 251.6 L104.6 251.8 L104.9 251.9 L105.1 252.1 L105.3 252.1 L105.5 252.2 L105.8 252.3 L106 252.3 L106.2 252.3 L106.4 252.4 L106.7 252.4 L106.9 252.4 L107.1 252.5 L107.3 252.6 L107.6 252.7 L107.8 252.8 L108 252.9 L108.2 253.1 L108.5 253.2 L108.7 253.4 L108.9 253.6 L109.1 253.8 L109.4 254 L109.6 254.2 L109.8 254.4 L110 254.6 L110.3 254.7 L110.5 254.8 L110.7 254.9 L110.9 255 L111.2 255.1 L111.4 255.1 L111.6 255.1 L111.8 255.1 L112.1 255.2 L112.3 255.2 L112.5 255.2 L112.7 255.3 L113 255.4 L113.2 255.5 L113.4 255.6 L113.6 255.7 L113.9 255.9 L114.1 256.1 L114.3 256.3 L114.5 256.5 L114.8 256.7 L115 256.9 L115.2 257 L115.4 257.2 L115.7 257.4 L115.9 257.5 L116.1 257.6 L116.3 257.7 L116.6 257.7 L116.8 257.8 L117 257.8 L117.2 257.8 L117.5 257.8 L117.7 257.9 L117.9 257.9 L118.1 258 L118.4 258 L118.6 258.1 L118.8 258.2 L119 258.4 L119.3 258.5 L119.5 258.7 L119.7 258.9 L119.9 259.1 L120.2 259.3 L120.4 259.5 L120.6 259.7 L120.8 259.8 L121.1 260 L121.3 260.1 L121.5 260.2 L121.7 260.3 L122 260.4 L122.2 260.4 L122.4 260.5 L122.6 260.5 L122.9 260.5 L123.1 260.5 L123.3 260.6 L123.5 260.6 L123.8 260.7 L124 260.7 L124.2 260.8 L124.4 261 L124.7 261.1 L124.9 261.3 L125.1 261.5 L125.3 261.7 L125.5 261.9 L125.8 262.1 L126 262.2 L126.2 262.4 L126.4 262.6 L126.7 262.7 L126.9 262.8 L127.1 262.9 L127.3 263 L127.6 263.1 L127.8 263.1 L128 263.1 L128.2 263.2 L128.5 263.2 L128.7 263.2 L128.9 263.3 L129.1 263.3 L129.4 263.4 L129.6 263.5 L129.8 263.6 L130 263.7 L130.3 263.9 L130.5 264.1 L130.7 264.2 L130.9 264.4 L131.2 264.6 L131.4 264.8 L131.6 265 L131.8 265.2 L132.1 265.3 L132.3 265.5 L132.5 265.6 L132.7 265.6 L133 265.7 L133.2 265.8 L133.4 265.8 L133.6 265.8 L133.9 265.8 L134.1 265.9 L134.3 265.9 L134.5 265.9 L134.8 266 L135 266.1 L135.2 266.2 L135.4 266.3 L135.7 266.5 L135.9 266.6 L136.1 266.8 L136.3 267 L136.6 267.2 L136.8 267.4 L137 267.6 L137.2 267.8 L137.5 267.9 L137.7 268.1 L137.9 268.2 L138.1 268.3 L138.4 268.3 L138.6 268.4 L138.8 268.4 L139 268.4 L139.3 268.5 L139.5 268.5 L139.7 268.5 L139.9 268.6 L140.2 268.6 L140.4 268.7 L140.6 268.8 L140.8 268.9 L141.1 269 L141.3 269.2 L141.5 269.4 L141.7 269.6 L142 269.8 L142.2 269.9 L142.4 270.1 L142.6 270.3 L142.9 270.5 L143.1 270.6 L143.3 270.8 L143.5 270.9 L143.8 270.9 L144 271 L144.2 271 L144.4 271.1 L144.7 271.1 L144.9 271.1 L145.1 271.1 L145.3 271.2 L145.6 271.2 L145.8 271.3 L146 271.4 L146.2 271.5 L146.5 271.6 L146.7 271.7 L146.9 271.9 L147.1 272.1 L147.4 272.3 L147.6 272.5 L147.8 272.7 L148 272.9 L148.3 273 L148.5 273.2 L148.7 273.3 L148.9 273.4 L149.2 273.5 L149.4 273.6 L149.6 273.6 L149.8 273.7 L150.1 273.7 L150.3 273.7 L150.5 273.7 L150.7 273.8 L151 273.8 L151.2 273.9 L151.4 273.9 L151.6 274 L151.9 274.1 L152.1 274.3 L152.3 274.5 L152.5 274.6 L152.8 274.8 L153 275 L153.2 275.2 L153.4 275.4 L153.7 275.6 L153.9 275.7 L154.1 275.9 L154.3 276 L154.5 276.1 L154.8 276.2 L155 276.2 L155.2 276.3 L155.4 276.3 L155.7 276.3 L155.9 276.3 L156.1 276.3 L156.3 276.4 L156.6 276.4 L156.8 276.5 L157 276.6 L157.2 276.7 L157.5 276.8 L157.7 277 L157.9 277.1 L158.1 277.3 L158.4 277.5 L158.6 277.7 L158.8 277.9 L159 278.1 L159.3 278.3 L159.5 278.4 L159.7 278.5 L159.9 278.6 L160.2 278.7 L160.4 278.8 L160.6 278.8 L160.8 278.9 L161.1 278.9 L161.3 278.9 L161.5 278.9 L161.7 278.9 L162 279 L162.2 279 L162.4 279.1 L162.6 279.2 L162.9 279.3 L163.1 279.5 L163.3 279.6 L163.5 279.8 L163.8 280 L164 280.2 L164.2 280.4 L164.4 280.6 L164.7 280.8 L164.9 280.9 L165.1 281 L165.3 281.2 L165.6 281.3 L165.8 281.3 L166 281.4 L166.2 281.4 L166.5 281.4 L166.7 281.5 L166.9 281.5 L167.1 281.5 L167.4 281.5 L167.6 281.6 L167.8 281.6 L168 281.7 L168.3 281.8 L168.5 282 L168.7 282.1 L168.9 282.3 L169.2 282.5 L169.4 282.7 L169.6 282.9 L169.8 283.1 L170.1 283.2 L170.3 283.4 L170.5 283.5 L170.7 283.7 L171 283.8 L171.2 283.8 L171.4 283.9 L171.6 283.9 L171.9 284 L172.1 284 L172.3 284 L172.5 284 L172.8 284 L173 284.1 L173.2 284.1 L173.4 284.2 L173.7 284.3 L173.9 284.4 L174.1 284.6 L174.3 284.8 L174.6 284.9 L174.8 285.1 L175 285.3 L175.2 285.5 L175.5 285.7 L175.7 285.9 L175.9 286 L176.1 286.1 L176.4 286.2 L176.6 286.3 L176.8 286.4 L177 286.4 L177.3 286.5 L177.5 286.5 L177.7 286.5 L177.9 286.5 L178.2 286.5 L178.4 286.6 L178.6 286.6 L178.8 286.7 L179.1 286.8 L179.3 286.9 L179.5 287 L179.7 287.2 L180 287.4 L180.2 287.6 L180.4 287.7 L180.6 287.9 L180.9 288.1 L181.1 288.3 L181.3 288.4 L181.5 288.6 L181.8 288.7 L182 288.8 L182.2 288.9 L182.4 288.9 L182.7 289 L182.9 289 L183.1 289 L183.3 289 L183.5 289 L183.8 289.1 L184 289.1 L184.2 289.2 L184.4 289.2 L184.7 289.4 L184.9 289.5 L185.1 289.6 L185.3 289.8 L185.6 290 L185.8 290.2 L186 290.3 L186.2 290.5 L186.5 290.7 L186.7 290.9 L186.9 291 L187.1 291.2 L187.4 291.3 L187.6 291.3 L187.8 291.4 L188 291.4 L188.3 291.5 L188.5 291.5 L188.7 291.5 L188.9 291.5 L189.2 291.5 L189.4 291.6 L189.6 291.6 L189.8 291.7 L190.1 291.8 L190.3 291.9 L190.5 292 L190.7 292.2 L191 292.4 L191.2 292.6 L191.4 292.7 L191.6 292.9 L191.9 293.1 L192.1 293.3 L192.3 293.4 L192.5 293.6 L192.8 293.7 L193 293.8 L193.2 293.9 L193.4 293.9 L193.7 293.9 L193.9 294 L194.1 294 L194.3 294 L194.6 294 L194.8 294 L195 294.1 L195.2 294.1 L195.5 294.2 L195.7 294.3 L195.9 294.4 L196.1 294.6 L196.4 294.8 L196.6 294.9 L196.8 295.1 L197 295.3 L197.3 295.5 L197.5 295.7 L197.7 295.8 L197.9 296 L198.2 296.1 L198.4 296.2 L198.6 296.3 L198.8 296.3 L199.1 296.4 L199.3 296.4 L199.5 296.4 L199.7 296.4 L200 296.5 L200.2 296.5 L200.4 296.5 L200.6 296.6 L200.9 296.6 L201.1 296.7 L201.3 296.9 L201.5 297 L201.8 297.2 L202 297.3 L202.2 297.5 L202.4 297.7 L202.7 297.9 L202.9 298.1 L203.1 298.2 L203.3 298.4 L203.6 298.5 L203.8 298.6 L204 298.7 L204.2 298.8 L204.5 298.8 L204.7 298.9 L204.9 298.9 L205.1 298.9 L205.4 298.9 L205.6 298.9 L205.8 298.9 L206 299 L206.3 299.1 L206.5 299.1 L206.7 299.3 L206.9 299.4 L207.2 299.5 L207.4 299.7 L207.6 299.9 L207.8 300.1 L208.1 300.3 L208.3 300.4 L208.5 300.6 L208.7 300.8 L209 300.9 L209.2 301 L209.4 301.1 L209.6 301.2 L209.9 301.3 L210.1 301.3 L210.3 301.3 L210.5 301.3 L210.8 301.3 L211 301.4 L211.2 301.4 L211.4 301.4 L211.6 301.5 L211.9 301.6 L212.1 301.6 L212.3 301.8 L212.5 301.9 L212.8 302.1 L213 302.2 L213.2 302.4 L213.4 302.6 L213.7 302.8 L213.9 303 L214.1 303.2 L214.3 303.3 L214.6 303.4 L214.8 303.5 L215 303.6 L215.2 303.7 L215.5 303.7 L215.7 303.7 L215.9 303.8 L216.1 303.8 L216.4 303.8 L216.6 303.8 L216.8 303.8 L217 303.9 L217.3 303.9 L217.5 304 L217.7 304.1 L217.9 304.3 L218.2 304.4 L218.4 304.6 L218.6 304.8 L218.8 305 L219.1 305.2 L219.3 305.3 L219.5 305.5 L219.7 305.7 L220 305.8 L220.2 305.9 L220.4 306 L220.6 306.1 L220.9 306.1 L221.1 306.2 L221.3 306.2 L221.5 306.2 L221.8 306.2 L222 306.2 L222.2 306.2 L222.4 306.3 L222.7 306.3 L222.9 306.4 L223.1 306.5 L223.3 306.6 L223.6 306.8 L223.8 306.9 L224 307.1 L224.2 307.3 L224.5 307.5 L224.7 307.7 L224.9 307.9 L225.1 308 L225.4 308.2 L225.6 308.3 L225.8 308.4 L226 308.5 L226.3 308.5 L226.5 308.6 L226.7 308.6 L226.9 308.6 L227.2 308.6 L227.4 308.6 L227.6 308.6 L227.8 308.7 L228.1 308.7 L228.3 308.8 L228.5 308.9 L228.7 309 L229 309.1 L229.2 309.3 L229.4 309.4 L229.6 309.6 L229.9 309.8 L230.1 310 L230.3 310.2 L230.5 310.3 L230.8 310.5 L231 310.6 L231.2 310.7 L231.4 310.8 L231.7 310.9 L231.9 310.9 L232.1 311 L232.3 311 L232.6 311 L232.8 311 L233 311 L233.2 311 L233.5 311.1 L233.7 311.1 L233.9 311.2 L234.1 311.3 L234.4 311.5 L234.6 311.6 L234.8 311.8 L235 311.9 L235.3 312.1 L235.5 312.3 L235.7 312.5 L235.9 312.7 L236.2 312.8 L236.4 313" fill="none" stroke="#000000" stroke-width="1.2" stroke-linejoin="round"/>
<clipPath id="c4"><rect x="340.6" y="216.1" width="183.7" height="129.3"/></clipPath>
<path d="M340.6 216.1H524.3V345.4H340.6ZM340.6 345.4v-2.59M340.6 216.1v2.59M343.66 345.4v-1.29M343.66 216.1v1.29M346.72 345.4v-1.29M346.72 216.1v1.29M349.79 345.4v-1.29M349.79 216.1v1.29M352.85 345.4v-1.29M352.85 216.1v1.29M355.91 345.4v-1.29M355.91 216.1v1.29M358.97 345.4v-1.29M358.97 216.1v1.29M362.03 345.4v-1.29M362.03 216.1v1.29M365.1 345.4v-1.29M365.1 216.1v1.29M368.16 345.4v-1.29M368.16 216.1v1.29M371.22 345.4v-2.59M371.22 216.1v2.59M374.28 345.4v-1.29M374.28 216.1v1.29M377.34 345.4v-1.29M377.34 216.1v1.29M380.41 345.4v-1.29M380.41 216.1v1.29M383.47 345.4v-1.29M383.47 216.1v1.29M386.53 345.4v-1.29M386.53 216.1v1.29M389.59 345.4v-1.29M389.59 216.1v1.29M392.65 345.4v-1.29M392.65 216.1v1.29M395.72 345.4v-1.29M395.72 216.1v1.29M398.78 345.4v-1.29M398.78 216.1v1.29M401.84 345.4v-2.59M401.84 216.1v2.59M404.9 345.4v-1.29M404.9 216.1v1.29M407.96 345.4v-1.29M407.96 216.1v1.29M411.03 345.4v-1.29M411.03 216.1v1.29M414.09 345.4v-1.29M414.09 216.1v1.29M417.15 345.4v-1.29M417.15 216.1v1.29M420.21 345.4v-1.29M420.21 216.1v1.29M423.27 345.4v-1.29M423.27 216.1v1.29M426.34 345.4v-1.29M426.34 216.1v1.29M429.4 345.4v-1.29M429.4 216.1v1.29M432.46 345.4v-2.59M432.46 216.1v2.59M435.52 345.4v-1.29M435.52 216.1v1.29M438.58 345.4v-1.29M438.58 216.1v1.29M441.65 345.4v-1.29M441.65 216.1v1.29M444.71 345.4v-1.29M444.71 216.1v1.29M447.77 345.4v-1.29M447.77 216.1v1.29M450.83 345.4v-1.29M450.83 216.1v1.29M453.89 345.4v-1.29M453.89 216.1v1.29M456.96 345.4v-1.29M456.96 216.1v1.29M460.02 345.4v-1.29M460.02 216.1v1.29M463.08 345.4v-2.59M463.08 216.1v2.59M466.14 345.4v-1.29M466.14 216.1v1.29M469.2 345.4v-1.29M469.2 216.1v1.29M472.27 345.4v-1.29M472.27 216.1v1.29M475.33 345.4v-1.29M475.33 216.1v1.29M478.39 345.4v-1.29M478.39 216.1v1.29M481.45 345.4v-1.29M481.45 216.1v1.29M484.51 345.4v-1.29M484.51 216.1v1.29M487.58 345.4v-1.29M487.58 216.1v1.29M490.64 345.4v-1.29M490.64 216.1v1.29M493.7 345.4v-2.59M493.7 216.1v2.59M496.76 345.4v-1.29M496.76 216.1v1.29M499.82 345.4v-1.29M499.82 216.1v1.29M502.89 345.4v-1.29M502.89 216.1v1.29M505.95 345.4v-1.29M505.95 216.1v1.29M509.01 345.4v-1.29M509.01 216.1v1.29M512.07 345.4v-1.29M512.07 216.1v1.29M515.13 345.4v-1.29M515.13 216.1v1.29M518.2 345.4v-1.29M518.2 216.1v1.29M521.26 345.4v-1.29M521.26 216.1v1.29M340.6 345.4h3.67M524.3 345.4h-3.67M340.6 334.62h1.84M524.3 334.62h-1.84M340.6 323.85h1.84M524.3 323.85h-1.84M340.6 313.08h1.84M524.3 313.08h-1.84M340.6 302.3h3.67M524.3 302.3h-3.67M340.6 291.53h1.84M524.3 291.53h-1.84M340.6 280.75h1.84M524.3 280.75h-1.84M340.6 269.98h1.84M524.3 269.98h-1.84M340.6 259.2h3.67M524.3 259.2h-3.67M340.6 248.43h1.84M524.3 248.43h-1.84M340.6 237.65h1.84M524.3 237.65h-1.84M340.6 226.88h1.84M524.3 226.88h-1.84M340.6 216.1h3.67M524.3 216.1h-3.67" fill="none" stroke="#3a3a3a" stroke-width="0.8"/>
<path d="M340.6 259.2 L340.8 259.2 L341 259.2 L341.3 259.2 L341.5 259.2 L341.7 259.3 L341.9 259.3 L342.1 259.4 L342.4 259.5 L342.6 259.6 L342.8 259.7 L343 259.9 L343.2 260.1 L343.5 260.3 L343.7 260.5 L343.9 260.8 L344.1 261.1 L344.3 261.4 L344.6 261.6 L344.8 261.8 L345 261.8 L345.2 261.6 L345.4 261.2 L345.6 260.6 L345.9 259.8 L346.1 258.9 L346.3 257.8 L346.5 256.7 L346.7 255.7 L347 254.9 L347.2 254.4 L347.4 254.2 L347.6 254.4 L347.8 254.9 L348.1 255.7 L348.3 256.7 L348.5 257.9 L348.7 259.3 L348.9 260.7 L349.2 262 L349.4 263.2 L349.6 264.2 L349.8 264.9 L350 265.2 L350.3 265.1 L350.5 264.7 L350.7 263.9 L350.9 262.8 L351.1 261.4 L351.4 259.9 L351.6 258.4 L351.8 256.8 L352 255.5 L352.2 254.3 L352.5 253.5 L352.7 253.1 L352.9 253.1 L353.1 253.5 L353.3 254.2 L353.6 255.3 L353.8 256.7 L354 258.3 L354.2 260 L354.4 261.6 L354.7 263.1 L354.9 264.5 L355.1 265.5 L355.3 266.2 L355.5 266.5 L355.7 266.4 L356 265.9 L356.2 265.1 L356.4 263.9 L356.6 262.5 L356.8 261 L357.1 259.5 L357.3 258 L357.5 256.7 L357.7 255.6 L357.9 254.9 L358.2 254.5 L358.4 254.5 L358.6 254.9 L358.8 255.7 L359 256.8 L359.3 258.2 L359.5 259.7 L359.7 261.3 L359.9 262.9 L360.1 264.4 L360.4 265.7 L360.6 266.7 L360.8 267.3 L361 267.6 L361.2 267.5 L361.5 267 L361.7 266.1 L361.9 265 L362.1 263.7 L362.3 262.2 L362.6 260.8 L362.8 259.3 L363 258.1 L363.2 257.1 L363.4 256.4 L363.7 256.1 L363.9 256.1 L364.1 256.5 L364.3 257.3 L364.5 258.4 L364.7 259.7 L365 261.2 L365.2 262.7 L365.4 264.3 L365.6 265.7 L365.8 266.9 L366.1 267.9 L366.3 268.5 L366.5 268.8 L366.7 268.7 L366.9 268.2 L367.2 267.4 L367.4 266.4 L367.6 265.1 L367.8 263.7 L368 262.3 L368.3 261 L368.5 259.8 L368.7 258.9 L368.9 258.2 L369.1 257.9 L369.4 258 L369.6 258.4 L369.8 259.1 L370 260.2 L370.2 261.5 L370.5 263 L370.7 264.5 L370.9 266 L371.1 267.4 L371.3 268.6 L371.6 269.6 L371.8 270.2 L372 270.4 L372.2 270.3 L372.4 269.9 L372.7 269.1 L372.9 268.1 L373.1 266.8 L373.3 265.4 L373.5 264 L373.7 262.7 L374 261.6 L374.2 260.6 L374.4 260 L374.6 259.7 L374.8 259.7 L375.1 260.2 L375.3 260.9 L375.5 262 L375.7 263.3 L375.9 264.8 L376.2 266.3 L376.4 267.8 L376.6 269.2 L376.8 270.4 L377 271.3 L377.3 271.9 L377.5 272.2 L377.7 272.1 L377.9 271.6 L378.1 270.8 L378.4 269.8 L378.6 268.5 L378.8 267.2 L379 265.8 L379.2 264.5 L379.5 263.3 L379.7 262.4 L379.9 261.8 L380.1 261.5 L380.3 261.6 L380.6 262 L380.8 262.8 L381 263.9 L381.2 265.2 L381.4 266.7 L381.7 268.3 L381.9 269.8 L382.1 271.2 L382.3 272.4 L382.5 273.4 L382.8 274 L383 274.2 L383.2 274.1 L383.4 273.7 L383.6 272.9 L383.8 271.9 L384.1 270.6 L384.3 269.3 L384.5 267.9 L384.7 266.6 L384.9 265.5 L385.2 264.6 L385.4 264 L385.6 263.8 L385.8 263.9 L386 264.4 L386.3 265.2 L386.5 266.3 L386.7 267.7 L386.9 269.2 L387.1 270.7 L387.4 272.3 L387.6 273.7 L387.8 274.9 L388 275.8 L388.2 276.5 L388.5 276.7 L388.7 276.6 L388.9 276.2 L389.1 275.4 L389.3 274.3 L389.6 273.1 L389.8 271.8 L390 270.4 L390.2 269.1 L390.4 268 L390.7 267.1 L390.9 266.6 L391.1 266.3 L391.3 266.5 L391.5 267 L391.8 267.8 L392 268.9 L392.2 270.3 L392.4 271.8 L392.6 273.3 L392.8 274.9 L393.1 276.3 L393.3 277.5 L393.5 278.4 L393.7 279 L393.9 279.3 L394.2 279.2 L394.4 278.7 L394.6 277.9 L394.8 276.9 L395 275.6 L395.3 274.3 L395.5 272.9 L395.7 271.7 L395.9 270.5 L396.1 269.7 L396.4 269.1 L396.6 268.9 L396.8 269 L397 269.5 L397.2 270.4 L397.5 271.5 L397.7 272.9 L397.9 274.4 L398.1 275.9 L398.3 277.5 L398.6 278.9 L398.8 280.1 L399 281 L399.2 281.6 L399.4 281.8 L399.7 281.7 L399.9 281.2 L400.1 280.4 L400.3 279.3 L400.5 278.1 L400.8 276.8 L401 275.4 L401.2 274.1 L401.4 273 L401.6 272.2 L401.8 271.6 L402.1 271.4 L402.3 271.6 L402.5 272.1 L402.7 272.9 L402.9 274.1 L403.2 275.4 L403.4 276.9 L403.6 278.5 L403.8 280 L404 281.4 L404.3 282.6 L404.5 283.5 L404.7 284.1 L404.9 284.3 L405.1 284.2 L405.4 283.7 L405.6 282.9 L405.8 281.8 L406 280.6 L406.2 279.2 L406.5 277.9 L406.7 276.6 L406.9 275.5 L407.1 274.7 L407.3 274.2 L407.6 274 L407.8 274.1 L408 274.7 L408.2 275.6 L408.4 276.7 L408.7 278.1 L408.9 279.6 L409.1 281.2 L409.3 282.7 L409.5 284.1 L409.8 285.3 L410 286.2 L410.2 286.7 L410.4 287 L410.6 286.8 L410.9 286.3 L411.1 285.5 L411.3 284.5 L411.5 283.2 L411.7 281.9 L411.9 280.6 L412.2 279.3 L412.4 278.3 L412.6 277.5 L412.8 276.9 L413 276.8 L413.3 277 L413.5 277.5 L413.7 278.4 L413.9 279.6 L414.1 280.9 L414.4 282.4 L414.6 284 L414.8 285.4 L415 286.8 L415.2 287.9 L415.5 288.8 L415.7 289.4 L415.9 289.6 L416.1 289.4 L416.3 288.9 L416.6 288.1 L416.8 287.1 L417 285.9 L417.2 284.7 L417.4 283.4 L417.7 282.2 L417.9 281.2 L418.1 280.5 L418.3 280 L418.5 279.9 L418.8 280.1 L419 280.7 L419.2 281.5 L419.4 282.6 L419.6 283.9 L419.9 285.4 L420.1 286.9 L420.3 288.3 L420.5 289.6 L420.7 290.7 L420.9 291.5 L421.2 292 L421.4 292.2 L421.6 292 L421.8 291.6 L422 290.8 L422.3 289.9 L422.5 288.8 L422.7 287.6 L422.9 286.4 L423.1 285.3 L423.4 284.4 L423.6 283.7 L423.8 283.3 L424 283.2 L424.2 283.5 L424.5 284 L424.7 284.9 L424.9 285.9 L425.1 287.2 L425.3 288.6 L425.6 290 L425.8 291.3 L426 292.5 L426.2 293.6 L426.4 294.4 L426.7 294.9 L426.9 295 L427.1 294.9 L427.3 294.5 L427.5 293.8 L427.8 292.9 L428 291.9 L428.2 290.8 L428.4 289.7 L428.6 288.7 L428.9 287.9 L429.1 287.3 L429.3 286.9 L429.5 286.8 L429.7 287.1 L429.9 287.6 L430.2 288.4 L430.4 289.5 L430.6 290.7 L430.8 292 L431 293.3 L431.3 294.6 L431.5 295.8 L431.7 296.8 L431.9 297.6 L432.1 298 L432.4 298.2 L432.6 298.1 L432.8 297.7 L433 297.1 L433.2 296.2 L433.5 295.3 L433.7 294.2 L433.9 293.2 L434.1 292.3 L434.3 291.5 L434.6 290.9 L434.8 290.6 L435 290.6 L435.2 290.8 L435.4 291.4 L435.7 292.2 L435.9 293.2 L436.1 294.4 L436.3 295.6 L436.5 297 L436.8 298.2 L437 299.4 L437.2 300.3 L437.4 301 L437.6 301.5 L437.9 301.7 L438.1 301.6 L438.3 301.2 L438.5 300.6 L438.7 299.8 L439 298.9 L439.2 297.9 L439.4 296.9 L439.6 296 L439.8 295.3 L440 294.7 L440.3 294.4 L440.5 294.4 L440.7 294.7 L440.9 295.2 L441.1 296 L441.4 297 L441.6 298.2 L441.8 299.4 L442 300.7 L442.2 301.9 L442.5 303 L442.7 303.9 L442.9 304.6 L443.1 305.1 L443.3 305.2 L443.6 305.1 L443.8 304.7 L444 304.1 L444.2 303.4 L444.4 302.5 L444.7 301.5 L444.9 300.6 L445.1 299.7 L445.3 299 L445.5 298.5 L445.8 298.2 L446 298.2 L446.2 298.4 L446.4 298.9 L446.6 299.7 L446.9 300.7 L447.1 301.8 L447.3 303 L447.5 304.2 L447.7 305.4 L448 306.5 L448.2 307.3 L448.4 308 L448.6 308.4 L448.8 308.6 L449 308.5 L449.3 308.1 L449.5 307.5 L449.7 306.8 L449.9 305.9 L450.1 305 L450.4 304 L450.6 303.2 L450.8 302.5 L451 302 L451.2 301.8 L451.5 301.8 L451.7 302 L451.9 302.5 L452.1 303.3 L452.3 304.2 L452.6 305.3 L452.8 306.5 L453 307.7 L453.2 308.8 L453.4 309.8 L453.7 310.7 L453.9 311.3 L454.1 311.7 L454.3 311.9 L454.5 311.8 L454.8 311.4 L455 310.8 L455.2 310.1 L455.4 309.2 L455.6 308.3 L455.9 307.4 L456.1 306.6 L456.3 306 L456.5 305.5 L456.7 305.3 L457 305.3 L457.2 305.5 L457.4 306 L457.6 306.8 L457.8 307.7 L458 308.8 L458.3 309.9 L458.5 311.1 L458.7 312.2 L458.9 313.2 L459.1 314 L459.4 314.6 L459.6 315 L459.8 315.1 L460 315 L460.2 314.6 L460.5 314.1 L460.7 313.4 L460.9 312.5 L461.1 311.6 L461.3 310.8 L461.6 310 L461.8 309.4 L462 308.9 L462.2 308.7 L462.4 308.7 L462.7 309 L462.9 309.5 L463.1 310.2 L463.3 311.1 L463.5 312.2 L463.8 313.3 L464 314.4 L464.2 315.5 L464.4 316.4 L464.6 317.2 L464.9 317.8 L465.1 318.2 L465.3 318.3 L465.5 318.2 L465.7 317.8 L466 317.3 L466.2 316.6 L466.4 315.8 L466.6 314.9 L466.8 314.1 L467.1 313.3 L467.3 312.7 L467.5 312.3 L467.7 312.1 L467.9 312.1 L468.1 312.4 L468.4 312.9 L468.6 313.6 L468.8 314.5 L469 315.5 L469.2 316.6 L469.5 317.7 L469.7 318.7 L469.9 319.7 L470.1 320.5 L470.3 321 L470.6 321.4 L470.8 321.5 L471 321.4 L471.2 321 L471.4 320.5 L471.7 319.8 L471.9 319 L472.1 318.2 L472.3 317.4 L472.5 316.6 L472.8 316 L473 315.6 L473.2 315.4 L473.4 315.4 L473.6 315.7 L473.9 316.2 L474.1 316.9 L474.3 317.8 L474.5 318.8 L474.7 319.9 L475 321 L475.2 322 L475.4 322.9 L475.6 323.7 L475.8 324.2 L476.1 324.6 L476.3 324.7 L476.5 324.5 L476.7 324.2 L476.9 323.7 L477.1 323 L477.4 322.2 L477.6 321.4 L477.8 320.6 L478 319.9 L478.2 319.3 L478.5 318.9 L478.7 318.7 L478.9 318.8 L479.1 319 L479.3 319.5 L479.6 320.2 L479.8 321.1 L480 322.1 L480.2 323.2 L480.4 324.2 L480.7 325.2 L480.9 326.1 L481.1 326.8 L481.3 327.4 L481.5 327.7 L481.8 327.8 L482 327.7 L482.2 327.3 L482.4 326.8 L482.6 326.1 L482.9 325.4 L483.1 324.6 L483.3 323.8 L483.5 323.1 L483.7 322.6 L484 322.2 L484.2 322 L484.4 322 L484.6 322.3 L484.8 322.8 L485.1 323.5 L485.3 324.4 L485.5 325.3 L485.7 326.4 L485.9 327.4 L486.1 328.4 L486.4 329.3 L486.6 330 L486.8 330.5 L487 330.8 L487.2 330.9 L487.5 330.8 L487.7 330.4 L487.9 329.9 L488.1 329.2 L488.3 328.5 L488.6 327.7 L488.8 327 L489 326.3 L489.2 325.7 L489.4 325.4 L489.7 325.2 L489.9 325.3 L490.1 325.6 L490.3 326 L490.5 326.7 L490.8 327.6 L491 328.5 L491.2 329.5 L491.4 330.6 L491.6 331.5 L491.9 332.4 L492.1 333.1 L492.3 333.6 L492.5 333.9 L492.7 334 L493 333.8 L493.2 333.5 L493.4 333 L493.6 332.3 L493.8 331.6 L494.1 330.8 L494.3 330.1 L494.5 329.4 L494.7 328.9 L494.9 328.5 L495.2 328.4 L495.4 328.4 L495.6 328.7 L495.8 329.2 L496 329.9 L496.2 330.7 L496.5 331.7 L496.7 332.7 L496.9 333.7 L497.1 334.6 L497.3 335.4 L497.6 336.1 L497.8 336.6 L498 336.9 L498.2 337 L498.4 336.8 L498.7 336.5 L498.9 336 L499.1 335.3 L499.3 334.6 L499.5 333.8 L499.8 333.1 L500 332.5 L500.2 331.9 L500.4 331.6 L500.6 331.4 L500.9 331.5 L501.1 331.8 L501.3 332.3 L501.5 333 L501.7 333.8 L502 334.7 L502.2 335.7 L502.4 336.7 L502.6 337.6 L502.8 338.4 L503.1 339.1 L503.3 339.6 L503.5 339.8 L503.7 339.9 L503.9 339.7 L504.2 339.4 L504.4 338.9 L504.6 338.2 L504.8 337.5 L505 336.8" fill="none" stroke="#1010ff" stroke-width="1.0" stroke-linejoin="round"/>
<path d="M340.6 259.2 L340.8 259.2 L341 259.2 L341.3 259.2 L341.5 259.2 L341.7 259.3 L341.9 259.3 L342.2 259.4 L342.4 259.5 L342.6 259.6 L342.8 259.8 L343.1 259.9 L343.3 260.1 L343.5 260.3 L343.7 260.5 L343.9 260.7 L344.2 260.9 L344.4 261 L344.6 261.1 L344.8 261.1 L345.1 260.9 L345.3 260.7 L345.5 260.4 L345.7 260 L346 259.6 L346.2 259.1 L346.4 258.5 L346.6 258 L346.9 257.6 L347.1 257.4 L347.3 257.3 L347.5 257.3 L347.7 257.5 L348 257.9 L348.2 258.3 L348.4 258.8 L348.6 259.4 L348.9 259.9 L349.1 260.4 L349.3 260.8 L349.5 261.1 L349.8 261.3 L350 261.4 L350.2 261.5 L350.4 261.4 L350.6 261.3 L350.9 261.1 L351.1 260.9 L351.3 260.6 L351.5 260.4 L351.8 260.2 L352 260.1 L352.2 260 L352.4 260 L352.7 260.1 L352.9 260.2 L353.1 260.4 L353.3 260.7 L353.6 260.9 L353.8 261.2 L354 261.5 L354.2 261.8 L354.4 262.1 L354.7 262.3 L354.9 262.5 L355.1 262.7 L355.3 262.8 L355.6 262.9 L355.8 262.9 L356 262.9 L356.2 262.9 L356.5 262.8 L356.7 262.7 L356.9 262.6 L357.1 262.5 L357.3 262.4 L357.6 262.3 L357.8 262.2 L358 262.2 L358.2 262.2 L358.5 262.3 L358.7 262.4 L358.9 262.5 L359.1 262.7 L359.4 262.9 L359.6 263.1 L359.8 263.3 L360 263.5 L360.3 263.7 L360.5 263.8 L360.7 264 L360.9 264 L361.1 264.1 L361.4 264.1 L361.6 264 L361.8 263.9 L362 263.8 L362.3 263.7 L362.5 263.5 L362.7 263.4 L362.9 263.3 L363.2 263.2 L363.4 263.1 L363.6 263.1 L363.8 263.1 L364 263.1 L364.3 263.2 L364.5 263.3 L364.7 263.5 L364.9 263.6 L365.2 263.8 L365.4 264 L365.6 264.2 L365.8 264.3 L366.1 264.4 L366.3 264.5 L366.5 264.5 L366.7 264.5 L367 264.5 L367.2 264.4 L367.4 264.2 L367.6 264.1 L367.8 263.9 L368.1 263.8 L368.3 263.6 L368.5 263.5 L368.7 263.4 L369 263.3 L369.2 263.3 L369.4 263.3 L369.6 263.4 L369.9 263.5 L370.1 263.6 L370.3 263.8 L370.5 263.9 L370.7 264.1 L371 264.3 L371.2 264.4 L371.4 264.5 L371.6 264.6 L371.9 264.7 L372.1 264.7 L372.3 264.7 L372.5 264.6 L372.8 264.5 L373 264.4 L373.2 264.2 L373.4 264.1 L373.7 263.9 L373.9 263.8 L374.1 263.7 L374.3 263.6 L374.5 263.5 L374.8 263.5 L375 263.6 L375.2 263.7 L375.4 263.8 L375.7 263.9 L375.9 264.1 L376.1 264.3 L376.3 264.5 L376.6 264.7 L376.8 264.8 L377 264.9 L377.2 265 L377.4 265.1 L377.7 265.1 L377.9 265.1 L378.1 265 L378.3 264.9 L378.6 264.8 L378.8 264.6 L379 264.5 L379.2 264.4 L379.5 264.3 L379.7 264.2 L379.9 264.1 L380.1 264.1 L380.4 264.1 L380.6 264.2 L380.8 264.3 L381 264.5 L381.2 264.6 L381.5 264.8 L381.7 265 L381.9 265.2 L382.1 265.3 L382.4 265.5 L382.6 265.6 L382.8 265.6 L383 265.6 L383.3 265.6 L383.5 265.6 L383.7 265.5 L383.9 265.3 L384.1 265.2 L384.4 265 L384.6 264.9 L384.8 264.7 L385 264.6 L385.3 264.5 L385.5 264.4 L385.7 264.4 L385.9 264.5 L386.2 264.5 L386.4 264.6 L386.6 264.8 L386.8 264.9 L387.1 265.1 L387.3 265.3 L387.5 265.4 L387.7 265.6 L387.9 265.7 L388.2 265.7 L388.4 265.8 L388.6 265.8 L388.8 265.7 L389.1 265.6 L389.3 265.5 L389.5 265.4 L389.7 265.2 L390 265 L390.2 264.9 L390.4 264.8 L390.6 264.7 L390.8 264.6 L391.1 264.5 L391.3 264.5 L391.5 264.6 L391.7 264.7 L392 264.8 L392.2 265 L392.4 265.1 L392.6 265.3 L392.9 265.5 L393.1 265.6 L393.3 265.8 L393.5 265.9 L393.8 266 L394 266 L394.2 266 L394.4 266 L394.6 265.9 L394.9 265.8 L395.1 265.7 L395.3 265.6 L395.5 265.4 L395.8 265.3 L396 265.2 L396.2 265.2 L396.4 265.2 L396.7 265.2 L396.9 265.3 L397.1 265.4 L397.3 265.5 L397.5 265.7 L397.8 265.9 L398 266.1 L398.2 266.3 L398.4 266.5 L398.7 266.7 L398.9 266.8 L399.1 267 L399.3 267 L399.6 267 L399.8 267 L400 267 L400.2 266.9 L400.5 266.7 L400.7 266.6 L400.9 266.5 L401.1 266.3 L401.3 266.2 L401.6 266.1 L401.8 266 L402 266 L402.2 266 L402.5 266 L402.7 266.1 L402.9 266.3 L403.1 266.4 L403.4 266.6 L403.6 266.8 L403.8 266.9 L404 267.1 L404.2 267.2 L404.5 267.3 L404.7 267.4 L404.9 267.4 L405.1 267.4 L405.4 267.3 L405.6 267.2 L405.8 267.1 L406 267 L406.3 266.8 L406.5 266.6 L406.7 266.5 L406.9 266.4 L407.2 266.3 L407.4 266.2 L407.6 266.2 L407.8 266.2 L408 266.3 L408.3 266.4 L408.5 266.5 L408.7 266.7 L408.9 266.8 L409.2 267 L409.4 267.2 L409.6 267.3 L409.8 267.5 L410.1 267.5 L410.3 267.6 L410.5 267.6 L410.7 267.6 L410.9 267.5 L411.2 267.4 L411.4 267.2 L411.6 267.1 L411.8 266.9 L412.1 266.8 L412.3 266.7 L412.5 266.5 L412.7 266.5 L413 266.4 L413.2 266.4 L413.4 266.5 L413.6 266.6 L413.9 266.7 L414.1 266.9 L414.3 267 L414.5 267.2 L414.7 267.4 L415 267.6 L415.2 267.7 L415.4 267.8 L415.6 267.9 L415.9 268 L416.1 268 L416.3 268 L416.5 267.9 L416.8 267.8 L417 267.7 L417.2 267.6 L417.4 267.4 L417.6 267.3 L417.9 267.2 L418.1 267.2 L418.3 267.1 L418.5 267.2 L418.8 267.2 L419 267.3 L419.2 267.5 L419.4 267.6 L419.7 267.8 L419.9 268 L420.1 268.3 L420.3 268.5 L420.6 268.7 L420.8 268.8 L421 269 L421.2 269.1 L421.4 269.1 L421.7 269.1 L421.9 269.1 L422.1 269 L422.3 268.9 L422.6 268.8 L422.8 268.7 L423 268.6 L423.2 268.5 L423.5 268.5 L423.7 268.5 L423.9 268.5 L424.1 268.5 L424.3 268.6 L424.6 268.8 L424.8 269 L425 269.2 L425.2 269.4 L425.5 269.7 L425.7 269.9 L425.9 270.2 L426.1 270.4 L426.4 270.5 L426.6 270.7 L426.8 270.8 L427 270.9 L427.3 270.9 L427.5 270.9 L427.7 270.8 L427.9 270.8 L428.1 270.7 L428.4 270.6 L428.6 270.6 L428.8 270.5 L429 270.5 L429.3 270.5 L429.5 270.5 L429.7 270.6 L429.9 270.8 L430.2 270.9 L430.4 271.1 L430.6 271.3 L430.8 271.6 L431 271.8 L431.3 272 L431.5 272.3 L431.7 272.4 L431.9 272.6 L432.2 272.7 L432.4 272.8 L432.6 272.8 L432.8 272.7 L433.1 272.7 L433.3 272.6 L433.5 272.5 L433.7 272.4 L434 272.3 L434.2 272.1 L434.4 272.1 L434.6 272 L434.8 272 L435.1 272 L435.3 272.1 L435.5 272.2 L435.7 272.3 L436 272.5 L436.2 272.7 L436.4 272.9 L436.6 273.1 L436.9 273.3 L437.1 273.5 L437.3 273.6 L437.5 273.7 L437.7 273.8 L438 273.8 L438.2 273.8 L438.4 273.7 L438.6 273.6 L438.9 273.5 L439.1 273.4 L439.3 273.3 L439.5 273.2 L439.8 273.1 L440 273 L440.2 273 L440.4 273 L440.7 273.1 L440.9 273.2 L441.1 273.4 L441.3 273.6 L441.5 273.8 L441.8 274 L442 274.3 L442.2 274.5 L442.4 274.8 L442.7 275 L442.9 275.2 L443.1 275.3 L443.3 275.4 L443.6 275.5 L443.8 275.6 L444 275.6 L444.2 275.5 L444.4 275.5 L444.7 275.5 L444.9 275.4 L445.1 275.4 L445.3 275.4 L445.6 275.5 L445.8 275.5 L446 275.6 L446.2 275.8 L446.5 276 L446.7 276.2 L446.9 276.5 L447.1 276.8 L447.4 277.1 L447.6 277.4 L447.8 277.6 L448 277.9 L448.2 278.1 L448.5 278.3 L448.7 278.4 L448.9 278.5 L449.1 278.6 L449.4 278.6 L449.6 278.6 L449.8 278.6 L450 278.5 L450.3 278.4 L450.5 278.4 L450.7 278.3 L450.9 278.3 L451.1 278.4 L451.4 278.4 L451.6 278.5 L451.8 278.7 L452 278.8 L452.3 279.1 L452.5 279.3 L452.7 279.6 L452.9 279.8 L453.2 280.1 L453.4 280.3 L453.6 280.5 L453.8 280.7 L454.1 280.9 L454.3 281 L454.5 281.1 L454.7 281.1 L454.9 281.1 L455.2 281 L455.4 281 L455.6 280.9 L455.8 280.9 L456.1 280.8 L456.3 280.8 L456.5 280.8 L456.7 280.8 L457 280.9 L457.2 281 L457.4 281.2 L457.6 281.4 L457.8 281.6 L458.1 281.9 L458.3 282.1 L458.5 282.4 L458.7 282.7 L459 282.9 L459.2 283.1 L459.4 283.3 L459.6 283.5 L459.9 283.5 L460.1 283.6 L460.3 283.6 L460.5 283.6 L460.8 283.6 L461 283.5 L461.2 283.5 L461.4 283.4 L461.6 283.4 L461.9 283.4 L462.1 283.4 L462.3 283.5 L462.5 283.6 L462.8 283.7 L463 283.9 L463.2 284.1 L463.4 284.4 L463.7 284.7 L463.9 284.9 L464.1 285.2 L464.3 285.5 L464.5 285.7 L464.8 285.9 L465 286.1 L465.2 286.3 L465.4 286.4 L465.7 286.4 L465.9 286.4 L466.1 286.4 L466.3 286.4 L466.6 286.4 L466.8 286.3 L467 286.3 L467.2 286.3 L467.5 286.4 L467.7 286.5 L467.9 286.6 L468.1 286.8 L468.3 287 L468.6 287.2 L468.8 287.5 L469 287.8 L469.2 288.1 L469.5 288.4 L469.7 288.8 L469.9 289.1 L470.1 289.3 L470.4 289.6 L470.6 289.7 L470.8 289.9 L471 290 L471.2 290.1 L471.5 290.1 L471.7 290.1 L471.9 290.1 L472.1 290.1 L472.4 290.1 L472.6 290.1 L472.8 290.2 L473 290.2 L473.3 290.3 L473.5 290.5 L473.7 290.6 L473.9 290.9 L474.2 291.1 L474.4 291.4 L474.6 291.7 L474.8 292 L475 292.3 L475.3 292.6 L475.5 292.8 L475.7 293 L475.9 293.2 L476.2 293.4 L476.4 293.5 L476.6 293.5 L476.8 293.6 L477.1 293.6 L477.3 293.5 L477.5 293.5 L477.7 293.5 L477.9 293.4 L478.2 293.4 L478.4 293.5 L478.6 293.5 L478.8 293.6 L479.1 293.8 L479.3 294 L479.5 294.2 L479.7 294.4 L480 294.7 L480.2 295 L480.4 295.3 L480.6 295.6 L480.9 295.9 L481.1 296.1 L481.3 296.4 L481.5 296.5 L481.7 296.7 L482 296.8 L482.2 296.9 L482.4 296.9 L482.6 296.9 L482.9 296.9 L483.1 296.9 L483.3 296.9 L483.5 296.9 L483.8 297 L484 297 L484.2 297.2 L484.4 297.3 L484.6 297.5 L484.9 297.8 L485.1 298 L485.3 298.3 L485.5 298.7 L485.8 299 L486 299.3 L486.2 299.7 L486.4 300 L486.7 300.2 L486.9 300.5 L487.1 300.6 L487.3 300.8 L487.6 300.9 L487.8 301 L488 301 L488.2 301 L488.4 301 L488.7 301 L488.9 301 L489.1 301 L489.3 301.1 L489.6 301.1 L489.8 301.3 L490 301.4 L490.2 301.6 L490.5 301.8 L490.7 302.1 L490.9 302.4 L491.1 302.7 L491.3 303 L491.6 303.3 L491.8 303.6 L492 303.8 L492.2 304 L492.5 304.2 L492.7 304.3 L492.9 304.4 L493.1 304.5 L493.4 304.5 L493.6 304.5 L493.8 304.4 L494 304.4 L494.3 304.4 L494.5 304.4 L494.7 304.4 L494.9 304.4 L495.1 304.5 L495.4 304.6 L495.6 304.8 L495.8 305 L496 305.3 L496.3 305.5 L496.5 305.8 L496.7 306.2 L496.9 306.5 L497.2 306.8 L497.4 307.1 L497.6 307.3 L497.8 307.5 L498 307.7 L498.3 307.9 L498.5 308 L498.7 308 L498.9 308.1 L499.2 308.1 L499.4 308.1 L499.6 308.1 L499.8 308.1 L500.1 308.1 L500.3 308.2 L500.5 308.3 L500.7 308.4 L501 308.6 L501.2 308.8 L501.4 309.1 L501.6 309.4 L501.8 309.7 L502.1 310 L502.3 310.4 L502.5 310.7 L502.7 311 L503 311.3 L503.2 311.6 L503.4 311.8 L503.6 312 L503.9 312.2 L504.1 312.3 L504.3 312.4 L504.5 312.4 L504.7 312.4 L505 312.5 L505.2 312.5 L505.4 312.5 L505.6 312.6" fill="none" stroke="#ff0000" stroke-width="1.1" stroke-linejoin="round" stroke-dasharray="5.8 4.9"/>
<path d="M340.6 259.2 L340.8 259.2 L341 259.2 L341.3 259.2 L341.5 259.2 L341.7 259.3 L341.9 259.3 L342.1 259.4 L342.4 259.5 L342.6 259.6 L342.8 259.7 L343 259.9 L343.2 260.1 L343.5 260.2 L343.7 260.4 L343.9 260.6 L344.1 260.8 L344.3 261 L344.6 261.1 L344.8 261.2 L345 261.1 L345.2 260.9 L345.4 260.6 L345.6 260.2 L345.9 259.7 L346.1 259.1 L346.3 258.4 L346.5 257.8 L346.7 257.2 L347 256.7 L347.2 256.5 L347.4 256.4 L347.6 256.5 L347.8 256.8 L348.1 257.3 L348.3 257.9 L348.5 258.5 L348.7 259.3 L348.9 260 L349.2 260.7 L349.4 261.3 L349.6 261.7 L349.8 262 L350 262.2 L350.3 262.1 L350.5 261.9 L350.7 261.5 L350.9 260.9 L351.1 260.3 L351.4 259.5 L351.6 258.7 L351.8 258 L352 257.3 L352.2 256.8 L352.5 256.4 L352.7 256.1 L352.9 256.1 L353.1 256.2 L353.3 256.6 L353.6 257.1 L353.8 257.8 L354 258.5 L354.2 259.3 L354.4 260.1 L354.7 260.8 L354.9 261.4 L355.1 261.9 L355.3 262.3 L355.5 262.4 L355.7 262.3 L356 262.1 L356.2 261.6 L356.4 261 L356.6 260.3 L356.8 259.5 L357.1 258.7 L357.3 257.9 L357.5 257.2 L357.7 256.6 L357.9 256.2 L358.2 256 L358.4 256 L358.6 256.2 L358.8 256.5 L359 257.1 L359.3 257.7 L359.5 258.5 L359.7 259.3 L359.9 260.1 L360.1 260.9 L360.4 261.5 L360.6 262 L360.8 262.3 L361 262.4 L361.2 262.3 L361.5 262.1 L361.7 261.6 L361.9 261 L362.1 260.3 L362.3 259.5 L362.6 258.7 L362.8 257.9 L363 257.2 L363.2 256.6 L363.4 256.2 L363.7 256 L363.9 256 L364.1 256.2 L364.3 256.5 L364.5 257.1 L364.7 257.8 L365 258.5 L365.2 259.3 L365.4 260.1 L365.6 260.9 L365.8 261.5 L366.1 262 L366.3 262.3 L366.5 262.5 L366.7 262.4 L366.9 262.1 L367.2 261.7 L367.4 261.1 L367.6 260.4 L367.8 259.6 L368 258.8 L368.3 258.1 L368.5 257.4 L368.7 256.9 L368.9 256.5 L369.1 256.4 L369.4 256.4 L369.6 256.6 L369.8 257 L370 257.6 L370.2 258.4 L370.5 259.2 L370.7 260 L370.9 260.8 L371.1 261.6 L371.3 262.3 L371.6 262.8 L371.8 263.2 L372 263.3 L372.2 263.3 L372.4 263 L372.7 262.6 L372.9 262.1 L373.1 261.4 L373.3 260.6 L373.5 259.9 L373.7 259.2 L374 258.6 L374.2 258.1 L374.4 257.7 L374.6 257.6 L374.8 257.6 L375.1 257.9 L375.3 258.3 L375.5 258.9 L375.7 259.6 L375.9 260.4 L376.2 261.3 L376.4 262.1 L376.6 262.9 L376.8 263.6 L377 264.1 L377.3 264.4 L377.5 264.6 L377.7 264.5 L377.9 264.3 L378.1 263.9 L378.4 263.3 L378.6 262.6 L378.8 261.9 L379 261.1 L379.2 260.4 L379.5 259.8 L379.7 259.3 L379.9 259 L380.1 258.8 L380.3 258.9 L380.6 259.2 L380.8 259.6 L381 260.2 L381.2 260.9 L381.4 261.8 L381.7 262.6 L381.9 263.4 L382.1 264.2 L382.3 264.9 L382.5 265.4 L382.8 265.8 L383 265.9 L383.2 265.9 L383.4 265.6 L383.6 265.2 L383.8 264.7 L384.1 264 L384.3 263.3 L384.5 262.5 L384.7 261.8 L384.9 261.2 L385.2 260.8 L385.4 260.5 L385.6 260.3 L385.8 260.4 L386 260.7 L386.3 261.1 L386.5 261.7 L386.7 262.5 L386.9 263.3 L387.1 264.1 L387.4 265 L387.6 265.8 L387.8 266.4 L388 266.9 L388.2 267.3 L388.5 267.4 L388.7 267.4 L388.9 267.1 L389.1 266.7 L389.3 266.2 L389.6 265.5 L389.8 264.8 L390 264.1 L390.2 263.4 L390.4 262.8 L390.7 262.3 L390.9 262 L391.1 261.9 L391.3 261.9 L391.5 262.2 L391.8 262.7 L392 263.3 L392.2 264 L392.4 264.8 L392.6 265.6 L392.8 266.5 L393.1 267.2 L393.3 267.9 L393.5 268.4 L393.7 268.7 L393.9 268.8 L394.2 268.8 L394.4 268.5 L394.6 268.1 L394.8 267.6 L395 266.9 L395.3 266.2 L395.5 265.5 L395.7 264.8 L395.9 264.3 L396.1 263.8 L396.4 263.5 L396.6 263.4 L396.8 263.5 L397 263.8 L397.2 264.3 L397.5 264.9 L397.7 265.7 L397.9 266.5 L398.1 267.4 L398.3 268.2 L398.6 269 L398.8 269.7 L399 270.2 L399.2 270.5 L399.4 270.7 L399.7 270.7 L399.9 270.4 L400.1 270.1 L400.3 269.6 L400.5 268.9 L400.8 268.3 L401 267.6 L401.2 267 L401.4 266.4 L401.6 266 L401.8 265.8 L402.1 265.8 L402.3 265.9 L402.5 266.2 L402.7 266.7 L402.9 267.4 L403.2 268.2 L403.4 269 L403.6 269.9 L403.8 270.8 L404 271.6 L404.3 272.3 L404.5 272.8 L404.7 273.2 L404.9 273.4 L405.1 273.4 L405.4 273.2 L405.6 272.8 L405.8 272.4 L406 271.8 L406.2 271.1 L406.5 270.5 L406.7 269.9 L406.9 269.4 L407.1 269.1 L407.3 268.8 L407.6 268.8 L407.8 269 L408 269.4 L408.2 269.9 L408.4 270.6 L408.7 271.4 L408.9 272.2 L409.1 273.1 L409.3 274 L409.5 274.8 L409.8 275.5 L410 276.1 L410.2 276.5 L410.4 276.7 L410.6 276.7 L410.9 276.5 L411.1 276.2 L411.3 275.7 L411.5 275.1 L411.7 274.5 L411.9 273.9 L412.2 273.4 L412.4 272.9 L412.6 272.5 L412.8 272.4 L413 272.4 L413.3 272.5 L413.5 272.9 L413.7 273.5 L413.9 274.2 L414.1 275 L414.4 275.9 L414.6 276.8 L414.8 277.6 L415 278.5 L415.2 279.2 L415.5 279.7 L415.7 280.1 L415.9 280.3 L416.1 280.3 L416.3 280.1 L416.6 279.8 L416.8 279.3 L417 278.8 L417.2 278.2 L417.4 277.6 L417.7 277 L417.9 276.6 L418.1 276.2 L418.3 276.1 L418.5 276.1 L418.8 276.3 L419 276.6 L419.2 277.2 L419.4 277.9 L419.6 278.7 L419.9 279.6 L420.1 280.5 L420.3 281.4 L420.5 282.2 L420.7 282.9 L420.9 283.4 L421.2 283.8 L421.4 284 L421.6 284 L421.8 283.8 L422 283.5 L422.3 283 L422.5 282.4 L422.7 281.8 L422.9 281.2 L423.1 280.7 L423.4 280.2 L423.6 279.9 L423.8 279.7 L424 279.7 L424.2 279.9 L424.5 280.3 L424.7 280.9 L424.9 281.6 L425.1 282.4 L425.3 283.3 L425.6 284.2 L425.8 285 L426 285.9 L426.2 286.5 L426.4 287.1 L426.7 287.5 L426.9 287.7 L427.1 287.7 L427.3 287.5 L427.5 287.2 L427.8 286.7 L428 286.2 L428.2 285.6 L428.4 285 L428.6 284.5 L428.9 284 L429.1 283.7 L429.3 283.6 L429.5 283.6 L429.7 283.8 L429.9 284.2 L430.2 284.8 L430.4 285.5 L430.6 286.3 L430.8 287.2 L431 288.1 L431.3 289 L431.5 289.8 L431.7 290.5 L431.9 291 L432.1 291.4 L432.4 291.6 L432.6 291.6 L432.8 291.5 L433 291.1 L433.2 290.7 L433.5 290.1 L433.7 289.6 L433.9 289 L434.1 288.5 L434.3 288 L434.6 287.7 L434.8 287.6 L435 287.7 L435.2 287.9 L435.4 288.3 L435.7 288.9 L435.9 289.6 L436.1 290.4 L436.3 291.3 L436.5 292.2 L436.8 293.1 L437 293.9 L437.2 294.6 L437.4 295.1 L437.6 295.5 L437.9 295.7 L438.1 295.7 L438.3 295.5 L438.5 295.2 L438.7 294.7 L439 294.2 L439.2 293.6 L439.4 293.1 L439.6 292.5 L439.8 292.1 L440 291.8 L440.3 291.7 L440.5 291.8 L440.7 292 L440.9 292.4 L441.1 293 L441.4 293.7 L441.6 294.5 L441.8 295.4 L442 296.3 L442.2 297.2 L442.5 298 L442.7 298.6 L442.9 299.2 L443.1 299.5 L443.3 299.7 L443.6 299.7 L443.8 299.5 L444 299.2 L444.2 298.7 L444.4 298.2 L444.7 297.6 L444.9 297 L445.1 296.5 L445.3 296.1 L445.5 295.8 L445.8 295.7 L446 295.7 L446.2 296 L446.4 296.4 L446.6 297 L446.9 297.7 L447.1 298.5 L447.3 299.4 L447.5 300.2 L447.7 301.1 L448 301.9 L448.2 302.5 L448.4 303.1 L448.6 303.4 L448.8 303.6 L449 303.6 L449.3 303.4 L449.5 303 L449.7 302.6 L449.9 302 L450.1 301.5 L450.4 300.9 L450.6 300.4 L450.8 300 L451 299.7 L451.2 299.5 L451.5 299.6 L451.7 299.8 L451.9 300.3 L452.1 300.8 L452.3 301.5 L452.6 302.4 L452.8 303.2 L453 304.1 L453.2 305 L453.4 305.7 L453.7 306.4 L453.9 306.9 L454.1 307.2 L454.3 307.4 L454.5 307.4 L454.8 307.2 L455 306.8 L455.2 306.4 L455.4 305.8 L455.6 305.3 L455.9 304.7 L456.1 304.2 L456.3 303.8 L456.5 303.5 L456.7 303.4 L457 303.4 L457.2 303.7 L457.4 304.1 L457.6 304.7 L457.8 305.4 L458 306.2 L458.3 307.1 L458.5 307.9 L458.7 308.8 L458.9 309.5 L459.1 310.2 L459.4 310.7 L459.6 311 L459.8 311.2 L460 311.1 L460.2 310.9 L460.5 310.6 L460.7 310.1 L460.9 309.6 L461.1 309 L461.3 308.5 L461.6 308 L461.8 307.5 L462 307.3 L462.2 307.2 L462.4 307.2 L462.7 307.5 L462.9 307.9 L463.1 308.5 L463.3 309.2 L463.5 310 L463.8 310.8 L464 311.7 L464.2 312.5 L464.4 313.3 L464.6 313.9 L464.9 314.4 L465.1 314.8 L465.3 314.9 L465.5 314.9 L465.7 314.7 L466 314.3 L466.2 313.8 L466.4 313.3 L466.6 312.7 L466.8 312.2 L467.1 311.7 L467.3 311.3 L467.5 311 L467.7 310.9 L467.9 310.9 L468.1 311.2 L468.4 311.6 L468.6 312.2 L468.8 312.9 L469 313.7 L469.2 314.6 L469.5 315.4 L469.7 316.3 L469.9 317 L470.1 317.6 L470.3 318.1 L470.6 318.4 L470.8 318.6 L471 318.5 L471.2 318.3 L471.4 317.9 L471.7 317.5 L471.9 316.9 L472.1 316.4 L472.3 315.8 L472.5 315.3 L472.8 314.9 L473 314.6 L473.2 314.5 L473.4 314.6 L473.6 314.8 L473.9 315.3 L474.1 315.9 L474.3 316.6 L474.5 317.4 L474.7 318.2 L475 319.1 L475.2 319.9 L475.4 320.6 L475.6 321.3 L475.8 321.7 L476.1 322 L476.3 322.2 L476.5 322.1 L476.7 321.9 L476.9 321.5 L477.1 321.1 L477.4 320.5 L477.6 320 L477.8 319.4 L478 318.9 L478.2 318.5 L478.5 318.3 L478.7 318.2 L478.9 318.2 L479.1 318.5 L479.3 318.9 L479.6 319.5 L479.8 320.2 L480 321 L480.2 321.9 L480.4 322.7 L480.7 323.5 L480.9 324.3 L481.1 324.9 L481.3 325.4 L481.5 325.7 L481.8 325.8 L482 325.7 L482.2 325.5 L482.4 325.1 L482.6 324.7 L482.9 324.1 L483.1 323.5 L483.3 323 L483.5 322.5 L483.7 322.1 L484 321.8 L484.2 321.8 L484.4 321.8 L484.6 322.1 L484.8 322.5 L485.1 323.1 L485.3 323.8 L485.5 324.6 L485.7 325.5 L485.9 326.3 L486.1 327.1 L486.4 327.8 L486.6 328.4 L486.8 328.9 L487 329.2 L487.2 329.3 L487.5 329.2 L487.7 329 L487.9 328.6 L488.1 328.1 L488.3 327.6 L488.6 327 L488.8 326.5 L489 326 L489.2 325.6 L489.4 325.3 L489.7 325.2 L489.9 325.3 L490.1 325.6 L490.3 326 L490.5 326.6 L490.8 327.3 L491 328.1 L491.2 328.9 L491.4 329.8 L491.6 330.6 L491.9 331.3 L492.1 331.9 L492.3 332.3 L492.5 332.6 L492.7 332.7 L493 332.6 L493.2 332.4 L493.4 332 L493.6 331.5 L493.8 331 L494.1 330.4 L494.3 329.8 L494.5 329.3 L494.7 328.9 L494.9 328.7 L495.2 328.6 L495.4 328.7 L495.6 328.9 L495.8 329.3 L496 329.9 L496.2 330.6 L496.5 331.4 L496.7 332.2 L496.9 333.1 L497.1 333.8 L497.3 334.5 L497.6 335.1 L497.8 335.6 L498 335.8 L498.2 335.9 L498.4 335.8 L498.7 335.5 L498.9 335.2 L499.1 334.7 L499.3 334.1 L499.5 333.5 L499.8 333 L500 332.5 L500.2 332.1 L500.4 331.8 L500.6 331.7 L500.9 331.8 L501.1 332 L501.3 332.4 L501.5 333 L501.7 333.7 L502 334.5 L502.2 335.3 L502.4 336.1 L502.6 336.9 L502.8 337.6 L503.1 338.1 L503.3 338.5 L503.5 338.8 L503.7 338.8 L503.9 338.7 L504.2 338.5 L504.4 338.1 L504.6 337.6 L504.8 337 L505 336.4" fill="none" stroke="#000000" stroke-width="1.05" stroke-linejoin="round" stroke-dasharray="1.1 2.6"/>
<path d="M340.6 259.2 L340.8 259.2 L341 259.2 L341.3 259.2 L341.5 259.2 L341.7 259.3 L341.9 259.3 L342.1 259.4 L342.3 259.4 L342.6 259.6 L342.8 259.7 L343 259.9 L343.2 260 L343.4 260.2 L343.6 260.4 L343.9 260.6 L344.1 260.9 L344.3 261.1 L344.5 261.2 L344.7 261.3 L344.9 261.3 L345.2 261.2 L345.4 260.9 L345.6 260.4 L345.8 259.9 L346 259.2 L346.2 258.4 L346.5 257.7 L346.7 257 L346.9 256.4 L347.1 255.9 L347.3 255.8 L347.6 255.8 L347.8 256.1 L348 256.5 L348.2 257.2 L348.4 258 L348.6 258.9 L348.9 259.9 L349.1 260.8 L349.3 261.6 L349.5 262.3 L349.7 262.9 L349.9 263.2 L350.2 263.3 L350.4 263.1 L350.6 262.7 L350.8 262 L351 261.2 L351.2 260.2 L351.5 259.2 L351.7 258.2 L351.9 257.2 L352.1 256.4 L352.3 255.7 L352.6 255.3 L352.8 255.1 L353 255.2 L353.2 255.6 L353.4 256.2 L353.6 257 L353.9 258 L354.1 259.1 L354.3 260.2 L354.5 261.3 L354.7 262.3 L354.9 263.1 L355.2 263.7 L355.4 264.1 L355.6 264.3 L355.8 264.1 L356 263.8 L356.2 263.1 L356.5 262.4 L356.7 261.4 L356.9 260.4 L357.1 259.4 L357.3 258.4 L357.5 257.6 L357.8 256.9 L358 256.5 L358.2 256.3 L358.4 256.3 L358.6 256.6 L358.9 257.2 L359.1 258 L359.3 258.9 L359.5 260 L359.7 261.1 L359.9 262.2 L360.2 263.3 L360.4 264.1 L360.6 264.8 L360.8 265.3 L361 265.5 L361.2 265.4 L361.5 265.1 L361.7 264.6 L361.9 263.8 L362.1 262.9 L362.3 261.9 L362.5 260.9 L362.8 260 L363 259.1 L363.2 258.4 L363.4 257.9 L363.6 257.7 L363.8 257.7 L364.1 258 L364.3 258.5 L364.5 259.3 L364.7 260.2 L364.9 261.3 L365.2 262.5 L365.4 263.6 L365.6 264.7 L365.8 265.7 L366 266.4 L366.2 267 L366.5 267.3 L366.7 267.4 L366.9 267.2 L367.1 266.7 L367.3 266.1 L367.5 265.3 L367.8 264.3 L368 263.4 L368.2 262.5 L368.4 261.6 L368.6 261 L368.8 260.5 L369.1 260.2 L369.3 260.3 L369.5 260.5 L369.7 261.1 L369.9 261.9 L370.1 262.8 L370.4 263.9 L370.6 265.1 L370.8 266.3 L371 267.4 L371.2 268.4 L371.5 269.3 L371.7 269.9 L371.9 270.3 L372.1 270.4 L372.3 270.3 L372.5 269.9 L372.8 269.3 L373 268.5 L373.2 267.6 L373.4 266.6 L373.6 265.7 L373.8 264.8 L374.1 264.1 L374.3 263.6 L374.5 263.3 L374.7 263.2 L374.9 263.4 L375.1 263.9 L375.4 264.6 L375.6 265.5 L375.8 266.6 L376 267.7 L376.2 268.9 L376.5 270.1 L376.7 271.1 L376.9 272 L377.1 272.7 L377.3 273.1 L377.5 273.3 L377.8 273.2 L378 272.9 L378.2 272.3 L378.4 271.5 L378.6 270.7 L378.8 269.7 L379.1 268.7 L379.3 267.8 L379.5 267.1 L379.7 266.5 L379.9 266.1 L380.1 266 L380.4 266.1 L380.6 266.5 L380.8 267.2 L381 268 L381.2 269.1 L381.4 270.2 L381.7 271.4 L381.9 272.5 L382.1 273.6 L382.3 274.5 L382.5 275.2 L382.8 275.7 L383 275.9 L383.2 275.9 L383.4 275.6 L383.6 275.1 L383.8 274.4 L384.1 273.6 L384.3 272.6 L384.5 271.7 L384.7 270.8 L384.9 270 L385.1 269.4 L385.4 269 L385.6 268.9 L385.8 269 L386 269.4 L386.2 270 L386.4 270.8 L386.7 271.8 L386.9 272.9 L387.1 274.1 L387.3 275.2 L387.5 276.3 L387.7 277.3 L388 278 L388.2 278.6 L388.4 278.9 L388.6 278.9 L388.8 278.7 L389.1 278.3 L389.3 277.6 L389.5 276.8 L389.7 275.9 L389.9 275 L390.1 274.1 L390.4 273.4 L390.6 272.7 L390.8 272.3 L391 272.1 L391.2 272.1 L391.4 272.4 L391.7 272.9 L391.9 273.7 L392.1 274.6 L392.3 275.6 L392.5 276.7 L392.7 277.9 L393 278.9 L393.2 279.9 L393.4 280.7 L393.6 281.2 L393.8 281.6 L394 281.7 L394.3 281.5 L394.5 281.1 L394.7 280.5 L394.9 279.8 L395.1 279 L395.4 278.1 L395.6 277.3 L395.8 276.5 L396 275.9 L396.2 275.4 L396.4 275.2 L396.7 275.2 L396.9 275.5 L397.1 276 L397.3 276.7 L397.5 277.6 L397.7 278.7 L398 279.8 L398.2 280.9 L398.4 282 L398.6 283 L398.8 283.9 L399 284.5 L399.3 285 L399.5 285.2 L399.7 285.1 L399.9 284.9 L400.1 284.4 L400.4 283.8 L400.6 283 L400.8 282.3 L401 281.5 L401.2 280.8 L401.4 280.2 L401.7 279.8 L401.9 279.6 L402.1 279.6 L402.3 279.8 L402.5 280.3 L402.7 281 L403 281.8 L403.2 282.8 L403.4 283.9 L403.6 285 L403.8 286.1 L404 287.1 L404.3 288 L404.5 288.7 L404.7 289.2 L404.9 289.5 L405.1 289.5 L405.3 289.3 L405.6 288.9 L405.8 288.3 L406 287.7 L406.2 286.9 L406.4 286.2 L406.7 285.5 L406.9 284.9 L407.1 284.4 L407.3 284.2 L407.5 284.1 L407.7 284.3 L408 284.7 L408.2 285.3 L408.4 286.1 L408.6 287 L408.8 288 L409 289.1 L409.3 290.2 L409.5 291.1 L409.7 292 L409.9 292.7 L410.1 293.2 L410.3 293.5 L410.6 293.5 L410.8 293.4 L411 293.1 L411.2 292.5 L411.4 291.9 L411.6 291.2 L411.9 290.5 L412.1 289.8 L412.3 289.2 L412.5 288.8 L412.7 288.5 L413 288.4 L413.2 288.5 L413.4 288.8 L413.6 289.4 L413.8 290.1 L414 291 L414.3 291.9 L414.5 292.9 L414.7 293.9 L414.9 294.9 L415.1 295.7 L415.3 296.4 L415.6 296.9 L415.8 297.3 L416 297.4 L416.2 297.3 L416.4 297 L416.6 296.6 L416.9 296 L417.1 295.4 L417.3 294.7 L417.5 294 L417.7 293.5 L417.9 293 L418.2 292.7 L418.4 292.6 L418.6 292.7 L418.8 293 L419 293.4 L419.3 294.1 L419.5 294.9 L419.7 295.7 L419.9 296.7 L420.1 297.6 L420.3 298.5 L420.6 299.4 L420.8 300 L421 300.6 L421.2 300.9 L421.4 301.1 L421.6 301.1 L421.9 300.8 L422.1 300.5 L422.3 300 L422.5 299.4 L422.7 298.8 L422.9 298.2 L423.2 297.7 L423.4 297.2 L423.6 296.9 L423.8 296.8 L424 296.8 L424.3 297 L424.5 297.4 L424.7 298 L424.9 298.7 L425.1 299.5 L425.3 300.4 L425.6 301.3 L425.8 302.1 L426 302.9 L426.2 303.6 L426.4 304.1 L426.6 304.5 L426.9 304.7 L427.1 304.7 L427.3 304.6 L427.5 304.2 L427.7 303.8 L427.9 303.3 L428.2 302.7 L428.4 302.2 L428.6 301.7 L428.8 301.2 L429 300.9 L429.2 300.8 L429.5 300.8 L429.7 300.9 L429.9 301.3 L430.1 301.8 L430.3 302.5 L430.6 303.2 L430.8 304.1 L431 304.9 L431.2 305.8 L431.4 306.6 L431.6 307.3 L431.9 307.9 L432.1 308.3 L432.3 308.5 L432.5 308.6 L432.7 308.5 L432.9 308.3 L433.2 308 L433.4 307.5 L433.6 307 L433.8 306.5 L434 306 L434.2 305.6 L434.5 305.3 L434.7 305.1 L434.9 305.1 L435.1 305.3 L435.3 305.6 L435.5 306.1 L435.8 306.7 L436 307.5 L436.2 308.3 L436.4 309.2 L436.6 310 L436.9 310.8 L437.1 311.6 L437.3 312.2 L437.5 312.6 L437.7 312.9 L437.9 313.1 L438.2 313 L438.4 312.9 L438.6 312.6 L438.8 312.1 L439 311.7 L439.2 311.2 L439.5 310.7 L439.7 310.3 L439.9 310 L440.1 309.8 L440.3 309.8 L440.5 309.9 L440.8 310.2 L441 310.6 L441.2 311.2 L441.4 312 L441.6 312.7 L441.9 313.6 L442.1 314.4 L442.3 315.2 L442.5 316 L442.7 316.6 L442.9 317.1 L443.2 317.4 L443.4 317.6 L443.6 317.6 L443.8 317.4 L444 317.2 L444.2 316.8 L444.5 316.3 L444.7 315.8 L444.9 315.4 L445.1 314.9 L445.3 314.6 L445.5 314.4 L445.8 314.3 L446 314.4 L446.2 314.6 L446.4 315 L446.6 315.6 L446.8 316.2 L447.1 317 L447.3 317.8 L447.5 318.6 L447.7 319.4 L447.9 320.1 L448.2 320.7 L448.4 321.2 L448.6 321.6 L448.8 321.8 L449 321.8 L449.2 321.7 L449.5 321.4 L449.7 321.1 L449.9 320.6 L450.1 320.2 L450.3 319.7 L450.5 319.2 L450.8 318.9 L451 318.6 L451.2 318.5 L451.4 318.6 L451.6 318.8 L451.8 319.1 L452.1 319.6 L452.3 320.2 L452.5 321 L452.7 321.7 L452.9 322.5 L453.1 323.3 L453.4 324 L453.6 324.7 L453.8 325.2 L454 325.6 L454.2 325.8 L454.5 325.9 L454.7 325.8 L454.9 325.6 L455.1 325.2 L455.3 324.8 L455.5 324.3 L455.8 323.9 L456 323.4 L456.2 323.1 L456.4 322.8 L456.6 322.6 L456.8 322.6 L457.1 322.8 L457.3 323.1 L457.5 323.6 L457.7 324.2 L457.9 324.8 L458.1 325.6 L458.4 326.4 L458.6 327.1 L458.8 327.9 L459 328.5 L459.2 329.1 L459.4 329.5 L459.7 329.7 L459.9 329.8 L460.1 329.8 L460.3 329.6 L460.5 329.3 L460.8 328.9 L461 328.4 L461.2 328 L461.4 327.5 L461.6 327.1 L461.8 326.8 L462.1 326.7 L462.3 326.6 L462.5 326.8 L462.7 327 L462.9 327.4 L463.1 328 L463.4 328.6 L463.6 329.4 L463.8 330.1 L464 330.9 L464.2 331.6 L464.4 332.3 L464.7 332.8 L464.9 333.3 L465.1 333.6 L465.3 333.7 L465.5 333.7 L465.8 333.5 L466 333.2 L466.2 332.9 L466.4 332.4 L466.6 332 L466.8 331.5 L467.1 331.1 L467.3 330.8 L467.5 330.6 L467.7 330.6 L467.9 330.6 L468.1 330.9 L468.4 331.2 L468.6 331.8 L468.8 332.4 L469 333.1 L469.2 333.8 L469.4 334.6 L469.7 335.3 L469.9 336 L470.1 336.6 L470.3 337 L470.5 337.3 L470.7 337.5 L471 337.5 L471.2 337.4 L471.4 337.1 L471.6 336.8 L471.8 336.4 L472.1 335.9 L472.3 335.5 L472.5 335.1 L472.7 334.7 L472.9 334.5 L473.1 334.4 L473.4 334.5 L473.6 334.7 L473.8 335 L474 335.5 L474.2 336.1 L474.4 336.8 L474.7 337.5 L474.9 338.2 L475.1 339 L475.3 339.6 L475.5 340.2 L475.7 340.7 L476 341 L476.2 341.2 L476.4 341.3 L476.6 341.2 L476.8 341 L477 340.6 L477.3 340.2 L477.5 339.8 L477.7 339.4 L477.9 338.9 L478.1 338.6 L478.4 338.4 L478.6 338.2 L478.8 338.2 L479 338.4 L479.2 338.7 L479.4 339.1 L479.7 339.7 L479.9 340.4 L480.1 341.1 L480.3 341.8 L480.5 342.5 L480.7 343.2 L481 343.8 L481.2 344.3 L481.4 344.7 L481.6 344.9 L481.8 345 L482 344.9 L482.3 344.7 L482.5 344.4 L482.7 344 L482.9 343.6 L483.1 343.2 L483.3 342.7 L483.6 342.4 L483.8 342.1 L484 342 L484.2 341.9 L484.4 342.1 L484.7 342.3 L484.9 342.7 L485.1 343.3 L485.3 343.9 L485.5 344.6 L485.7 345.3 L486 346 L486.2 346.7 L486.4 347.4 L486.6 347.9 L486.8 348.3 L487 348.5 L487.3 348.6 L487.5 348.6 L487.7 348.4 L487.9 348.1 L488.1 347.8 L488.3 347.4 L488.6 346.9 L488.8 346.5 L489 346.1 L489.2 345.8 L489.4 345.6 L489.7 345.6 L489.9 345.6 L490.1 345.9 L490.3 346.2 L490.5 346.7 L490.7 347.4 L491 348 L491.2 348.8 L491.4 349.5 L491.6 350.2 L491.8 350.8 L492 351.4 L492.3 351.8 L492.5 352.1" fill="none" stroke="#000000" stroke-width="1.1" stroke-linejoin="round" clip-path="url(#c4)"/>
<g style="filter:grayscale(1)">
<text x="72.4" y="167.7" font-size="11.5" text-anchor="middle" textLength="6.6" lengthAdjust="spacingAndGlyphs">0</text>
<text x="107.4" y="167.7" font-size="11.5" text-anchor="middle" textLength="12.6" lengthAdjust="spacingAndGlyphs">10</text>
<text x="142.4" y="167.7" font-size="11.5" text-anchor="middle" textLength="13.2" lengthAdjust="spacingAndGlyphs">20</text>
<text x="177.4" y="167.7" font-size="11.5" text-anchor="middle" textLength="13.2" lengthAdjust="spacingAndGlyphs">30</text>
<text x="212.4" y="167.7" font-size="11.5" text-anchor="middle" textLength="13.2" lengthAdjust="spacingAndGlyphs">40</text>
<text x="247.4" y="167.7" font-size="11.5" text-anchor="middle" textLength="13.2" lengthAdjust="spacingAndGlyphs">50</text>
<text x="64" y="29.6" font-size="11.5" text-anchor="end" textLength="13.2" lengthAdjust="spacingAndGlyphs">50</text>
<text x="64" y="49.5" font-size="11.5" text-anchor="end" textLength="6.6" lengthAdjust="spacingAndGlyphs">0</text>
<text x="64" y="70.1" font-size="11.5" text-anchor="end" textLength="21.5" lengthAdjust="spacingAndGlyphs">&#8722;50</text>
<text x="64" y="90.7" font-size="11.5" text-anchor="end" textLength="28.6" lengthAdjust="spacingAndGlyphs">&#8722;100</text>
<text x="64" y="111.3" font-size="11.5" text-anchor="end" textLength="28.6" lengthAdjust="spacingAndGlyphs">&#8722;150</text>
<text x="64" y="131.9" font-size="11.5" text-anchor="end" textLength="28.6" lengthAdjust="spacingAndGlyphs">&#8722;200</text>
<text x="64" y="151.3" font-size="11.5" text-anchor="end" textLength="28.6" lengthAdjust="spacingAndGlyphs">&#8722;250</text>
<text x="159.55" y="14.9" font-size="13.4" text-anchor="middle" textLength="54.5" lengthAdjust="spacingAndGlyphs" xml:space="preserve">Model  6</text>
<text x="159.55" y="181.8" font-size="11.5" text-anchor="middle" textLength="31.6" lengthAdjust="spacingAndGlyphs">Orbits</text>
<text transform="translate(23.9 86.35) rotate(-90)" font-size="11.5" text-anchor="middle" textLength="120" lengthAdjust="spacingAndGlyphs">Precession [degrees]</text>
<text x="340.6" y="167.7" font-size="11.5" text-anchor="middle" textLength="6.6" lengthAdjust="spacingAndGlyphs">0</text>
<text x="377.34" y="167.7" font-size="11.5" text-anchor="middle" textLength="12.6" lengthAdjust="spacingAndGlyphs">10</text>
<text x="414.08" y="167.7" font-size="11.5" text-anchor="middle" textLength="13.2" lengthAdjust="spacingAndGlyphs">20</text>
<text x="450.82" y="167.7" font-size="11.5" text-anchor="middle" textLength="13.2" lengthAdjust="spacingAndGlyphs">30</text>
<text x="487.56" y="167.7" font-size="11.5" text-anchor="middle" textLength="13.2" lengthAdjust="spacingAndGlyphs">40</text>
<text x="524.3" y="167.7" font-size="11.5" text-anchor="middle" textLength="13.2" lengthAdjust="spacingAndGlyphs">50</text>
<text x="336" y="29.6" font-size="11.5" text-anchor="end" textLength="12.6" lengthAdjust="spacingAndGlyphs">12</text>
<text x="336" y="51.64" font-size="11.5" text-anchor="end" textLength="11.6" lengthAdjust="spacingAndGlyphs">11</text>
<text x="336" y="77.58" font-size="11.5" text-anchor="end" textLength="12.6" lengthAdjust="spacingAndGlyphs">10</text>
<text x="336" y="103.52" font-size="11.5" text-anchor="end" textLength="6.6" lengthAdjust="spacingAndGlyphs">9</text>
<text x="336" y="129.46" font-size="11.5" text-anchor="end" textLength="6.6" lengthAdjust="spacingAndGlyphs">8</text>
<text x="336" y="151.3" font-size="11.5" text-anchor="end" textLength="6.6" lengthAdjust="spacingAndGlyphs">7</text>
<text x="431.85" y="14.9" font-size="13.4" text-anchor="middle" textLength="54.5" lengthAdjust="spacingAndGlyphs" xml:space="preserve">Model  6</text>
<text x="431.85" y="181.8" font-size="11.5" text-anchor="middle" textLength="31.6" lengthAdjust="spacingAndGlyphs">Orbits</text>
<text transform="translate(313 86.35) rotate(-90)" font-size="11.5" text-anchor="middle" textLength="114.5" lengthAdjust="spacingAndGlyphs">Inclination [degrees]</text>
<text x="68" y="362.3" font-size="11.5" text-anchor="middle" textLength="6.6" lengthAdjust="spacingAndGlyphs">0</text>
<text x="98.67" y="362.3" font-size="11.5" text-anchor="middle" textLength="12.6" lengthAdjust="spacingAndGlyphs">10</text>
<text x="129.34" y="362.3" font-size="11.5" text-anchor="middle" textLength="13.2" lengthAdjust="spacingAndGlyphs">20</text>
<text x="160.01" y="362.3" font-size="11.5" text-anchor="middle" textLength="13.2" lengthAdjust="spacingAndGlyphs">30</text>
<text x="190.68" y="362.3" font-size="11.5" text-anchor="middle" textLength="13.2" lengthAdjust="spacingAndGlyphs">40</text>
<text x="221.35" y="362.3" font-size="11.5" text-anchor="middle" textLength="13.2" lengthAdjust="spacingAndGlyphs">50</text>
<text x="252.02" y="362.3" font-size="11.5" text-anchor="middle" textLength="13.2" lengthAdjust="spacingAndGlyphs">60</text>
<text x="64" y="224.2" font-size="11.5" text-anchor="end" textLength="13.2" lengthAdjust="spacingAndGlyphs">50</text>
<text x="64" y="241.85" font-size="11.5" text-anchor="end" textLength="6.6" lengthAdjust="spacingAndGlyphs">0</text>
<text x="64" y="263.4" font-size="11.5" text-anchor="end" textLength="21.5" lengthAdjust="spacingAndGlyphs">&#8722;50</text>
<text x="64" y="284.95" font-size="11.5" text-anchor="end" textLength="28.6" lengthAdjust="spacingAndGlyphs">&#8722;100</text>
<text x="64" y="306.5" font-size="11.5" text-anchor="end" textLength="28.6" lengthAdjust="spacingAndGlyphs">&#8722;150</text>
<text x="64" y="328.05" font-size="11.5" text-anchor="end" textLength="28.6" lengthAdjust="spacingAndGlyphs">&#8722;200</text>
<text x="64" y="345.5" font-size="11.5" text-anchor="end" textLength="28.6" lengthAdjust="spacingAndGlyphs">&#8722;250</text>
<text x="159.4" y="209.5" font-size="13.4" text-anchor="middle" textLength="54.5" lengthAdjust="spacingAndGlyphs" xml:space="preserve">Model  7</text>
<text x="159.4" y="376.4" font-size="11.5" text-anchor="middle" textLength="31.6" lengthAdjust="spacingAndGlyphs">Orbits</text>
<text transform="translate(23.9 280.75) rotate(-90)" font-size="11.5" text-anchor="middle" textLength="120" lengthAdjust="spacingAndGlyphs">Precession [degrees]</text>
<text x="340.6" y="362.3" font-size="11.5" text-anchor="middle" textLength="6.6" lengthAdjust="spacingAndGlyphs">0</text>
<text x="371.22" y="362.3" font-size="11.5" text-anchor="middle" textLength="12.6" lengthAdjust="spacingAndGlyphs">10</text>
<text x="401.84" y="362.3" font-size="11.5" text-anchor="middle" textLength="13.2" lengthAdjust="spacingAndGlyphs">20</text>
<text x="432.46" y="362.3" font-size="11.5" text-anchor="middle" textLength="13.2" lengthAdjust="spacingAndGlyphs">30</text>
<text x="463.08" y="362.3" font-size="11.5" text-anchor="middle" textLength="13.2" lengthAdjust="spacingAndGlyphs">40</text>
<text x="493.7" y="362.3" font-size="11.5" text-anchor="middle" textLength="13.2" lengthAdjust="spacingAndGlyphs">50</text>
<text x="524.32" y="362.3" font-size="11.5" text-anchor="middle" textLength="13.2" lengthAdjust="spacingAndGlyphs">60</text>
<text x="336" y="224.2" font-size="11.5" text-anchor="end" textLength="12.6" lengthAdjust="spacingAndGlyphs">12</text>
<text x="336" y="263.4" font-size="11.5" text-anchor="end" textLength="12.6" lengthAdjust="spacingAndGlyphs">10</text>
<text x="336" y="306.5" font-size="11.5" text-anchor="end" textLength="6.6" lengthAdjust="spacingAndGlyphs">8</text>
<text x="336" y="345.5" font-size="11.5" text-anchor="end" textLength="6.6" lengthAdjust="spacingAndGlyphs">6</text>
<text x="431.85" y="209.5" font-size="13.4" text-anchor="middle" textLength="54.5" lengthAdjust="spacingAndGlyphs" xml:space="preserve">Model  7</text>
<text x="431.85" y="376.4" font-size="11.5" text-anchor="middle" textLength="31.6" lengthAdjust="spacingAndGlyphs">Orbits</text>
<text transform="translate(313 280.75) rotate(-90)" font-size="11.5" text-anchor="middle" textLength="114.5" lengthAdjust="spacingAndGlyphs">Inclination [degrees]</text>
</g>
</svg>
</body>
</html>
